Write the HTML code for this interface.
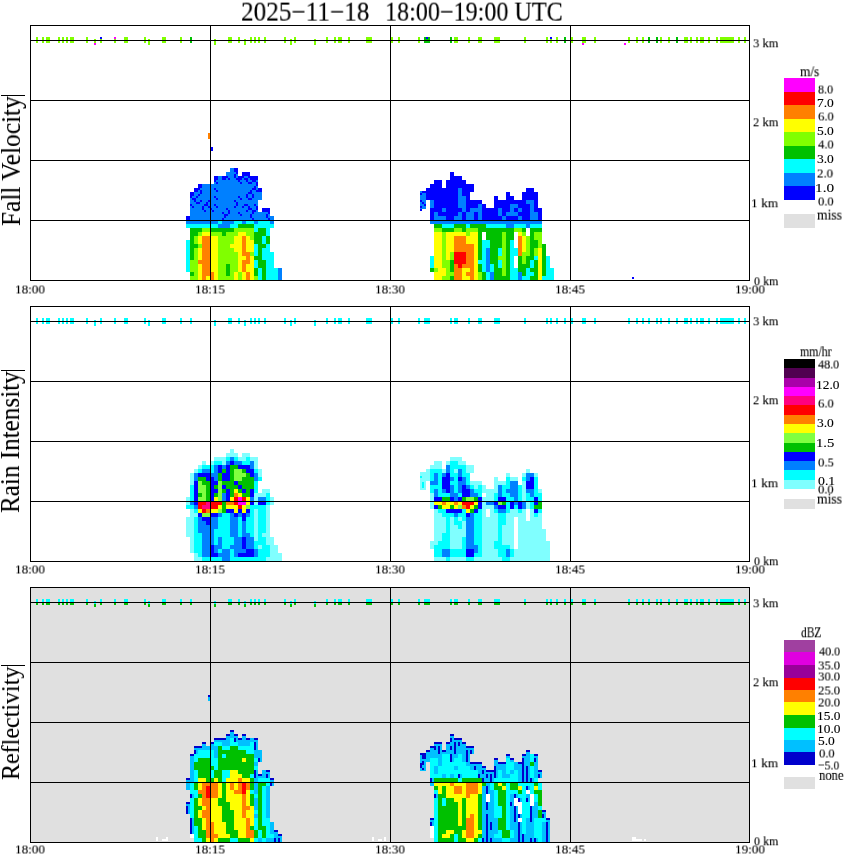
<!DOCTYPE html>
<html><head><meta charset="utf-8">
<style>
html,body{margin:0;padding:0;background:#fff;}
body{width:850px;height:868px;position:relative;overflow:hidden;font-family:"Liberation Serif",serif;color:#000;}
.t{position:absolute;left:0;top:0;white-space:nowrap;line-height:1;transform-origin:0 0;-webkit-font-smoothing:antialiased;will-change:transform;-webkit-text-stroke:0.12px #000;}
svg{position:absolute;left:0;top:0;}
</style></head><body>
<svg width="850" height="868" viewBox="0 0 850 868" shape-rendering="crispEdges">
<rect x="30" y="587" width="720" height="256" fill="#e0e0e0"/>
<rect x="230" y="168" width="4" height="4" fill="#0080ff"/>
<rect x="234" y="168" width="4" height="4" fill="#0000ff"/>
<rect x="226" y="172" width="8" height="4" fill="#0080ff"/>
<rect x="234" y="172" width="4" height="4" fill="#0080ff"/>
<rect x="236" y="172" width="2" height="2" fill="#0000ff"/>
<rect x="234" y="174" width="2" height="2" fill="#0000ff"/>
<rect x="242" y="172" width="8" height="4" fill="#0000ff"/>
<rect x="214" y="176" width="4" height="4" fill="#0000ff"/>
<rect x="218" y="176" width="4" height="4" fill="#0080ff"/>
<rect x="222" y="176" width="4" height="4" fill="#0000ff"/>
<rect x="226" y="176" width="4" height="4" fill="#0080ff"/>
<rect x="226" y="176" width="2" height="2" fill="#0000ff"/>
<rect x="228" y="178" width="2" height="2" fill="#0000ff"/>
<rect x="230" y="176" width="4" height="4" fill="#0080ff"/>
<rect x="234" y="176" width="4" height="4" fill="#0080ff"/>
<rect x="234" y="176" width="2" height="2" fill="#0000ff"/>
<rect x="236" y="178" width="2" height="2" fill="#0000ff"/>
<rect x="238" y="176" width="4" height="4" fill="#0000ff"/>
<rect x="242" y="176" width="8" height="4" fill="#0080ff"/>
<rect x="242" y="176" width="2" height="2" fill="#0000ff"/>
<rect x="244" y="178" width="2" height="2" fill="#0000ff"/>
<rect x="248" y="176" width="2" height="2" fill="#0000ff"/>
<rect x="246" y="178" width="2" height="2" fill="#0000ff"/>
<rect x="250" y="176" width="8" height="4" fill="#0000ff"/>
<rect x="214" y="180" width="4" height="4" fill="#0080ff"/>
<rect x="214" y="180" width="2" height="2" fill="#0000ff"/>
<rect x="216" y="182" width="2" height="2" fill="#0000ff"/>
<rect x="218" y="180" width="20" height="4" fill="#0080ff"/>
<rect x="238" y="180" width="4" height="4" fill="#0080ff"/>
<rect x="238" y="180" width="2" height="2" fill="#0000ff"/>
<rect x="240" y="182" width="2" height="2" fill="#0000ff"/>
<rect x="242" y="180" width="4" height="4" fill="#0080ff"/>
<rect x="246" y="180" width="12" height="4" fill="#0080ff"/>
<rect x="246" y="180" width="2" height="2" fill="#0000ff"/>
<rect x="248" y="182" width="2" height="2" fill="#0000ff"/>
<rect x="252" y="180" width="2" height="2" fill="#0000ff"/>
<rect x="250" y="182" width="2" height="2" fill="#0000ff"/>
<rect x="254" y="180" width="2" height="2" fill="#0000ff"/>
<rect x="256" y="182" width="2" height="2" fill="#0000ff"/>
<rect x="198" y="184" width="4" height="4" fill="#0000ff"/>
<rect x="202" y="184" width="52" height="4" fill="#0080ff"/>
<rect x="254" y="184" width="4" height="4" fill="#0080ff"/>
<rect x="256" y="184" width="2" height="2" fill="#0000ff"/>
<rect x="254" y="186" width="2" height="2" fill="#0000ff"/>
<rect x="194" y="188" width="4" height="4" fill="#0000ff"/>
<rect x="198" y="188" width="4" height="4" fill="#0080ff"/>
<rect x="198" y="188" width="2" height="2" fill="#0000ff"/>
<rect x="200" y="190" width="2" height="2" fill="#0000ff"/>
<rect x="202" y="188" width="12" height="4" fill="#0080ff"/>
<rect x="214" y="188" width="4" height="4" fill="#0080ff"/>
<rect x="214" y="188" width="2" height="2" fill="#0000ff"/>
<rect x="216" y="190" width="2" height="2" fill="#0000ff"/>
<rect x="218" y="188" width="32" height="4" fill="#0080ff"/>
<rect x="250" y="188" width="8" height="4" fill="#0080ff"/>
<rect x="252" y="188" width="2" height="2" fill="#0000ff"/>
<rect x="250" y="190" width="2" height="2" fill="#0000ff"/>
<rect x="254" y="188" width="2" height="2" fill="#0000ff"/>
<rect x="256" y="190" width="2" height="2" fill="#0000ff"/>
<rect x="258" y="188" width="4" height="4" fill="#0000ff"/>
<rect x="190" y="192" width="4" height="4" fill="#0000ff"/>
<rect x="194" y="192" width="4" height="4" fill="#0080ff"/>
<rect x="198" y="192" width="4" height="4" fill="#0080ff"/>
<rect x="200" y="192" width="2" height="2" fill="#0000ff"/>
<rect x="198" y="194" width="2" height="2" fill="#0000ff"/>
<rect x="202" y="192" width="44" height="4" fill="#0080ff"/>
<rect x="246" y="192" width="8" height="4" fill="#0080ff"/>
<rect x="248" y="192" width="2" height="2" fill="#0000ff"/>
<rect x="246" y="194" width="2" height="2" fill="#0000ff"/>
<rect x="250" y="192" width="2" height="2" fill="#0000ff"/>
<rect x="252" y="194" width="2" height="2" fill="#0000ff"/>
<rect x="254" y="192" width="8" height="4" fill="#0080ff"/>
<rect x="190" y="196" width="8" height="4" fill="#0080ff"/>
<rect x="190" y="196" width="2" height="2" fill="#0000ff"/>
<rect x="192" y="198" width="2" height="2" fill="#0000ff"/>
<rect x="196" y="196" width="2" height="2" fill="#0000ff"/>
<rect x="194" y="198" width="2" height="2" fill="#0000ff"/>
<rect x="198" y="196" width="16" height="4" fill="#0080ff"/>
<rect x="214" y="196" width="4" height="4" fill="#0080ff"/>
<rect x="214" y="196" width="2" height="2" fill="#0000ff"/>
<rect x="216" y="198" width="2" height="2" fill="#0000ff"/>
<rect x="218" y="196" width="20" height="4" fill="#0080ff"/>
<rect x="238" y="196" width="4" height="4" fill="#0080ff"/>
<rect x="238" y="196" width="2" height="2" fill="#0000ff"/>
<rect x="240" y="198" width="2" height="2" fill="#0000ff"/>
<rect x="242" y="196" width="4" height="4" fill="#0080ff"/>
<rect x="246" y="196" width="8" height="4" fill="#0080ff"/>
<rect x="246" y="196" width="2" height="2" fill="#0000ff"/>
<rect x="248" y="198" width="2" height="2" fill="#0000ff"/>
<rect x="252" y="196" width="2" height="2" fill="#0000ff"/>
<rect x="250" y="198" width="2" height="2" fill="#0000ff"/>
<rect x="254" y="196" width="8" height="4" fill="#0080ff"/>
<rect x="190" y="200" width="4" height="4" fill="#0080ff"/>
<rect x="194" y="200" width="8" height="4" fill="#0080ff"/>
<rect x="194" y="200" width="2" height="2" fill="#0000ff"/>
<rect x="196" y="202" width="2" height="2" fill="#0000ff"/>
<rect x="200" y="200" width="2" height="2" fill="#0000ff"/>
<rect x="198" y="202" width="2" height="2" fill="#0000ff"/>
<rect x="202" y="200" width="4" height="4" fill="#0080ff"/>
<rect x="206" y="200" width="4" height="4" fill="#0080ff"/>
<rect x="208" y="200" width="2" height="2" fill="#0000ff"/>
<rect x="206" y="202" width="2" height="2" fill="#0000ff"/>
<rect x="210" y="200" width="24" height="4" fill="#0080ff"/>
<rect x="234" y="200" width="4" height="4" fill="#0080ff"/>
<rect x="234" y="200" width="2" height="2" fill="#0000ff"/>
<rect x="236" y="202" width="2" height="2" fill="#0000ff"/>
<rect x="238" y="200" width="20" height="4" fill="#0080ff"/>
<rect x="190" y="204" width="4" height="4" fill="#0080ff"/>
<rect x="190" y="204" width="2" height="2" fill="#0000ff"/>
<rect x="192" y="206" width="2" height="2" fill="#0000ff"/>
<rect x="194" y="204" width="8" height="4" fill="#0080ff"/>
<rect x="202" y="204" width="8" height="4" fill="#0080ff"/>
<rect x="204" y="204" width="2" height="2" fill="#0000ff"/>
<rect x="202" y="206" width="2" height="2" fill="#0000ff"/>
<rect x="206" y="204" width="2" height="2" fill="#0000ff"/>
<rect x="208" y="206" width="2" height="2" fill="#0000ff"/>
<rect x="210" y="204" width="4" height="4" fill="#0080ff"/>
<rect x="214" y="204" width="4" height="4" fill="#0080ff"/>
<rect x="214" y="204" width="2" height="2" fill="#0000ff"/>
<rect x="216" y="206" width="2" height="2" fill="#0000ff"/>
<rect x="218" y="204" width="16" height="4" fill="#0080ff"/>
<rect x="234" y="204" width="4" height="4" fill="#0080ff"/>
<rect x="236" y="204" width="2" height="2" fill="#0000ff"/>
<rect x="234" y="206" width="2" height="2" fill="#0000ff"/>
<rect x="238" y="204" width="4" height="4" fill="#0080ff"/>
<rect x="242" y="204" width="8" height="4" fill="#0080ff"/>
<rect x="244" y="204" width="2" height="2" fill="#0000ff"/>
<rect x="242" y="206" width="2" height="2" fill="#0000ff"/>
<rect x="246" y="204" width="2" height="2" fill="#0000ff"/>
<rect x="248" y="206" width="2" height="2" fill="#0000ff"/>
<rect x="250" y="204" width="4" height="4" fill="#0080ff"/>
<rect x="254" y="204" width="4" height="4" fill="#0080ff"/>
<rect x="254" y="204" width="2" height="2" fill="#0000ff"/>
<rect x="256" y="206" width="2" height="2" fill="#0000ff"/>
<rect x="190" y="208" width="12" height="4" fill="#0080ff"/>
<rect x="202" y="208" width="4" height="4" fill="#0080ff"/>
<rect x="202" y="208" width="2" height="2" fill="#0000ff"/>
<rect x="204" y="210" width="2" height="2" fill="#0000ff"/>
<rect x="206" y="208" width="4" height="4" fill="#0080ff"/>
<rect x="210" y="208" width="4" height="4" fill="#0080ff"/>
<rect x="210" y="208" width="2" height="2" fill="#0000ff"/>
<rect x="212" y="210" width="2" height="2" fill="#0000ff"/>
<rect x="214" y="208" width="12" height="4" fill="#0080ff"/>
<rect x="226" y="208" width="4" height="4" fill="#0080ff"/>
<rect x="226" y="208" width="2" height="2" fill="#0000ff"/>
<rect x="228" y="210" width="2" height="2" fill="#0000ff"/>
<rect x="230" y="208" width="16" height="4" fill="#0080ff"/>
<rect x="246" y="208" width="12" height="4" fill="#0080ff"/>
<rect x="248" y="208" width="2" height="2" fill="#0000ff"/>
<rect x="246" y="210" width="2" height="2" fill="#0000ff"/>
<rect x="250" y="208" width="2" height="2" fill="#0000ff"/>
<rect x="252" y="210" width="2" height="2" fill="#0000ff"/>
<rect x="256" y="208" width="2" height="2" fill="#0000ff"/>
<rect x="254" y="210" width="2" height="2" fill="#0000ff"/>
<rect x="262" y="208" width="8" height="4" fill="#0000ff"/>
<rect x="190" y="212" width="32" height="4" fill="#0080ff"/>
<rect x="222" y="212" width="8" height="4" fill="#0080ff"/>
<rect x="222" y="212" width="2" height="2" fill="#0000ff"/>
<rect x="224" y="214" width="2" height="2" fill="#0000ff"/>
<rect x="228" y="212" width="2" height="2" fill="#0000ff"/>
<rect x="226" y="214" width="2" height="2" fill="#0000ff"/>
<rect x="230" y="212" width="8" height="4" fill="#0080ff"/>
<rect x="238" y="212" width="4" height="4" fill="#0080ff"/>
<rect x="238" y="212" width="2" height="2" fill="#0000ff"/>
<rect x="240" y="214" width="2" height="2" fill="#0000ff"/>
<rect x="242" y="212" width="8" height="4" fill="#0080ff"/>
<rect x="250" y="212" width="4" height="4" fill="#0080ff"/>
<rect x="252" y="212" width="2" height="2" fill="#0000ff"/>
<rect x="250" y="214" width="2" height="2" fill="#0000ff"/>
<rect x="254" y="212" width="12" height="4" fill="#0080ff"/>
<rect x="266" y="212" width="4" height="4" fill="#0080ff"/>
<rect x="268" y="212" width="2" height="2" fill="#0000ff"/>
<rect x="266" y="214" width="2" height="2" fill="#0000ff"/>
<rect x="186" y="216" width="4" height="4" fill="#0000ff"/>
<rect x="190" y="216" width="32" height="4" fill="#0080ff"/>
<rect x="222" y="216" width="4" height="4" fill="#0080ff"/>
<rect x="224" y="216" width="2" height="2" fill="#0000ff"/>
<rect x="222" y="218" width="2" height="2" fill="#0000ff"/>
<rect x="226" y="216" width="24" height="4" fill="#0080ff"/>
<rect x="250" y="216" width="4" height="4" fill="#0080ff"/>
<rect x="250" y="216" width="2" height="2" fill="#0000ff"/>
<rect x="252" y="218" width="2" height="2" fill="#0000ff"/>
<rect x="254" y="216" width="12" height="4" fill="#0080ff"/>
<rect x="266" y="216" width="4" height="4" fill="#0080ff"/>
<rect x="266" y="216" width="2" height="2" fill="#0000ff"/>
<rect x="268" y="218" width="2" height="2" fill="#0000ff"/>
<rect x="270" y="216" width="4" height="4" fill="#0080ff"/>
<rect x="186" y="220" width="32" height="4" fill="#0080ff"/>
<rect x="218" y="220" width="4" height="4" fill="#00ffff"/>
<rect x="222" y="220" width="12" height="4" fill="#0080ff"/>
<rect x="234" y="220" width="8" height="4" fill="#00ffff"/>
<rect x="242" y="220" width="4" height="4" fill="#0080ff"/>
<rect x="246" y="220" width="8" height="4" fill="#00ffff"/>
<rect x="254" y="220" width="4" height="4" fill="#0080ff"/>
<rect x="258" y="220" width="12" height="4" fill="#00ffff"/>
<rect x="270" y="220" width="4" height="4" fill="#0080ff"/>
<rect x="186" y="224" width="32" height="4" fill="#00ffff"/>
<rect x="218" y="224" width="12" height="4" fill="#0080ff"/>
<rect x="230" y="224" width="8" height="4" fill="#00ffff"/>
<rect x="238" y="224" width="16" height="4" fill="#00c000"/>
<rect x="254" y="224" width="20" height="4" fill="#00ffff"/>
<rect x="190" y="228" width="12" height="4" fill="#00c000"/>
<rect x="202" y="228" width="8" height="4" fill="#80ff00"/>
<rect x="210" y="228" width="24" height="4" fill="#00c000"/>
<rect x="234" y="228" width="20" height="4" fill="#80ff00"/>
<rect x="254" y="228" width="4" height="4" fill="#00ffff"/>
<rect x="258" y="228" width="8" height="4" fill="#00c000"/>
<rect x="266" y="228" width="4" height="4" fill="#00ffff"/>
<rect x="190" y="232" width="8" height="4" fill="#00c000"/>
<rect x="198" y="232" width="4" height="4" fill="#80ff00"/>
<rect x="202" y="232" width="8" height="4" fill="#ffff00"/>
<rect x="210" y="232" width="12" height="4" fill="#80ff00"/>
<rect x="222" y="232" width="4" height="4" fill="#00c000"/>
<rect x="226" y="232" width="12" height="4" fill="#80ff00"/>
<rect x="238" y="232" width="8" height="4" fill="#ffff00"/>
<rect x="246" y="232" width="8" height="4" fill="#80ff00"/>
<rect x="254" y="232" width="12" height="4" fill="#00c000"/>
<rect x="266" y="232" width="4" height="4" fill="#00ffff"/>
<rect x="190" y="236" width="4" height="4" fill="#00c000"/>
<rect x="194" y="236" width="4" height="4" fill="#80ff00"/>
<rect x="198" y="236" width="4" height="4" fill="#ffff00"/>
<rect x="202" y="236" width="8" height="4" fill="#ff8000"/>
<rect x="210" y="236" width="8" height="4" fill="#ffff00"/>
<rect x="218" y="236" width="16" height="4" fill="#80ff00"/>
<rect x="234" y="236" width="8" height="4" fill="#ffff00"/>
<rect x="242" y="236" width="4" height="4" fill="#ff8000"/>
<rect x="246" y="236" width="4" height="4" fill="#ffff00"/>
<rect x="250" y="236" width="4" height="4" fill="#80ff00"/>
<rect x="254" y="236" width="8" height="4" fill="#00c000"/>
<rect x="262" y="236" width="4" height="4" fill="#00ffff"/>
<rect x="266" y="236" width="4" height="4" fill="#00c000"/>
<rect x="186" y="240" width="4" height="4" fill="#00ffff"/>
<rect x="190" y="240" width="4" height="4" fill="#00c000"/>
<rect x="194" y="240" width="4" height="4" fill="#80ff00"/>
<rect x="198" y="240" width="4" height="4" fill="#ffff00"/>
<rect x="202" y="240" width="8" height="4" fill="#ff8000"/>
<rect x="210" y="240" width="8" height="4" fill="#ffff00"/>
<rect x="218" y="240" width="16" height="4" fill="#80ff00"/>
<rect x="234" y="240" width="8" height="4" fill="#ffff00"/>
<rect x="242" y="240" width="4" height="4" fill="#ff8000"/>
<rect x="246" y="240" width="8" height="4" fill="#ffff00"/>
<rect x="254" y="240" width="8" height="4" fill="#00c000"/>
<rect x="262" y="240" width="4" height="4" fill="#00ffff"/>
<rect x="266" y="240" width="4" height="4" fill="#00c000"/>
<rect x="186" y="244" width="4" height="4" fill="#00ffff"/>
<rect x="190" y="244" width="8" height="4" fill="#00c000"/>
<rect x="198" y="244" width="4" height="4" fill="#80ff00"/>
<rect x="202" y="244" width="8" height="4" fill="#ff8000"/>
<rect x="210" y="244" width="8" height="4" fill="#ffff00"/>
<rect x="218" y="244" width="12" height="4" fill="#80ff00"/>
<rect x="230" y="244" width="12" height="4" fill="#ffff00"/>
<rect x="242" y="244" width="4" height="4" fill="#ff8000"/>
<rect x="246" y="244" width="8" height="4" fill="#ffff00"/>
<rect x="254" y="244" width="4" height="4" fill="#00ffff"/>
<rect x="258" y="244" width="8" height="4" fill="#00c000"/>
<rect x="266" y="244" width="4" height="4" fill="#00ffff"/>
<rect x="186" y="248" width="4" height="4" fill="#00ffff"/>
<rect x="190" y="248" width="4" height="4" fill="#00c000"/>
<rect x="194" y="248" width="4" height="4" fill="#80ff00"/>
<rect x="198" y="248" width="4" height="4" fill="#ffff00"/>
<rect x="202" y="248" width="8" height="4" fill="#ff8000"/>
<rect x="210" y="248" width="8" height="4" fill="#ffff00"/>
<rect x="218" y="248" width="16" height="4" fill="#80ff00"/>
<rect x="234" y="248" width="8" height="4" fill="#ffff00"/>
<rect x="242" y="248" width="4" height="4" fill="#ff8000"/>
<rect x="246" y="248" width="8" height="4" fill="#ffff00"/>
<rect x="254" y="248" width="4" height="4" fill="#00ffff"/>
<rect x="258" y="248" width="4" height="4" fill="#00c000"/>
<rect x="262" y="248" width="8" height="4" fill="#00ffff"/>
<rect x="186" y="252" width="4" height="4" fill="#00ffff"/>
<rect x="190" y="252" width="4" height="4" fill="#00c000"/>
<rect x="194" y="252" width="4" height="4" fill="#80ff00"/>
<rect x="198" y="252" width="4" height="4" fill="#ffff00"/>
<rect x="202" y="252" width="8" height="4" fill="#ff8000"/>
<rect x="210" y="252" width="8" height="4" fill="#ffff00"/>
<rect x="218" y="252" width="20" height="4" fill="#80ff00"/>
<rect x="238" y="252" width="4" height="4" fill="#ffff00"/>
<rect x="242" y="252" width="8" height="4" fill="#ff8000"/>
<rect x="250" y="252" width="4" height="4" fill="#80ff00"/>
<rect x="254" y="252" width="4" height="4" fill="#00ffff"/>
<rect x="258" y="252" width="4" height="4" fill="#00c000"/>
<rect x="262" y="252" width="12" height="4" fill="#00ffff"/>
<rect x="186" y="256" width="4" height="4" fill="#00ffff"/>
<rect x="190" y="256" width="4" height="4" fill="#00c000"/>
<rect x="194" y="256" width="4" height="4" fill="#80ff00"/>
<rect x="198" y="256" width="4" height="4" fill="#ffff00"/>
<rect x="202" y="256" width="8" height="4" fill="#ff8000"/>
<rect x="210" y="256" width="8" height="4" fill="#ffff00"/>
<rect x="218" y="256" width="20" height="4" fill="#80ff00"/>
<rect x="238" y="256" width="8" height="4" fill="#ffff00"/>
<rect x="246" y="256" width="4" height="4" fill="#ff8000"/>
<rect x="250" y="256" width="4" height="4" fill="#ffff00"/>
<rect x="254" y="256" width="8" height="4" fill="#00c000"/>
<rect x="262" y="256" width="12" height="4" fill="#00ffff"/>
<rect x="186" y="260" width="4" height="4" fill="#00ffff"/>
<rect x="190" y="260" width="8" height="4" fill="#80ff00"/>
<rect x="198" y="260" width="12" height="4" fill="#ff8000"/>
<rect x="210" y="260" width="8" height="4" fill="#ffff00"/>
<rect x="218" y="260" width="20" height="4" fill="#80ff00"/>
<rect x="238" y="260" width="4" height="4" fill="#ffff00"/>
<rect x="242" y="260" width="8" height="4" fill="#ff8000"/>
<rect x="250" y="260" width="4" height="4" fill="#ffff00"/>
<rect x="254" y="260" width="4" height="4" fill="#00ffff"/>
<rect x="258" y="260" width="8" height="4" fill="#00c000"/>
<rect x="266" y="260" width="8" height="4" fill="#00ffff"/>
<rect x="186" y="264" width="4" height="4" fill="#00ffff"/>
<rect x="190" y="264" width="8" height="4" fill="#80ff00"/>
<rect x="198" y="264" width="4" height="4" fill="#ffff00"/>
<rect x="202" y="264" width="8" height="4" fill="#ff8000"/>
<rect x="210" y="264" width="8" height="4" fill="#ffff00"/>
<rect x="218" y="264" width="8" height="4" fill="#80ff00"/>
<rect x="226" y="264" width="4" height="4" fill="#00c000"/>
<rect x="230" y="264" width="8" height="4" fill="#80ff00"/>
<rect x="238" y="264" width="4" height="4" fill="#ffff00"/>
<rect x="242" y="264" width="4" height="4" fill="#ff8000"/>
<rect x="246" y="264" width="8" height="4" fill="#ffff00"/>
<rect x="254" y="264" width="4" height="4" fill="#00ffff"/>
<rect x="258" y="264" width="8" height="4" fill="#00c000"/>
<rect x="266" y="264" width="8" height="4" fill="#00ffff"/>
<rect x="186" y="268" width="4" height="4" fill="#00ffff"/>
<rect x="190" y="268" width="8" height="4" fill="#80ff00"/>
<rect x="198" y="268" width="4" height="4" fill="#ffff00"/>
<rect x="202" y="268" width="8" height="4" fill="#ff8000"/>
<rect x="210" y="268" width="8" height="4" fill="#ffff00"/>
<rect x="218" y="268" width="8" height="4" fill="#80ff00"/>
<rect x="226" y="268" width="4" height="4" fill="#00c000"/>
<rect x="230" y="268" width="8" height="4" fill="#80ff00"/>
<rect x="238" y="268" width="4" height="4" fill="#ffff00"/>
<rect x="242" y="268" width="4" height="4" fill="#ff8000"/>
<rect x="246" y="268" width="8" height="4" fill="#ffff00"/>
<rect x="254" y="268" width="4" height="4" fill="#00c000"/>
<rect x="258" y="268" width="4" height="4" fill="#00ffff"/>
<rect x="262" y="268" width="4" height="4" fill="#00c000"/>
<rect x="266" y="268" width="12" height="4" fill="#00ffff"/>
<rect x="278" y="268" width="4" height="4" fill="#0080ff"/>
<rect x="190" y="272" width="4" height="4" fill="#00c000"/>
<rect x="194" y="272" width="4" height="4" fill="#80ff00"/>
<rect x="198" y="272" width="4" height="4" fill="#ffff00"/>
<rect x="202" y="272" width="12" height="4" fill="#ff8000"/>
<rect x="214" y="272" width="4" height="4" fill="#ffff00"/>
<rect x="218" y="272" width="8" height="4" fill="#80ff00"/>
<rect x="226" y="272" width="4" height="4" fill="#00c000"/>
<rect x="230" y="272" width="4" height="4" fill="#80ff00"/>
<rect x="234" y="272" width="4" height="4" fill="#ffff00"/>
<rect x="238" y="272" width="4" height="4" fill="#80ff00"/>
<rect x="242" y="272" width="4" height="4" fill="#ffff00"/>
<rect x="246" y="272" width="4" height="4" fill="#ff8000"/>
<rect x="250" y="272" width="4" height="4" fill="#ffff00"/>
<rect x="254" y="272" width="4" height="4" fill="#00c000"/>
<rect x="258" y="272" width="4" height="4" fill="#00ffff"/>
<rect x="262" y="272" width="4" height="4" fill="#00c000"/>
<rect x="266" y="272" width="12" height="4" fill="#00ffff"/>
<rect x="278" y="272" width="4" height="4" fill="#0080ff"/>
<rect x="190" y="276" width="8" height="4" fill="#80ff00"/>
<rect x="198" y="276" width="4" height="4" fill="#ffff00"/>
<rect x="202" y="276" width="4" height="4" fill="#ff8000"/>
<rect x="206" y="276" width="4" height="4" fill="#ffff00"/>
<rect x="210" y="276" width="4" height="4" fill="#ff8000"/>
<rect x="214" y="276" width="4" height="4" fill="#ffff00"/>
<rect x="218" y="276" width="16" height="4" fill="#80ff00"/>
<rect x="234" y="276" width="4" height="4" fill="#ffff00"/>
<rect x="238" y="276" width="4" height="4" fill="#80ff00"/>
<rect x="242" y="276" width="4" height="4" fill="#ffff00"/>
<rect x="246" y="276" width="4" height="4" fill="#ff8000"/>
<rect x="250" y="276" width="4" height="4" fill="#ffff00"/>
<rect x="254" y="276" width="4" height="4" fill="#80ff00"/>
<rect x="258" y="276" width="4" height="4" fill="#00ffff"/>
<rect x="262" y="276" width="4" height="4" fill="#00c000"/>
<rect x="266" y="276" width="12" height="4" fill="#00ffff"/>
<rect x="278" y="276" width="4" height="4" fill="#0080ff"/>
<rect x="450" y="172" width="4" height="4" fill="#0000ff"/>
<rect x="450" y="176" width="12" height="4" fill="#0000ff"/>
<rect x="434" y="180" width="8" height="4" fill="#0000ff"/>
<rect x="446" y="180" width="20" height="4" fill="#0000ff"/>
<rect x="430" y="184" width="12" height="4" fill="#0000ff"/>
<rect x="446" y="184" width="28" height="4" fill="#0000ff"/>
<rect x="426" y="188" width="32" height="4" fill="#0000ff"/>
<rect x="458" y="188" width="4" height="4" fill="#0080ff"/>
<rect x="462" y="188" width="12" height="4" fill="#0000ff"/>
<rect x="526" y="188" width="8" height="4" fill="#0000ff"/>
<rect x="426" y="192" width="32" height="4" fill="#0000ff"/>
<rect x="458" y="192" width="4" height="4" fill="#0080ff"/>
<rect x="462" y="192" width="8" height="4" fill="#0000ff"/>
<rect x="506" y="192" width="4" height="4" fill="#0000ff"/>
<rect x="522" y="192" width="16" height="4" fill="#0000ff"/>
<rect x="426" y="196" width="32" height="4" fill="#0000ff"/>
<rect x="458" y="196" width="8" height="4" fill="#0080ff"/>
<rect x="466" y="196" width="4" height="4" fill="#0000ff"/>
<rect x="494" y="196" width="4" height="4" fill="#0000ff"/>
<rect x="506" y="196" width="8" height="4" fill="#0000ff"/>
<rect x="522" y="196" width="16" height="4" fill="#0000ff"/>
<rect x="430" y="200" width="4" height="4" fill="#0080ff"/>
<rect x="434" y="200" width="24" height="4" fill="#0000ff"/>
<rect x="458" y="200" width="8" height="4" fill="#0080ff"/>
<rect x="466" y="200" width="16" height="4" fill="#0000ff"/>
<rect x="494" y="200" width="32" height="4" fill="#0000ff"/>
<rect x="526" y="200" width="8" height="4" fill="#0080ff"/>
<rect x="534" y="200" width="4" height="4" fill="#0000ff"/>
<rect x="430" y="204" width="4" height="4" fill="#0080ff"/>
<rect x="434" y="204" width="24" height="4" fill="#0000ff"/>
<rect x="458" y="204" width="8" height="4" fill="#0080ff"/>
<rect x="466" y="204" width="12" height="4" fill="#0000ff"/>
<rect x="478" y="204" width="4" height="4" fill="#0080ff"/>
<rect x="482" y="204" width="4" height="4" fill="#0000ff"/>
<rect x="494" y="204" width="16" height="4" fill="#0000ff"/>
<rect x="510" y="204" width="8" height="4" fill="#0080ff"/>
<rect x="518" y="204" width="12" height="4" fill="#0000ff"/>
<rect x="530" y="204" width="4" height="4" fill="#0080ff"/>
<rect x="534" y="204" width="4" height="4" fill="#0000ff"/>
<rect x="430" y="208" width="12" height="4" fill="#0000ff"/>
<rect x="442" y="208" width="4" height="4" fill="#0080ff"/>
<rect x="446" y="208" width="16" height="4" fill="#0000ff"/>
<rect x="462" y="208" width="4" height="4" fill="#0080ff"/>
<rect x="466" y="208" width="4" height="4" fill="#0000ff"/>
<rect x="470" y="208" width="12" height="4" fill="#0080ff"/>
<rect x="482" y="208" width="16" height="4" fill="#0000ff"/>
<rect x="498" y="208" width="4" height="4" fill="#0080ff"/>
<rect x="502" y="208" width="8" height="4" fill="#0000ff"/>
<rect x="510" y="208" width="4" height="4" fill="#0080ff"/>
<rect x="514" y="208" width="4" height="4" fill="#0000ff"/>
<rect x="518" y="208" width="4" height="4" fill="#0080ff"/>
<rect x="522" y="208" width="8" height="4" fill="#0000ff"/>
<rect x="530" y="208" width="4" height="4" fill="#0080ff"/>
<rect x="534" y="208" width="8" height="4" fill="#0000ff"/>
<rect x="430" y="212" width="4" height="4" fill="#0000ff"/>
<rect x="434" y="212" width="4" height="4" fill="#0080ff"/>
<rect x="438" y="212" width="20" height="4" fill="#0000ff"/>
<rect x="458" y="212" width="4" height="4" fill="#0080ff"/>
<rect x="462" y="212" width="4" height="4" fill="#0000ff"/>
<rect x="466" y="212" width="8" height="4" fill="#0080ff"/>
<rect x="474" y="212" width="4" height="4" fill="#0000ff"/>
<rect x="478" y="212" width="4" height="4" fill="#0080ff"/>
<rect x="482" y="212" width="16" height="4" fill="#0000ff"/>
<rect x="498" y="212" width="4" height="4" fill="#0080ff"/>
<rect x="502" y="212" width="4" height="4" fill="#0000ff"/>
<rect x="506" y="212" width="12" height="4" fill="#0080ff"/>
<rect x="518" y="212" width="12" height="4" fill="#0000ff"/>
<rect x="530" y="212" width="8" height="4" fill="#0080ff"/>
<rect x="538" y="212" width="4" height="4" fill="#0000ff"/>
<rect x="430" y="216" width="4" height="4" fill="#0000ff"/>
<rect x="434" y="216" width="12" height="4" fill="#0080ff"/>
<rect x="446" y="216" width="8" height="4" fill="#0000ff"/>
<rect x="454" y="216" width="8" height="4" fill="#0080ff"/>
<rect x="462" y="216" width="4" height="4" fill="#0000ff"/>
<rect x="466" y="216" width="8" height="4" fill="#0080ff"/>
<rect x="474" y="216" width="4" height="4" fill="#0000ff"/>
<rect x="478" y="216" width="4" height="4" fill="#0080ff"/>
<rect x="482" y="216" width="20" height="4" fill="#0000ff"/>
<rect x="502" y="216" width="4" height="4" fill="#0080ff"/>
<rect x="506" y="216" width="12" height="4" fill="#0000ff"/>
<rect x="518" y="216" width="4" height="4" fill="#0080ff"/>
<rect x="522" y="216" width="8" height="4" fill="#0000ff"/>
<rect x="530" y="216" width="8" height="4" fill="#0080ff"/>
<rect x="538" y="216" width="4" height="4" fill="#0000ff"/>
<rect x="430" y="220" width="112" height="4" fill="#0080ff"/>
<rect x="434" y="224" width="8" height="4" fill="#00c000"/>
<rect x="442" y="224" width="12" height="4" fill="#00ffff"/>
<rect x="454" y="224" width="12" height="4" fill="#00c000"/>
<rect x="466" y="224" width="4" height="4" fill="#00ffff"/>
<rect x="470" y="224" width="16" height="4" fill="#00c000"/>
<rect x="486" y="224" width="20" height="4" fill="#00ffff"/>
<rect x="506" y="224" width="8" height="4" fill="#0080ff"/>
<rect x="514" y="224" width="12" height="4" fill="#00ffff"/>
<rect x="526" y="224" width="4" height="4" fill="#0080ff"/>
<rect x="530" y="224" width="12" height="4" fill="#00ffff"/>
<rect x="434" y="228" width="8" height="4" fill="#80ff00"/>
<rect x="442" y="228" width="12" height="4" fill="#00c000"/>
<rect x="454" y="228" width="8" height="4" fill="#80ff00"/>
<rect x="462" y="228" width="4" height="4" fill="#00c000"/>
<rect x="466" y="228" width="12" height="4" fill="#80ff00"/>
<rect x="478" y="228" width="36" height="4" fill="#00c000"/>
<rect x="514" y="228" width="8" height="4" fill="#80ff00"/>
<rect x="522" y="228" width="4" height="4" fill="#00c000"/>
<rect x="530" y="228" width="12" height="4" fill="#00c000"/>
<rect x="434" y="232" width="8" height="4" fill="#ffff00"/>
<rect x="442" y="232" width="4" height="4" fill="#80ff00"/>
<rect x="446" y="232" width="20" height="4" fill="#ffff00"/>
<rect x="466" y="232" width="4" height="4" fill="#80ff00"/>
<rect x="470" y="232" width="8" height="4" fill="#ffff00"/>
<rect x="478" y="232" width="4" height="4" fill="#00c000"/>
<rect x="486" y="232" width="16" height="4" fill="#00c000"/>
<rect x="502" y="232" width="4" height="4" fill="#80ff00"/>
<rect x="506" y="232" width="8" height="4" fill="#00c000"/>
<rect x="518" y="232" width="4" height="4" fill="#ffff00"/>
<rect x="522" y="232" width="4" height="4" fill="#80ff00"/>
<rect x="530" y="232" width="4" height="4" fill="#00c000"/>
<rect x="534" y="232" width="8" height="4" fill="#80ff00"/>
<rect x="434" y="236" width="8" height="4" fill="#ffff00"/>
<rect x="442" y="236" width="4" height="4" fill="#80ff00"/>
<rect x="446" y="236" width="8" height="4" fill="#ffff00"/>
<rect x="454" y="236" width="12" height="4" fill="#ff8000"/>
<rect x="466" y="236" width="12" height="4" fill="#ffff00"/>
<rect x="478" y="236" width="4" height="4" fill="#00c000"/>
<rect x="486" y="236" width="16" height="4" fill="#00c000"/>
<rect x="502" y="236" width="4" height="4" fill="#80ff00"/>
<rect x="506" y="236" width="8" height="4" fill="#00c000"/>
<rect x="518" y="236" width="4" height="4" fill="#ff8000"/>
<rect x="522" y="236" width="4" height="4" fill="#ffff00"/>
<rect x="526" y="236" width="4" height="4" fill="#80ff00"/>
<rect x="530" y="236" width="4" height="4" fill="#00c000"/>
<rect x="534" y="236" width="8" height="4" fill="#80ff00"/>
<rect x="434" y="240" width="8" height="4" fill="#ffff00"/>
<rect x="442" y="240" width="4" height="4" fill="#80ff00"/>
<rect x="446" y="240" width="8" height="4" fill="#ffff00"/>
<rect x="454" y="240" width="12" height="4" fill="#ff8000"/>
<rect x="466" y="240" width="12" height="4" fill="#ffff00"/>
<rect x="478" y="240" width="4" height="4" fill="#00c000"/>
<rect x="482" y="240" width="8" height="4" fill="#00ffff"/>
<rect x="490" y="240" width="12" height="4" fill="#00c000"/>
<rect x="502" y="240" width="4" height="4" fill="#80ff00"/>
<rect x="506" y="240" width="4" height="4" fill="#00c000"/>
<rect x="510" y="240" width="4" height="4" fill="#00ffff"/>
<rect x="518" y="240" width="4" height="4" fill="#ff8000"/>
<rect x="522" y="240" width="4" height="4" fill="#ffff00"/>
<rect x="526" y="240" width="4" height="4" fill="#80ff00"/>
<rect x="530" y="240" width="8" height="4" fill="#00c000"/>
<rect x="538" y="240" width="4" height="4" fill="#80ff00"/>
<rect x="434" y="244" width="8" height="4" fill="#ffff00"/>
<rect x="442" y="244" width="4" height="4" fill="#80ff00"/>
<rect x="446" y="244" width="8" height="4" fill="#ffff00"/>
<rect x="454" y="244" width="20" height="4" fill="#ff8000"/>
<rect x="474" y="244" width="4" height="4" fill="#ffff00"/>
<rect x="478" y="244" width="4" height="4" fill="#00c000"/>
<rect x="482" y="244" width="8" height="4" fill="#00ffff"/>
<rect x="490" y="244" width="12" height="4" fill="#00c000"/>
<rect x="502" y="244" width="4" height="4" fill="#80ff00"/>
<rect x="506" y="244" width="4" height="4" fill="#00c000"/>
<rect x="510" y="244" width="4" height="4" fill="#00ffff"/>
<rect x="518" y="244" width="4" height="4" fill="#ff8000"/>
<rect x="522" y="244" width="4" height="4" fill="#ffff00"/>
<rect x="526" y="244" width="4" height="4" fill="#80ff00"/>
<rect x="530" y="244" width="8" height="4" fill="#00c000"/>
<rect x="538" y="244" width="4" height="4" fill="#80ff00"/>
<rect x="542" y="244" width="4" height="4" fill="#00c000"/>
<rect x="434" y="248" width="8" height="4" fill="#ffff00"/>
<rect x="442" y="248" width="4" height="4" fill="#80ff00"/>
<rect x="446" y="248" width="8" height="4" fill="#ffff00"/>
<rect x="454" y="248" width="20" height="4" fill="#ff8000"/>
<rect x="474" y="248" width="4" height="4" fill="#ffff00"/>
<rect x="478" y="248" width="4" height="4" fill="#00c000"/>
<rect x="482" y="248" width="4" height="4" fill="#00ffff"/>
<rect x="486" y="248" width="4" height="4" fill="#0080ff"/>
<rect x="490" y="248" width="8" height="4" fill="#00c000"/>
<rect x="498" y="248" width="4" height="4" fill="#00ffff"/>
<rect x="502" y="248" width="4" height="4" fill="#80ff00"/>
<rect x="506" y="248" width="4" height="4" fill="#00c000"/>
<rect x="510" y="248" width="8" height="4" fill="#00ffff"/>
<rect x="518" y="248" width="4" height="4" fill="#ff8000"/>
<rect x="522" y="248" width="4" height="4" fill="#ffff00"/>
<rect x="526" y="248" width="4" height="4" fill="#80ff00"/>
<rect x="530" y="248" width="4" height="4" fill="#00c000"/>
<rect x="534" y="248" width="4" height="4" fill="#80ff00"/>
<rect x="538" y="248" width="4" height="4" fill="#ffff00"/>
<rect x="542" y="248" width="4" height="4" fill="#00c000"/>
<rect x="434" y="252" width="8" height="4" fill="#ffff00"/>
<rect x="442" y="252" width="4" height="4" fill="#80ff00"/>
<rect x="446" y="252" width="4" height="4" fill="#ffff00"/>
<rect x="450" y="252" width="4" height="4" fill="#80ff00"/>
<rect x="454" y="252" width="12" height="4" fill="#ff0000"/>
<rect x="466" y="252" width="8" height="4" fill="#ff8000"/>
<rect x="474" y="252" width="4" height="4" fill="#ffff00"/>
<rect x="478" y="252" width="4" height="4" fill="#00c000"/>
<rect x="482" y="252" width="4" height="4" fill="#00ffff"/>
<rect x="486" y="252" width="4" height="4" fill="#0080ff"/>
<rect x="490" y="252" width="8" height="4" fill="#00c000"/>
<rect x="498" y="252" width="4" height="4" fill="#00ffff"/>
<rect x="502" y="252" width="4" height="4" fill="#80ff00"/>
<rect x="506" y="252" width="4" height="4" fill="#00c000"/>
<rect x="510" y="252" width="8" height="4" fill="#00ffff"/>
<rect x="518" y="252" width="4" height="4" fill="#ff8000"/>
<rect x="522" y="252" width="8" height="4" fill="#80ff00"/>
<rect x="530" y="252" width="4" height="4" fill="#00c000"/>
<rect x="534" y="252" width="4" height="4" fill="#80ff00"/>
<rect x="538" y="252" width="4" height="4" fill="#ffff00"/>
<rect x="542" y="252" width="4" height="4" fill="#00c000"/>
<rect x="430" y="256" width="4" height="4" fill="#00ffff"/>
<rect x="434" y="256" width="8" height="4" fill="#ffff00"/>
<rect x="442" y="256" width="4" height="4" fill="#80ff00"/>
<rect x="446" y="256" width="4" height="4" fill="#ffff00"/>
<rect x="450" y="256" width="4" height="4" fill="#80ff00"/>
<rect x="454" y="256" width="12" height="4" fill="#ff0000"/>
<rect x="466" y="256" width="8" height="4" fill="#ff8000"/>
<rect x="474" y="256" width="4" height="4" fill="#ffff00"/>
<rect x="478" y="256" width="4" height="4" fill="#00c000"/>
<rect x="482" y="256" width="4" height="4" fill="#00ffff"/>
<rect x="486" y="256" width="4" height="4" fill="#0080ff"/>
<rect x="490" y="256" width="8" height="4" fill="#00c000"/>
<rect x="498" y="256" width="8" height="4" fill="#80ff00"/>
<rect x="506" y="256" width="4" height="4" fill="#00c000"/>
<rect x="510" y="256" width="4" height="4" fill="#00ffff"/>
<rect x="518" y="256" width="4" height="4" fill="#00c000"/>
<rect x="522" y="256" width="4" height="4" fill="#80ff00"/>
<rect x="526" y="256" width="8" height="4" fill="#00c000"/>
<rect x="534" y="256" width="4" height="4" fill="#00ffff"/>
<rect x="538" y="256" width="4" height="4" fill="#ffff00"/>
<rect x="542" y="256" width="4" height="4" fill="#00c000"/>
<rect x="546" y="256" width="4" height="4" fill="#00ffff"/>
<rect x="430" y="260" width="4" height="4" fill="#00ffff"/>
<rect x="434" y="260" width="8" height="4" fill="#ffff00"/>
<rect x="442" y="260" width="8" height="4" fill="#80ff00"/>
<rect x="450" y="260" width="4" height="4" fill="#00c000"/>
<rect x="454" y="260" width="12" height="4" fill="#ff0000"/>
<rect x="466" y="260" width="8" height="4" fill="#ff8000"/>
<rect x="474" y="260" width="4" height="4" fill="#ffff00"/>
<rect x="478" y="260" width="8" height="4" fill="#00ffff"/>
<rect x="486" y="260" width="4" height="4" fill="#0080ff"/>
<rect x="490" y="260" width="8" height="4" fill="#00c000"/>
<rect x="498" y="260" width="4" height="4" fill="#00ffff"/>
<rect x="502" y="260" width="4" height="4" fill="#80ff00"/>
<rect x="506" y="260" width="4" height="4" fill="#00c000"/>
<rect x="510" y="260" width="4" height="4" fill="#00ffff"/>
<rect x="518" y="260" width="4" height="4" fill="#00c000"/>
<rect x="522" y="260" width="4" height="4" fill="#80ff00"/>
<rect x="526" y="260" width="4" height="4" fill="#00c000"/>
<rect x="530" y="260" width="4" height="4" fill="#00ffff"/>
<rect x="534" y="260" width="4" height="4" fill="#00c000"/>
<rect x="538" y="260" width="4" height="4" fill="#ffff00"/>
<rect x="542" y="260" width="4" height="4" fill="#00c000"/>
<rect x="546" y="260" width="4" height="4" fill="#00ffff"/>
<rect x="430" y="264" width="4" height="4" fill="#00ffff"/>
<rect x="434" y="264" width="8" height="4" fill="#ffff00"/>
<rect x="442" y="264" width="8" height="4" fill="#80ff00"/>
<rect x="450" y="264" width="4" height="4" fill="#00c000"/>
<rect x="454" y="264" width="4" height="4" fill="#ff8000"/>
<rect x="458" y="264" width="4" height="4" fill="#ff0000"/>
<rect x="462" y="264" width="12" height="4" fill="#ff8000"/>
<rect x="474" y="264" width="4" height="4" fill="#ffff00"/>
<rect x="478" y="264" width="4" height="4" fill="#00c000"/>
<rect x="482" y="264" width="4" height="4" fill="#00ffff"/>
<rect x="486" y="264" width="4" height="4" fill="#0080ff"/>
<rect x="490" y="264" width="4" height="4" fill="#00ffff"/>
<rect x="494" y="264" width="4" height="4" fill="#00c000"/>
<rect x="498" y="264" width="4" height="4" fill="#00ffff"/>
<rect x="502" y="264" width="4" height="4" fill="#80ff00"/>
<rect x="506" y="264" width="4" height="4" fill="#00c000"/>
<rect x="510" y="264" width="4" height="4" fill="#00ffff"/>
<rect x="518" y="264" width="12" height="4" fill="#00c000"/>
<rect x="530" y="264" width="4" height="4" fill="#00ffff"/>
<rect x="534" y="264" width="4" height="4" fill="#00c000"/>
<rect x="538" y="264" width="4" height="4" fill="#ffff00"/>
<rect x="542" y="264" width="4" height="4" fill="#00c000"/>
<rect x="546" y="264" width="4" height="4" fill="#00ffff"/>
<rect x="430" y="268" width="4" height="4" fill="#00c000"/>
<rect x="434" y="268" width="4" height="4" fill="#80ff00"/>
<rect x="438" y="268" width="8" height="4" fill="#ffff00"/>
<rect x="446" y="268" width="4" height="4" fill="#80ff00"/>
<rect x="450" y="268" width="4" height="4" fill="#00c000"/>
<rect x="454" y="268" width="8" height="4" fill="#ff8000"/>
<rect x="462" y="268" width="8" height="4" fill="#ffff00"/>
<rect x="470" y="268" width="4" height="4" fill="#ff8000"/>
<rect x="474" y="268" width="4" height="4" fill="#ffff00"/>
<rect x="478" y="268" width="4" height="4" fill="#00c000"/>
<rect x="482" y="268" width="4" height="4" fill="#00ffff"/>
<rect x="486" y="268" width="4" height="4" fill="#0080ff"/>
<rect x="490" y="268" width="4" height="4" fill="#00ffff"/>
<rect x="494" y="268" width="8" height="4" fill="#00c000"/>
<rect x="502" y="268" width="4" height="4" fill="#80ff00"/>
<rect x="506" y="268" width="4" height="4" fill="#00c000"/>
<rect x="510" y="268" width="8" height="4" fill="#00ffff"/>
<rect x="518" y="268" width="8" height="4" fill="#00c000"/>
<rect x="526" y="268" width="4" height="4" fill="#00ffff"/>
<rect x="530" y="268" width="8" height="4" fill="#00c000"/>
<rect x="538" y="268" width="4" height="4" fill="#ffff00"/>
<rect x="542" y="268" width="4" height="4" fill="#00c000"/>
<rect x="546" y="268" width="8" height="4" fill="#00ffff"/>
<rect x="434" y="272" width="12" height="4" fill="#ffff00"/>
<rect x="446" y="272" width="8" height="4" fill="#80ff00"/>
<rect x="454" y="272" width="8" height="4" fill="#ff8000"/>
<rect x="462" y="272" width="4" height="4" fill="#ffff00"/>
<rect x="466" y="272" width="8" height="4" fill="#ff8000"/>
<rect x="474" y="272" width="4" height="4" fill="#ffff00"/>
<rect x="478" y="272" width="4" height="4" fill="#80ff00"/>
<rect x="482" y="272" width="4" height="4" fill="#00c000"/>
<rect x="486" y="272" width="4" height="4" fill="#00ffff"/>
<rect x="490" y="272" width="4" height="4" fill="#0080ff"/>
<rect x="494" y="272" width="8" height="4" fill="#00c000"/>
<rect x="502" y="272" width="4" height="4" fill="#80ff00"/>
<rect x="506" y="272" width="4" height="4" fill="#00c000"/>
<rect x="510" y="272" width="8" height="4" fill="#00ffff"/>
<rect x="518" y="272" width="4" height="4" fill="#0080ff"/>
<rect x="522" y="272" width="4" height="4" fill="#00c000"/>
<rect x="526" y="272" width="8" height="4" fill="#00ffff"/>
<rect x="534" y="272" width="4" height="4" fill="#00c000"/>
<rect x="538" y="272" width="4" height="4" fill="#ffff00"/>
<rect x="542" y="272" width="4" height="4" fill="#00c000"/>
<rect x="546" y="272" width="8" height="4" fill="#00ffff"/>
<rect x="434" y="276" width="8" height="4" fill="#ffff00"/>
<rect x="442" y="276" width="8" height="4" fill="#80ff00"/>
<rect x="450" y="276" width="4" height="4" fill="#00c000"/>
<rect x="454" y="276" width="8" height="4" fill="#ff8000"/>
<rect x="462" y="276" width="8" height="4" fill="#ffff00"/>
<rect x="470" y="276" width="4" height="4" fill="#ff8000"/>
<rect x="474" y="276" width="4" height="4" fill="#ffff00"/>
<rect x="478" y="276" width="4" height="4" fill="#80ff00"/>
<rect x="482" y="276" width="4" height="4" fill="#00c000"/>
<rect x="486" y="276" width="4" height="4" fill="#00ffff"/>
<rect x="490" y="276" width="4" height="4" fill="#0080ff"/>
<rect x="494" y="276" width="16" height="4" fill="#00c000"/>
<rect x="510" y="276" width="8" height="4" fill="#00ffff"/>
<rect x="518" y="276" width="4" height="4" fill="#0080ff"/>
<rect x="522" y="276" width="8" height="4" fill="#00ffff"/>
<rect x="530" y="276" width="8" height="4" fill="#00c000"/>
<rect x="538" y="276" width="4" height="4" fill="#ffff00"/>
<rect x="542" y="276" width="12" height="4" fill="#00ffff"/>
<rect x="230" y="449" width="4" height="4" fill="#80ffff"/>
<rect x="226" y="453" width="12" height="4" fill="#80ffff"/>
<rect x="242" y="453" width="8" height="4" fill="#80ffff"/>
<rect x="214" y="457" width="12" height="4" fill="#80ffff"/>
<rect x="226" y="457" width="4" height="4" fill="#00ffff"/>
<rect x="230" y="457" width="4" height="4" fill="#0080ff"/>
<rect x="234" y="457" width="4" height="4" fill="#00ffff"/>
<rect x="238" y="457" width="8" height="4" fill="#80ffff"/>
<rect x="246" y="457" width="4" height="4" fill="#00ffff"/>
<rect x="250" y="457" width="8" height="4" fill="#80ffff"/>
<rect x="202" y="461" width="4" height="4" fill="#80ffff"/>
<rect x="210" y="461" width="4" height="4" fill="#80ffff"/>
<rect x="214" y="461" width="8" height="4" fill="#00ffff"/>
<rect x="222" y="461" width="4" height="4" fill="#80ffff"/>
<rect x="226" y="461" width="4" height="4" fill="#0080ff"/>
<rect x="230" y="461" width="4" height="4" fill="#0000ff"/>
<rect x="234" y="461" width="8" height="4" fill="#0080ff"/>
<rect x="242" y="461" width="8" height="4" fill="#00ffff"/>
<rect x="250" y="461" width="4" height="4" fill="#0080ff"/>
<rect x="254" y="461" width="4" height="4" fill="#80ffff"/>
<rect x="198" y="465" width="4" height="4" fill="#80ffff"/>
<rect x="202" y="465" width="12" height="4" fill="#00ffff"/>
<rect x="214" y="465" width="4" height="4" fill="#0080ff"/>
<rect x="218" y="465" width="4" height="4" fill="#0000ff"/>
<rect x="222" y="465" width="4" height="4" fill="#0080ff"/>
<rect x="226" y="465" width="4" height="4" fill="#0000ff"/>
<rect x="230" y="465" width="8" height="4" fill="#00c000"/>
<rect x="238" y="465" width="12" height="4" fill="#0000ff"/>
<rect x="250" y="465" width="4" height="4" fill="#0080ff"/>
<rect x="254" y="465" width="4" height="4" fill="#80ffff"/>
<rect x="194" y="469" width="4" height="4" fill="#80ffff"/>
<rect x="198" y="469" width="4" height="4" fill="#00ffff"/>
<rect x="202" y="469" width="8" height="4" fill="#0080ff"/>
<rect x="210" y="469" width="4" height="4" fill="#00ffff"/>
<rect x="214" y="469" width="4" height="4" fill="#0080ff"/>
<rect x="218" y="469" width="4" height="4" fill="#0000ff"/>
<rect x="222" y="469" width="4" height="4" fill="#00c000"/>
<rect x="226" y="469" width="4" height="4" fill="#0000ff"/>
<rect x="230" y="469" width="4" height="4" fill="#00c000"/>
<rect x="234" y="469" width="8" height="4" fill="#80ff40"/>
<rect x="242" y="469" width="4" height="4" fill="#00c000"/>
<rect x="246" y="469" width="8" height="4" fill="#0000ff"/>
<rect x="254" y="469" width="4" height="4" fill="#00ffff"/>
<rect x="258" y="469" width="4" height="4" fill="#80ffff"/>
<rect x="190" y="473" width="4" height="4" fill="#80ffff"/>
<rect x="194" y="473" width="4" height="4" fill="#0080ff"/>
<rect x="198" y="473" width="12" height="4" fill="#0000ff"/>
<rect x="210" y="473" width="8" height="4" fill="#0080ff"/>
<rect x="218" y="473" width="4" height="4" fill="#00c000"/>
<rect x="222" y="473" width="8" height="4" fill="#0000ff"/>
<rect x="230" y="473" width="4" height="4" fill="#00c000"/>
<rect x="234" y="473" width="12" height="4" fill="#80ff40"/>
<rect x="246" y="473" width="4" height="4" fill="#00c000"/>
<rect x="250" y="473" width="4" height="4" fill="#0000ff"/>
<rect x="254" y="473" width="4" height="4" fill="#0080ff"/>
<rect x="258" y="473" width="4" height="4" fill="#80ffff"/>
<rect x="190" y="477" width="4" height="4" fill="#80ffff"/>
<rect x="194" y="477" width="4" height="4" fill="#0080ff"/>
<rect x="198" y="477" width="8" height="4" fill="#00c000"/>
<rect x="206" y="477" width="8" height="4" fill="#0000ff"/>
<rect x="214" y="477" width="4" height="4" fill="#0080ff"/>
<rect x="218" y="477" width="4" height="4" fill="#00c000"/>
<rect x="222" y="477" width="8" height="4" fill="#0000ff"/>
<rect x="230" y="477" width="4" height="4" fill="#00c000"/>
<rect x="234" y="477" width="8" height="4" fill="#80ff40"/>
<rect x="242" y="477" width="12" height="4" fill="#00c000"/>
<rect x="254" y="477" width="4" height="4" fill="#0080ff"/>
<rect x="258" y="477" width="4" height="4" fill="#00ffff"/>
<rect x="190" y="481" width="4" height="4" fill="#80ffff"/>
<rect x="194" y="481" width="4" height="4" fill="#0000ff"/>
<rect x="198" y="481" width="4" height="4" fill="#80ff40"/>
<rect x="202" y="481" width="8" height="4" fill="#00c000"/>
<rect x="210" y="481" width="8" height="4" fill="#0000ff"/>
<rect x="218" y="481" width="4" height="4" fill="#80ff40"/>
<rect x="222" y="481" width="12" height="4" fill="#00c000"/>
<rect x="234" y="481" width="4" height="4" fill="#0000ff"/>
<rect x="238" y="481" width="16" height="4" fill="#00c000"/>
<rect x="254" y="481" width="4" height="4" fill="#00ffff"/>
<rect x="190" y="485" width="4" height="4" fill="#00ffff"/>
<rect x="194" y="485" width="4" height="4" fill="#0000ff"/>
<rect x="198" y="485" width="8" height="4" fill="#80ff40"/>
<rect x="206" y="485" width="4" height="4" fill="#00c000"/>
<rect x="210" y="485" width="4" height="4" fill="#0000ff"/>
<rect x="214" y="485" width="4" height="4" fill="#00c000"/>
<rect x="218" y="485" width="4" height="4" fill="#80ff40"/>
<rect x="222" y="485" width="4" height="4" fill="#0000ff"/>
<rect x="226" y="485" width="12" height="4" fill="#00c000"/>
<rect x="238" y="485" width="4" height="4" fill="#0000ff"/>
<rect x="242" y="485" width="12" height="4" fill="#00c000"/>
<rect x="254" y="485" width="4" height="4" fill="#00ffff"/>
<rect x="190" y="489" width="4" height="4" fill="#00ffff"/>
<rect x="194" y="489" width="4" height="4" fill="#0000ff"/>
<rect x="198" y="489" width="8" height="4" fill="#80ff40"/>
<rect x="206" y="489" width="4" height="4" fill="#00c000"/>
<rect x="210" y="489" width="8" height="4" fill="#0000ff"/>
<rect x="218" y="489" width="4" height="4" fill="#80ff40"/>
<rect x="222" y="489" width="4" height="4" fill="#00c000"/>
<rect x="226" y="489" width="4" height="4" fill="#0000ff"/>
<rect x="230" y="489" width="4" height="4" fill="#00c000"/>
<rect x="234" y="489" width="4" height="4" fill="#ffff00"/>
<rect x="238" y="489" width="4" height="4" fill="#00c000"/>
<rect x="242" y="489" width="4" height="4" fill="#0000ff"/>
<rect x="246" y="489" width="4" height="4" fill="#00c000"/>
<rect x="250" y="489" width="4" height="4" fill="#0000ff"/>
<rect x="254" y="489" width="4" height="4" fill="#00ffff"/>
<rect x="262" y="489" width="8" height="4" fill="#80ffff"/>
<rect x="190" y="493" width="4" height="4" fill="#00ffff"/>
<rect x="194" y="493" width="4" height="4" fill="#0000ff"/>
<rect x="198" y="493" width="4" height="4" fill="#00c000"/>
<rect x="202" y="493" width="4" height="4" fill="#80ff40"/>
<rect x="206" y="493" width="4" height="4" fill="#00c000"/>
<rect x="210" y="493" width="4" height="4" fill="#0000ff"/>
<rect x="214" y="493" width="4" height="4" fill="#00c000"/>
<rect x="218" y="493" width="4" height="4" fill="#80ff40"/>
<rect x="222" y="493" width="4" height="4" fill="#0080ff"/>
<rect x="226" y="493" width="4" height="4" fill="#0000ff"/>
<rect x="230" y="493" width="4" height="4" fill="#00c000"/>
<rect x="234" y="493" width="4" height="4" fill="#ff8000"/>
<rect x="238" y="493" width="4" height="4" fill="#ffff00"/>
<rect x="242" y="493" width="8" height="4" fill="#00c000"/>
<rect x="250" y="493" width="4" height="4" fill="#0000ff"/>
<rect x="254" y="493" width="12" height="4" fill="#80ffff"/>
<rect x="266" y="493" width="4" height="4" fill="#00ffff"/>
<rect x="186" y="497" width="4" height="4" fill="#80ffff"/>
<rect x="190" y="497" width="4" height="4" fill="#00ffff"/>
<rect x="194" y="497" width="4" height="4" fill="#0000ff"/>
<rect x="198" y="497" width="8" height="4" fill="#80ff40"/>
<rect x="206" y="497" width="4" height="4" fill="#00c000"/>
<rect x="210" y="497" width="4" height="4" fill="#0000ff"/>
<rect x="214" y="497" width="4" height="4" fill="#ffff00"/>
<rect x="218" y="497" width="4" height="4" fill="#80ff40"/>
<rect x="222" y="497" width="4" height="4" fill="#0080ff"/>
<rect x="226" y="497" width="4" height="4" fill="#0000ff"/>
<rect x="230" y="497" width="4" height="4" fill="#ffff00"/>
<rect x="234" y="497" width="4" height="4" fill="#ff0000"/>
<rect x="238" y="497" width="4" height="4" fill="#ff00ff"/>
<rect x="242" y="497" width="4" height="4" fill="#ff0000"/>
<rect x="246" y="497" width="4" height="4" fill="#ffff00"/>
<rect x="250" y="497" width="4" height="4" fill="#0080ff"/>
<rect x="254" y="497" width="4" height="4" fill="#80ffff"/>
<rect x="258" y="497" width="8" height="4" fill="#0080ff"/>
<rect x="266" y="497" width="4" height="4" fill="#00ffff"/>
<rect x="270" y="497" width="4" height="4" fill="#80ffff"/>
<rect x="186" y="501" width="4" height="4" fill="#80ffff"/>
<rect x="190" y="501" width="4" height="4" fill="#0080ff"/>
<rect x="194" y="501" width="4" height="4" fill="#0000ff"/>
<rect x="198" y="501" width="8" height="4" fill="#ff0000"/>
<rect x="206" y="501" width="4" height="4" fill="#ff0080"/>
<rect x="210" y="501" width="12" height="4" fill="#ff0000"/>
<rect x="222" y="501" width="4" height="4" fill="#00c000"/>
<rect x="226" y="501" width="8" height="4" fill="#ff8000"/>
<rect x="234" y="501" width="4" height="4" fill="#ff0000"/>
<rect x="238" y="501" width="8" height="4" fill="#ff00ff"/>
<rect x="246" y="501" width="4" height="4" fill="#ffff00"/>
<rect x="250" y="501" width="4" height="4" fill="#0000ff"/>
<rect x="254" y="501" width="4" height="4" fill="#80ffff"/>
<rect x="258" y="501" width="8" height="4" fill="#0000ff"/>
<rect x="266" y="501" width="4" height="4" fill="#00ffff"/>
<rect x="270" y="501" width="4" height="4" fill="#80ffff"/>
<rect x="186" y="505" width="8" height="4" fill="#00ffff"/>
<rect x="194" y="505" width="4" height="4" fill="#0080ff"/>
<rect x="198" y="505" width="4" height="4" fill="#ff0000"/>
<rect x="202" y="505" width="8" height="4" fill="#ff0080"/>
<rect x="210" y="505" width="8" height="4" fill="#ff0000"/>
<rect x="218" y="505" width="4" height="4" fill="#ffff00"/>
<rect x="222" y="505" width="4" height="4" fill="#00c000"/>
<rect x="226" y="505" width="12" height="4" fill="#ffff00"/>
<rect x="238" y="505" width="4" height="4" fill="#ff0000"/>
<rect x="242" y="505" width="4" height="4" fill="#ffff00"/>
<rect x="246" y="505" width="4" height="4" fill="#80ff40"/>
<rect x="250" y="505" width="16" height="4" fill="#00ffff"/>
<rect x="266" y="505" width="4" height="4" fill="#80ffff"/>
<rect x="190" y="509" width="4" height="4" fill="#80ffff"/>
<rect x="194" y="509" width="4" height="4" fill="#00ffff"/>
<rect x="198" y="509" width="4" height="4" fill="#ffff00"/>
<rect x="202" y="509" width="4" height="4" fill="#ff0000"/>
<rect x="206" y="509" width="4" height="4" fill="#ff8000"/>
<rect x="210" y="509" width="8" height="4" fill="#ffff00"/>
<rect x="218" y="509" width="4" height="4" fill="#80ff40"/>
<rect x="222" y="509" width="4" height="4" fill="#00c000"/>
<rect x="226" y="509" width="8" height="4" fill="#0000ff"/>
<rect x="234" y="509" width="4" height="4" fill="#ffff00"/>
<rect x="238" y="509" width="4" height="4" fill="#0000ff"/>
<rect x="242" y="509" width="4" height="4" fill="#ffff00"/>
<rect x="246" y="509" width="4" height="4" fill="#0000ff"/>
<rect x="250" y="509" width="4" height="4" fill="#00ffff"/>
<rect x="254" y="509" width="4" height="4" fill="#80ffff"/>
<rect x="258" y="509" width="8" height="4" fill="#00ffff"/>
<rect x="266" y="509" width="4" height="4" fill="#80ffff"/>
<rect x="190" y="513" width="8" height="4" fill="#80ffff"/>
<rect x="198" y="513" width="4" height="4" fill="#0000ff"/>
<rect x="202" y="513" width="8" height="4" fill="#80ff40"/>
<rect x="210" y="513" width="8" height="4" fill="#0000ff"/>
<rect x="218" y="513" width="4" height="4" fill="#0080ff"/>
<rect x="222" y="513" width="8" height="4" fill="#00ffff"/>
<rect x="230" y="513" width="4" height="4" fill="#0080ff"/>
<rect x="234" y="513" width="4" height="4" fill="#0000ff"/>
<rect x="238" y="513" width="4" height="4" fill="#0080ff"/>
<rect x="242" y="513" width="4" height="4" fill="#0000ff"/>
<rect x="246" y="513" width="4" height="4" fill="#0080ff"/>
<rect x="250" y="513" width="4" height="4" fill="#00ffff"/>
<rect x="254" y="513" width="4" height="4" fill="#80ffff"/>
<rect x="258" y="513" width="8" height="4" fill="#00ffff"/>
<rect x="266" y="513" width="4" height="4" fill="#80ffff"/>
<rect x="186" y="517" width="8" height="4" fill="#80ffff"/>
<rect x="194" y="517" width="4" height="4" fill="#00ffff"/>
<rect x="198" y="517" width="4" height="4" fill="#0080ff"/>
<rect x="202" y="517" width="8" height="4" fill="#0000ff"/>
<rect x="210" y="517" width="8" height="4" fill="#0080ff"/>
<rect x="218" y="517" width="12" height="4" fill="#00ffff"/>
<rect x="230" y="517" width="8" height="4" fill="#0080ff"/>
<rect x="238" y="517" width="4" height="4" fill="#00ffff"/>
<rect x="242" y="517" width="4" height="4" fill="#0000ff"/>
<rect x="246" y="517" width="8" height="4" fill="#00ffff"/>
<rect x="254" y="517" width="4" height="4" fill="#80ffff"/>
<rect x="258" y="517" width="8" height="4" fill="#00ffff"/>
<rect x="266" y="517" width="4" height="4" fill="#80ffff"/>
<rect x="186" y="521" width="8" height="4" fill="#80ffff"/>
<rect x="194" y="521" width="4" height="4" fill="#00ffff"/>
<rect x="198" y="521" width="8" height="4" fill="#0080ff"/>
<rect x="206" y="521" width="4" height="4" fill="#0000ff"/>
<rect x="210" y="521" width="8" height="4" fill="#0080ff"/>
<rect x="218" y="521" width="12" height="4" fill="#00ffff"/>
<rect x="230" y="521" width="8" height="4" fill="#0080ff"/>
<rect x="238" y="521" width="4" height="4" fill="#00ffff"/>
<rect x="242" y="521" width="4" height="4" fill="#0080ff"/>
<rect x="246" y="521" width="8" height="4" fill="#00ffff"/>
<rect x="254" y="521" width="4" height="4" fill="#80ffff"/>
<rect x="258" y="521" width="8" height="4" fill="#00ffff"/>
<rect x="266" y="521" width="4" height="4" fill="#80ffff"/>
<rect x="186" y="525" width="8" height="4" fill="#80ffff"/>
<rect x="194" y="525" width="4" height="4" fill="#00ffff"/>
<rect x="198" y="525" width="20" height="4" fill="#0080ff"/>
<rect x="218" y="525" width="12" height="4" fill="#00ffff"/>
<rect x="230" y="525" width="8" height="4" fill="#0080ff"/>
<rect x="238" y="525" width="4" height="4" fill="#00ffff"/>
<rect x="242" y="525" width="4" height="4" fill="#0080ff"/>
<rect x="246" y="525" width="8" height="4" fill="#00ffff"/>
<rect x="254" y="525" width="4" height="4" fill="#80ffff"/>
<rect x="258" y="525" width="8" height="4" fill="#00ffff"/>
<rect x="266" y="525" width="4" height="4" fill="#80ffff"/>
<rect x="186" y="529" width="8" height="4" fill="#80ffff"/>
<rect x="194" y="529" width="4" height="4" fill="#00ffff"/>
<rect x="198" y="529" width="16" height="4" fill="#0080ff"/>
<rect x="214" y="529" width="16" height="4" fill="#00ffff"/>
<rect x="230" y="529" width="8" height="4" fill="#0080ff"/>
<rect x="238" y="529" width="4" height="4" fill="#00ffff"/>
<rect x="242" y="529" width="4" height="4" fill="#0080ff"/>
<rect x="246" y="529" width="8" height="4" fill="#00ffff"/>
<rect x="254" y="529" width="4" height="4" fill="#80ffff"/>
<rect x="258" y="529" width="8" height="4" fill="#00ffff"/>
<rect x="266" y="529" width="4" height="4" fill="#80ffff"/>
<rect x="186" y="533" width="8" height="4" fill="#80ffff"/>
<rect x="194" y="533" width="8" height="4" fill="#00ffff"/>
<rect x="202" y="533" width="12" height="4" fill="#0080ff"/>
<rect x="214" y="533" width="16" height="4" fill="#00ffff"/>
<rect x="230" y="533" width="8" height="4" fill="#0080ff"/>
<rect x="238" y="533" width="4" height="4" fill="#00ffff"/>
<rect x="242" y="533" width="8" height="4" fill="#0080ff"/>
<rect x="250" y="533" width="4" height="4" fill="#00ffff"/>
<rect x="254" y="533" width="4" height="4" fill="#80ffff"/>
<rect x="258" y="533" width="4" height="4" fill="#00ffff"/>
<rect x="262" y="533" width="8" height="4" fill="#80ffff"/>
<rect x="190" y="537" width="4" height="4" fill="#80ffff"/>
<rect x="194" y="537" width="8" height="4" fill="#00ffff"/>
<rect x="202" y="537" width="12" height="4" fill="#0080ff"/>
<rect x="214" y="537" width="4" height="4" fill="#00ffff"/>
<rect x="218" y="537" width="4" height="4" fill="#0080ff"/>
<rect x="222" y="537" width="12" height="4" fill="#00ffff"/>
<rect x="234" y="537" width="8" height="4" fill="#0080ff"/>
<rect x="242" y="537" width="4" height="4" fill="#0000ff"/>
<rect x="246" y="537" width="8" height="4" fill="#0080ff"/>
<rect x="254" y="537" width="4" height="4" fill="#80ffff"/>
<rect x="258" y="537" width="8" height="4" fill="#00ffff"/>
<rect x="266" y="537" width="8" height="4" fill="#80ffff"/>
<rect x="190" y="541" width="4" height="4" fill="#80ffff"/>
<rect x="194" y="541" width="8" height="4" fill="#00ffff"/>
<rect x="202" y="541" width="12" height="4" fill="#0080ff"/>
<rect x="214" y="541" width="4" height="4" fill="#00ffff"/>
<rect x="218" y="541" width="4" height="4" fill="#0080ff"/>
<rect x="222" y="541" width="12" height="4" fill="#00ffff"/>
<rect x="234" y="541" width="8" height="4" fill="#0080ff"/>
<rect x="242" y="541" width="4" height="4" fill="#0000ff"/>
<rect x="246" y="541" width="8" height="4" fill="#0080ff"/>
<rect x="254" y="541" width="12" height="4" fill="#00ffff"/>
<rect x="266" y="541" width="8" height="4" fill="#80ffff"/>
<rect x="190" y="545" width="4" height="4" fill="#80ffff"/>
<rect x="194" y="545" width="8" height="4" fill="#00ffff"/>
<rect x="202" y="545" width="8" height="4" fill="#0080ff"/>
<rect x="210" y="545" width="4" height="4" fill="#0000ff"/>
<rect x="214" y="545" width="8" height="4" fill="#0080ff"/>
<rect x="222" y="545" width="8" height="4" fill="#00ffff"/>
<rect x="230" y="545" width="12" height="4" fill="#0080ff"/>
<rect x="242" y="545" width="4" height="4" fill="#0000ff"/>
<rect x="246" y="545" width="8" height="4" fill="#0080ff"/>
<rect x="254" y="545" width="4" height="4" fill="#00ffff"/>
<rect x="258" y="545" width="4" height="4" fill="#80ffff"/>
<rect x="262" y="545" width="8" height="4" fill="#00ffff"/>
<rect x="270" y="545" width="8" height="4" fill="#80ffff"/>
<rect x="190" y="549" width="4" height="4" fill="#80ffff"/>
<rect x="194" y="549" width="8" height="4" fill="#00ffff"/>
<rect x="202" y="549" width="8" height="4" fill="#0080ff"/>
<rect x="210" y="549" width="4" height="4" fill="#0000ff"/>
<rect x="214" y="549" width="4" height="4" fill="#0080ff"/>
<rect x="218" y="549" width="4" height="4" fill="#00ffff"/>
<rect x="222" y="549" width="8" height="4" fill="#0080ff"/>
<rect x="230" y="549" width="4" height="4" fill="#00ffff"/>
<rect x="234" y="549" width="12" height="4" fill="#0080ff"/>
<rect x="246" y="549" width="8" height="4" fill="#0000ff"/>
<rect x="254" y="549" width="4" height="4" fill="#0080ff"/>
<rect x="258" y="549" width="12" height="4" fill="#00ffff"/>
<rect x="270" y="549" width="8" height="4" fill="#80ffff"/>
<rect x="194" y="553" width="4" height="4" fill="#80ffff"/>
<rect x="198" y="553" width="4" height="4" fill="#00ffff"/>
<rect x="202" y="553" width="8" height="4" fill="#0080ff"/>
<rect x="210" y="553" width="8" height="4" fill="#0000ff"/>
<rect x="218" y="553" width="12" height="4" fill="#0080ff"/>
<rect x="230" y="553" width="4" height="4" fill="#00ffff"/>
<rect x="234" y="553" width="4" height="4" fill="#0080ff"/>
<rect x="238" y="553" width="16" height="4" fill="#0000ff"/>
<rect x="254" y="553" width="4" height="4" fill="#0080ff"/>
<rect x="258" y="553" width="12" height="4" fill="#00ffff"/>
<rect x="270" y="553" width="12" height="4" fill="#80ffff"/>
<rect x="194" y="557" width="8" height="4" fill="#80ffff"/>
<rect x="202" y="557" width="20" height="4" fill="#00ffff"/>
<rect x="222" y="557" width="8" height="4" fill="#0080ff"/>
<rect x="230" y="557" width="36" height="4" fill="#00ffff"/>
<rect x="266" y="557" width="16" height="4" fill="#80ffff"/>
<rect x="450" y="457" width="12" height="4" fill="#80ffff"/>
<rect x="434" y="461" width="8" height="4" fill="#80ffff"/>
<rect x="446" y="461" width="4" height="4" fill="#80ffff"/>
<rect x="450" y="461" width="8" height="4" fill="#00ffff"/>
<rect x="458" y="461" width="8" height="4" fill="#80ffff"/>
<rect x="430" y="465" width="12" height="4" fill="#80ffff"/>
<rect x="446" y="465" width="4" height="4" fill="#0080ff"/>
<rect x="450" y="465" width="16" height="4" fill="#00ffff"/>
<rect x="466" y="465" width="8" height="4" fill="#80ffff"/>
<rect x="426" y="469" width="4" height="4" fill="#80ffff"/>
<rect x="430" y="469" width="12" height="4" fill="#00ffff"/>
<rect x="442" y="469" width="4" height="4" fill="#80ffff"/>
<rect x="446" y="469" width="4" height="4" fill="#0080ff"/>
<rect x="450" y="469" width="4" height="4" fill="#00ffff"/>
<rect x="454" y="469" width="4" height="4" fill="#80ffff"/>
<rect x="458" y="469" width="4" height="4" fill="#0080ff"/>
<rect x="462" y="469" width="4" height="4" fill="#00ffff"/>
<rect x="466" y="469" width="8" height="4" fill="#80ffff"/>
<rect x="526" y="469" width="4" height="4" fill="#80ffff"/>
<rect x="426" y="473" width="4" height="4" fill="#80ffff"/>
<rect x="430" y="473" width="4" height="4" fill="#00ffff"/>
<rect x="434" y="473" width="4" height="4" fill="#0080ff"/>
<rect x="438" y="473" width="4" height="4" fill="#00ffff"/>
<rect x="442" y="473" width="4" height="4" fill="#0080ff"/>
<rect x="446" y="473" width="4" height="4" fill="#0000ff"/>
<rect x="450" y="473" width="8" height="4" fill="#00ffff"/>
<rect x="458" y="473" width="4" height="4" fill="#0080ff"/>
<rect x="462" y="473" width="8" height="4" fill="#00ffff"/>
<rect x="506" y="473" width="4" height="4" fill="#80ffff"/>
<rect x="522" y="473" width="4" height="4" fill="#80ffff"/>
<rect x="526" y="473" width="8" height="4" fill="#0080ff"/>
<rect x="534" y="473" width="4" height="4" fill="#80ffff"/>
<rect x="426" y="477" width="4" height="4" fill="#80ffff"/>
<rect x="430" y="477" width="4" height="4" fill="#00ffff"/>
<rect x="434" y="477" width="4" height="4" fill="#0080ff"/>
<rect x="438" y="477" width="4" height="4" fill="#00ffff"/>
<rect x="442" y="477" width="8" height="4" fill="#0000ff"/>
<rect x="450" y="477" width="4" height="4" fill="#0080ff"/>
<rect x="454" y="477" width="4" height="4" fill="#00ffff"/>
<rect x="458" y="477" width="4" height="4" fill="#0000ff"/>
<rect x="462" y="477" width="4" height="4" fill="#0080ff"/>
<rect x="466" y="477" width="4" height="4" fill="#00ffff"/>
<rect x="494" y="477" width="4" height="4" fill="#80ffff"/>
<rect x="506" y="477" width="4" height="4" fill="#00ffff"/>
<rect x="510" y="477" width="8" height="4" fill="#80ffff"/>
<rect x="522" y="477" width="4" height="4" fill="#00ffff"/>
<rect x="526" y="477" width="4" height="4" fill="#0080ff"/>
<rect x="530" y="477" width="4" height="4" fill="#0000ff"/>
<rect x="534" y="477" width="4" height="4" fill="#00ffff"/>
<rect x="430" y="481" width="8" height="4" fill="#0080ff"/>
<rect x="438" y="481" width="4" height="4" fill="#00ffff"/>
<rect x="442" y="481" width="8" height="4" fill="#0000ff"/>
<rect x="450" y="481" width="8" height="4" fill="#00ffff"/>
<rect x="458" y="481" width="8" height="4" fill="#0080ff"/>
<rect x="466" y="481" width="4" height="4" fill="#00ffff"/>
<rect x="470" y="481" width="12" height="4" fill="#80ffff"/>
<rect x="494" y="481" width="12" height="4" fill="#80ffff"/>
<rect x="506" y="481" width="4" height="4" fill="#00ffff"/>
<rect x="510" y="481" width="8" height="4" fill="#0080ff"/>
<rect x="522" y="481" width="4" height="4" fill="#80ffff"/>
<rect x="526" y="481" width="8" height="4" fill="#0000ff"/>
<rect x="534" y="481" width="4" height="4" fill="#00ffff"/>
<rect x="430" y="485" width="12" height="4" fill="#00ffff"/>
<rect x="442" y="485" width="8" height="4" fill="#0000ff"/>
<rect x="450" y="485" width="4" height="4" fill="#0080ff"/>
<rect x="454" y="485" width="4" height="4" fill="#00ffff"/>
<rect x="458" y="485" width="4" height="4" fill="#0080ff"/>
<rect x="462" y="485" width="4" height="4" fill="#0000ff"/>
<rect x="466" y="485" width="4" height="4" fill="#0080ff"/>
<rect x="470" y="485" width="4" height="4" fill="#00ffff"/>
<rect x="474" y="485" width="4" height="4" fill="#80ffff"/>
<rect x="478" y="485" width="4" height="4" fill="#00ffff"/>
<rect x="482" y="485" width="4" height="4" fill="#80ffff"/>
<rect x="494" y="485" width="4" height="4" fill="#80ffff"/>
<rect x="498" y="485" width="4" height="4" fill="#0080ff"/>
<rect x="502" y="485" width="8" height="4" fill="#00ffff"/>
<rect x="510" y="485" width="8" height="4" fill="#0080ff"/>
<rect x="518" y="485" width="4" height="4" fill="#00ffff"/>
<rect x="522" y="485" width="4" height="4" fill="#80ffff"/>
<rect x="526" y="485" width="8" height="4" fill="#0000ff"/>
<rect x="534" y="485" width="4" height="4" fill="#00ffff"/>
<rect x="430" y="489" width="4" height="4" fill="#00ffff"/>
<rect x="434" y="489" width="4" height="4" fill="#0080ff"/>
<rect x="438" y="489" width="4" height="4" fill="#00ffff"/>
<rect x="442" y="489" width="4" height="4" fill="#0080ff"/>
<rect x="446" y="489" width="4" height="4" fill="#0000ff"/>
<rect x="450" y="489" width="4" height="4" fill="#0080ff"/>
<rect x="454" y="489" width="4" height="4" fill="#00ffff"/>
<rect x="458" y="489" width="4" height="4" fill="#0080ff"/>
<rect x="462" y="489" width="8" height="4" fill="#0000ff"/>
<rect x="470" y="489" width="4" height="4" fill="#0080ff"/>
<rect x="474" y="489" width="8" height="4" fill="#00ffff"/>
<rect x="482" y="489" width="16" height="4" fill="#80ffff"/>
<rect x="498" y="489" width="4" height="4" fill="#0080ff"/>
<rect x="502" y="489" width="4" height="4" fill="#00ffff"/>
<rect x="506" y="489" width="12" height="4" fill="#0080ff"/>
<rect x="518" y="489" width="4" height="4" fill="#00ffff"/>
<rect x="522" y="489" width="4" height="4" fill="#80ffff"/>
<rect x="526" y="489" width="8" height="4" fill="#0080ff"/>
<rect x="534" y="489" width="4" height="4" fill="#00ffff"/>
<rect x="538" y="489" width="4" height="4" fill="#80ffff"/>
<rect x="430" y="493" width="4" height="4" fill="#80ffff"/>
<rect x="434" y="493" width="4" height="4" fill="#0080ff"/>
<rect x="438" y="493" width="12" height="4" fill="#00ffff"/>
<rect x="450" y="493" width="8" height="4" fill="#0080ff"/>
<rect x="458" y="493" width="4" height="4" fill="#00ffff"/>
<rect x="462" y="493" width="8" height="4" fill="#0000ff"/>
<rect x="470" y="493" width="8" height="4" fill="#0080ff"/>
<rect x="478" y="493" width="4" height="4" fill="#00ffff"/>
<rect x="486" y="493" width="8" height="4" fill="#80ffff"/>
<rect x="494" y="493" width="4" height="4" fill="#00ffff"/>
<rect x="498" y="493" width="4" height="4" fill="#0080ff"/>
<rect x="502" y="493" width="8" height="4" fill="#00ffff"/>
<rect x="510" y="493" width="8" height="4" fill="#0080ff"/>
<rect x="518" y="493" width="4" height="4" fill="#00ffff"/>
<rect x="522" y="493" width="4" height="4" fill="#80ffff"/>
<rect x="526" y="493" width="4" height="4" fill="#00ffff"/>
<rect x="530" y="493" width="4" height="4" fill="#0080ff"/>
<rect x="534" y="493" width="8" height="4" fill="#00ffff"/>
<rect x="430" y="497" width="4" height="4" fill="#80ffff"/>
<rect x="434" y="497" width="8" height="4" fill="#0000ff"/>
<rect x="442" y="497" width="8" height="4" fill="#00c000"/>
<rect x="450" y="497" width="4" height="4" fill="#0000ff"/>
<rect x="454" y="497" width="4" height="4" fill="#0080ff"/>
<rect x="458" y="497" width="4" height="4" fill="#0000ff"/>
<rect x="462" y="497" width="4" height="4" fill="#00c000"/>
<rect x="466" y="497" width="8" height="4" fill="#80ff40"/>
<rect x="474" y="497" width="4" height="4" fill="#00c000"/>
<rect x="478" y="497" width="4" height="4" fill="#0000ff"/>
<rect x="482" y="497" width="12" height="4" fill="#80ffff"/>
<rect x="494" y="497" width="4" height="4" fill="#00ffff"/>
<rect x="498" y="497" width="8" height="4" fill="#0000ff"/>
<rect x="506" y="497" width="8" height="4" fill="#00ffff"/>
<rect x="514" y="497" width="4" height="4" fill="#0080ff"/>
<rect x="518" y="497" width="4" height="4" fill="#00ffff"/>
<rect x="522" y="497" width="4" height="4" fill="#80ffff"/>
<rect x="526" y="497" width="8" height="4" fill="#00ffff"/>
<rect x="534" y="497" width="4" height="4" fill="#0000ff"/>
<rect x="538" y="497" width="4" height="4" fill="#00ffff"/>
<rect x="430" y="501" width="4" height="4" fill="#80ffff"/>
<rect x="434" y="501" width="8" height="4" fill="#ffff00"/>
<rect x="442" y="501" width="4" height="4" fill="#ff8000"/>
<rect x="446" y="501" width="8" height="4" fill="#ffff00"/>
<rect x="454" y="501" width="4" height="4" fill="#ff8000"/>
<rect x="458" y="501" width="4" height="4" fill="#ffff00"/>
<rect x="462" y="501" width="12" height="4" fill="#ff0000"/>
<rect x="474" y="501" width="4" height="4" fill="#ffff00"/>
<rect x="478" y="501" width="4" height="4" fill="#0000ff"/>
<rect x="482" y="501" width="4" height="4" fill="#80ffff"/>
<rect x="486" y="501" width="8" height="4" fill="#0080ff"/>
<rect x="494" y="501" width="4" height="4" fill="#0000ff"/>
<rect x="498" y="501" width="4" height="4" fill="#80ff40"/>
<rect x="502" y="501" width="4" height="4" fill="#00c000"/>
<rect x="506" y="501" width="4" height="4" fill="#00ffff"/>
<rect x="510" y="501" width="4" height="4" fill="#0000ff"/>
<rect x="514" y="501" width="4" height="4" fill="#0080ff"/>
<rect x="518" y="501" width="4" height="4" fill="#0000ff"/>
<rect x="522" y="501" width="4" height="4" fill="#0080ff"/>
<rect x="526" y="501" width="4" height="4" fill="#80ffff"/>
<rect x="530" y="501" width="4" height="4" fill="#00ffff"/>
<rect x="534" y="501" width="4" height="4" fill="#0000ff"/>
<rect x="538" y="501" width="4" height="4" fill="#00c000"/>
<rect x="430" y="505" width="4" height="4" fill="#80ffff"/>
<rect x="434" y="505" width="4" height="4" fill="#0000ff"/>
<rect x="438" y="505" width="4" height="4" fill="#00c000"/>
<rect x="442" y="505" width="8" height="4" fill="#ffff00"/>
<rect x="450" y="505" width="4" height="4" fill="#00c000"/>
<rect x="454" y="505" width="4" height="4" fill="#ffff00"/>
<rect x="458" y="505" width="4" height="4" fill="#80ff40"/>
<rect x="462" y="505" width="4" height="4" fill="#ff8000"/>
<rect x="466" y="505" width="4" height="4" fill="#ff0000"/>
<rect x="470" y="505" width="4" height="4" fill="#ffff00"/>
<rect x="474" y="505" width="4" height="4" fill="#00c000"/>
<rect x="478" y="505" width="4" height="4" fill="#0000ff"/>
<rect x="482" y="505" width="12" height="4" fill="#80ffff"/>
<rect x="494" y="505" width="4" height="4" fill="#0080ff"/>
<rect x="498" y="505" width="8" height="4" fill="#0000ff"/>
<rect x="506" y="505" width="4" height="4" fill="#00ffff"/>
<rect x="510" y="505" width="4" height="4" fill="#0000ff"/>
<rect x="514" y="505" width="4" height="4" fill="#00ffff"/>
<rect x="518" y="505" width="4" height="4" fill="#0000ff"/>
<rect x="522" y="505" width="4" height="4" fill="#0080ff"/>
<rect x="526" y="505" width="4" height="4" fill="#80ffff"/>
<rect x="530" y="505" width="4" height="4" fill="#00ffff"/>
<rect x="534" y="505" width="8" height="4" fill="#00c000"/>
<rect x="434" y="509" width="4" height="4" fill="#80ffff"/>
<rect x="438" y="509" width="8" height="4" fill="#00ffff"/>
<rect x="446" y="509" width="16" height="4" fill="#0000ff"/>
<rect x="462" y="509" width="4" height="4" fill="#00ffff"/>
<rect x="466" y="509" width="4" height="4" fill="#ffff00"/>
<rect x="470" y="509" width="4" height="4" fill="#00c000"/>
<rect x="474" y="509" width="4" height="4" fill="#0000ff"/>
<rect x="478" y="509" width="4" height="4" fill="#00ffff"/>
<rect x="482" y="509" width="4" height="4" fill="#80ffff"/>
<rect x="490" y="509" width="4" height="4" fill="#80ffff"/>
<rect x="494" y="509" width="4" height="4" fill="#00ffff"/>
<rect x="498" y="509" width="8" height="4" fill="#0080ff"/>
<rect x="506" y="509" width="4" height="4" fill="#00ffff"/>
<rect x="510" y="509" width="8" height="4" fill="#80ffff"/>
<rect x="518" y="509" width="4" height="4" fill="#00ffff"/>
<rect x="522" y="509" width="4" height="4" fill="#80ffff"/>
<rect x="530" y="509" width="4" height="4" fill="#80ffff"/>
<rect x="534" y="509" width="4" height="4" fill="#0000ff"/>
<rect x="538" y="509" width="4" height="4" fill="#00ffff"/>
<rect x="434" y="513" width="8" height="4" fill="#80ffff"/>
<rect x="442" y="513" width="12" height="4" fill="#00ffff"/>
<rect x="454" y="513" width="4" height="4" fill="#0080ff"/>
<rect x="458" y="513" width="8" height="4" fill="#00ffff"/>
<rect x="466" y="513" width="4" height="4" fill="#0000ff"/>
<rect x="470" y="513" width="4" height="4" fill="#0080ff"/>
<rect x="474" y="513" width="8" height="4" fill="#00ffff"/>
<rect x="482" y="513" width="4" height="4" fill="#80ffff"/>
<rect x="490" y="513" width="8" height="4" fill="#80ffff"/>
<rect x="498" y="513" width="8" height="4" fill="#00ffff"/>
<rect x="506" y="513" width="20" height="4" fill="#80ffff"/>
<rect x="530" y="513" width="4" height="4" fill="#80ffff"/>
<rect x="534" y="513" width="4" height="4" fill="#00ffff"/>
<rect x="538" y="513" width="4" height="4" fill="#80ffff"/>
<rect x="434" y="517" width="12" height="4" fill="#80ffff"/>
<rect x="446" y="517" width="4" height="4" fill="#00ffff"/>
<rect x="450" y="517" width="4" height="4" fill="#80ffff"/>
<rect x="454" y="517" width="4" height="4" fill="#00ffff"/>
<rect x="458" y="517" width="4" height="4" fill="#80ffff"/>
<rect x="462" y="517" width="4" height="4" fill="#00ffff"/>
<rect x="466" y="517" width="8" height="4" fill="#0080ff"/>
<rect x="474" y="517" width="8" height="4" fill="#00ffff"/>
<rect x="482" y="517" width="16" height="4" fill="#80ffff"/>
<rect x="498" y="517" width="8" height="4" fill="#00ffff"/>
<rect x="506" y="517" width="8" height="4" fill="#80ffff"/>
<rect x="518" y="517" width="8" height="4" fill="#80ffff"/>
<rect x="530" y="517" width="12" height="4" fill="#80ffff"/>
<rect x="434" y="521" width="12" height="4" fill="#80ffff"/>
<rect x="446" y="521" width="4" height="4" fill="#00ffff"/>
<rect x="450" y="521" width="4" height="4" fill="#80ffff"/>
<rect x="454" y="521" width="8" height="4" fill="#00ffff"/>
<rect x="462" y="521" width="4" height="4" fill="#80ffff"/>
<rect x="466" y="521" width="8" height="4" fill="#0080ff"/>
<rect x="474" y="521" width="8" height="4" fill="#00ffff"/>
<rect x="482" y="521" width="16" height="4" fill="#80ffff"/>
<rect x="498" y="521" width="8" height="4" fill="#00ffff"/>
<rect x="506" y="521" width="8" height="4" fill="#80ffff"/>
<rect x="518" y="521" width="24" height="4" fill="#80ffff"/>
<rect x="434" y="525" width="12" height="4" fill="#80ffff"/>
<rect x="446" y="525" width="4" height="4" fill="#00ffff"/>
<rect x="450" y="525" width="8" height="4" fill="#80ffff"/>
<rect x="458" y="525" width="4" height="4" fill="#00ffff"/>
<rect x="462" y="525" width="4" height="4" fill="#80ffff"/>
<rect x="466" y="525" width="8" height="4" fill="#0080ff"/>
<rect x="474" y="525" width="8" height="4" fill="#00ffff"/>
<rect x="482" y="525" width="16" height="4" fill="#80ffff"/>
<rect x="498" y="525" width="4" height="4" fill="#00ffff"/>
<rect x="502" y="525" width="12" height="4" fill="#80ffff"/>
<rect x="518" y="525" width="24" height="4" fill="#80ffff"/>
<rect x="434" y="529" width="12" height="4" fill="#80ffff"/>
<rect x="446" y="529" width="4" height="4" fill="#00ffff"/>
<rect x="450" y="529" width="16" height="4" fill="#80ffff"/>
<rect x="466" y="529" width="8" height="4" fill="#0080ff"/>
<rect x="474" y="529" width="8" height="4" fill="#00ffff"/>
<rect x="482" y="529" width="16" height="4" fill="#80ffff"/>
<rect x="498" y="529" width="4" height="4" fill="#00ffff"/>
<rect x="502" y="529" width="12" height="4" fill="#80ffff"/>
<rect x="518" y="529" width="28" height="4" fill="#80ffff"/>
<rect x="434" y="533" width="8" height="4" fill="#80ffff"/>
<rect x="442" y="533" width="8" height="4" fill="#00ffff"/>
<rect x="450" y="533" width="16" height="4" fill="#80ffff"/>
<rect x="466" y="533" width="8" height="4" fill="#0080ff"/>
<rect x="474" y="533" width="8" height="4" fill="#00ffff"/>
<rect x="482" y="533" width="16" height="4" fill="#80ffff"/>
<rect x="498" y="533" width="4" height="4" fill="#00ffff"/>
<rect x="502" y="533" width="12" height="4" fill="#80ffff"/>
<rect x="518" y="533" width="28" height="4" fill="#80ffff"/>
<rect x="434" y="537" width="8" height="4" fill="#80ffff"/>
<rect x="442" y="537" width="8" height="4" fill="#00ffff"/>
<rect x="450" y="537" width="12" height="4" fill="#80ffff"/>
<rect x="462" y="537" width="4" height="4" fill="#00ffff"/>
<rect x="466" y="537" width="8" height="4" fill="#0080ff"/>
<rect x="474" y="537" width="8" height="4" fill="#00ffff"/>
<rect x="482" y="537" width="16" height="4" fill="#80ffff"/>
<rect x="498" y="537" width="4" height="4" fill="#00ffff"/>
<rect x="502" y="537" width="12" height="4" fill="#80ffff"/>
<rect x="518" y="537" width="28" height="4" fill="#80ffff"/>
<rect x="430" y="541" width="8" height="4" fill="#80ffff"/>
<rect x="438" y="541" width="12" height="4" fill="#00ffff"/>
<rect x="450" y="541" width="12" height="4" fill="#80ffff"/>
<rect x="462" y="541" width="4" height="4" fill="#00ffff"/>
<rect x="466" y="541" width="8" height="4" fill="#0080ff"/>
<rect x="474" y="541" width="8" height="4" fill="#00ffff"/>
<rect x="482" y="541" width="12" height="4" fill="#80ffff"/>
<rect x="494" y="541" width="8" height="4" fill="#00ffff"/>
<rect x="502" y="541" width="12" height="4" fill="#80ffff"/>
<rect x="518" y="541" width="32" height="4" fill="#80ffff"/>
<rect x="430" y="545" width="4" height="4" fill="#80ffff"/>
<rect x="434" y="545" width="16" height="4" fill="#00ffff"/>
<rect x="450" y="545" width="12" height="4" fill="#80ffff"/>
<rect x="462" y="545" width="4" height="4" fill="#00ffff"/>
<rect x="466" y="545" width="12" height="4" fill="#0080ff"/>
<rect x="478" y="545" width="4" height="4" fill="#00ffff"/>
<rect x="482" y="545" width="12" height="4" fill="#80ffff"/>
<rect x="494" y="545" width="16" height="4" fill="#00ffff"/>
<rect x="510" y="545" width="4" height="4" fill="#80ffff"/>
<rect x="518" y="545" width="32" height="4" fill="#80ffff"/>
<rect x="434" y="549" width="8" height="4" fill="#00ffff"/>
<rect x="442" y="549" width="8" height="4" fill="#0080ff"/>
<rect x="450" y="549" width="16" height="4" fill="#00ffff"/>
<rect x="466" y="549" width="8" height="4" fill="#0000ff"/>
<rect x="474" y="549" width="4" height="4" fill="#0080ff"/>
<rect x="478" y="549" width="4" height="4" fill="#00ffff"/>
<rect x="482" y="549" width="16" height="4" fill="#80ffff"/>
<rect x="498" y="549" width="8" height="4" fill="#00ffff"/>
<rect x="506" y="549" width="4" height="4" fill="#0080ff"/>
<rect x="510" y="549" width="4" height="4" fill="#00ffff"/>
<rect x="514" y="549" width="36" height="4" fill="#80ffff"/>
<rect x="434" y="553" width="8" height="4" fill="#00ffff"/>
<rect x="442" y="553" width="8" height="4" fill="#0080ff"/>
<rect x="450" y="553" width="16" height="4" fill="#00ffff"/>
<rect x="466" y="553" width="8" height="4" fill="#0000ff"/>
<rect x="474" y="553" width="8" height="4" fill="#00ffff"/>
<rect x="482" y="553" width="16" height="4" fill="#80ffff"/>
<rect x="498" y="553" width="8" height="4" fill="#00ffff"/>
<rect x="506" y="553" width="4" height="4" fill="#0080ff"/>
<rect x="510" y="553" width="4" height="4" fill="#00ffff"/>
<rect x="514" y="553" width="36" height="4" fill="#80ffff"/>
<rect x="434" y="557" width="12" height="4" fill="#80ffff"/>
<rect x="446" y="557" width="4" height="4" fill="#00ffff"/>
<rect x="450" y="557" width="16" height="4" fill="#80ffff"/>
<rect x="466" y="557" width="8" height="4" fill="#00ffff"/>
<rect x="474" y="557" width="28" height="4" fill="#80ffff"/>
<rect x="502" y="557" width="8" height="4" fill="#00ffff"/>
<rect x="510" y="557" width="40" height="4" fill="#80ffff"/>
<rect x="230" y="730" width="4" height="2" fill="#0000cc"/>
<rect x="230" y="732" width="4" height="2" fill="#00c0ff"/>
<rect x="226" y="734" width="4" height="2" fill="#0000cc"/>
<rect x="226" y="736" width="4" height="2" fill="#00c0ff"/>
<rect x="230" y="734" width="4" height="4" fill="#00c0ff"/>
<rect x="234" y="734" width="4" height="2" fill="#0000cc"/>
<rect x="234" y="736" width="4" height="2" fill="#00c0ff"/>
<rect x="242" y="734" width="4" height="2" fill="#0000cc"/>
<rect x="242" y="736" width="4" height="2" fill="#00c0ff"/>
<rect x="214" y="738" width="12" height="2" fill="#0000cc"/>
<rect x="214" y="740" width="12" height="2" fill="#00c0ff"/>
<rect x="226" y="738" width="4" height="4" fill="#00c0ff"/>
<rect x="230" y="738" width="4" height="4" fill="#00ffff"/>
<rect x="234" y="738" width="4" height="4" fill="#00c0ff"/>
<rect x="234" y="738" width="2" height="4" fill="#0000cc"/>
<rect x="238" y="738" width="4" height="2" fill="#0000cc"/>
<rect x="238" y="740" width="4" height="2" fill="#00c0ff"/>
<rect x="242" y="738" width="4" height="4" fill="#00c0ff"/>
<rect x="246" y="738" width="4" height="2" fill="#0000cc"/>
<rect x="246" y="740" width="4" height="2" fill="#00c0ff"/>
<rect x="250" y="738" width="4" height="4" fill="#00c0ff"/>
<rect x="254" y="738" width="4" height="2" fill="#0000cc"/>
<rect x="254" y="740" width="4" height="2" fill="#00c0ff"/>
<rect x="202" y="742" width="4" height="2" fill="#0000cc"/>
<rect x="202" y="744" width="4" height="2" fill="#00c0ff"/>
<rect x="210" y="742" width="4" height="2" fill="#0000cc"/>
<rect x="210" y="744" width="4" height="2" fill="#00c0ff"/>
<rect x="214" y="742" width="8" height="4" fill="#00ffff"/>
<rect x="222" y="742" width="8" height="4" fill="#00c0ff"/>
<rect x="230" y="742" width="8" height="4" fill="#00ffff"/>
<rect x="238" y="742" width="12" height="4" fill="#00c0ff"/>
<rect x="250" y="742" width="4" height="4" fill="#00ffff"/>
<rect x="254" y="742" width="4" height="4" fill="#00c0ff"/>
<rect x="254" y="742" width="2" height="4" fill="#0000cc"/>
<rect x="194" y="746" width="8" height="2" fill="#0000cc"/>
<rect x="194" y="748" width="8" height="2" fill="#00c0ff"/>
<rect x="202" y="746" width="16" height="4" fill="#00c0ff"/>
<rect x="218" y="746" width="4" height="4" fill="#00c000"/>
<rect x="222" y="746" width="8" height="4" fill="#00ffff"/>
<rect x="230" y="746" width="8" height="4" fill="#00c000"/>
<rect x="238" y="746" width="16" height="4" fill="#00ffff"/>
<rect x="254" y="746" width="4" height="4" fill="#00c0ff"/>
<rect x="254" y="746" width="2" height="4" fill="#0000cc"/>
<rect x="194" y="750" width="4" height="4" fill="#00c0ff"/>
<rect x="194" y="750" width="2" height="4" fill="#0000cc"/>
<rect x="198" y="750" width="16" height="4" fill="#00ffff"/>
<rect x="214" y="750" width="4" height="4" fill="#00c0ff"/>
<rect x="218" y="750" width="28" height="4" fill="#00c000"/>
<rect x="246" y="750" width="8" height="4" fill="#00ffff"/>
<rect x="254" y="750" width="8" height="4" fill="#00c0ff"/>
<rect x="190" y="754" width="4" height="2" fill="#0000cc"/>
<rect x="190" y="756" width="4" height="2" fill="#00c0ff"/>
<rect x="194" y="754" width="20" height="4" fill="#00ffff"/>
<rect x="214" y="754" width="4" height="4" fill="#00c0ff"/>
<rect x="218" y="754" width="4" height="4" fill="#00c000"/>
<rect x="222" y="754" width="4" height="4" fill="#00ffff"/>
<rect x="226" y="754" width="28" height="4" fill="#00c000"/>
<rect x="254" y="754" width="8" height="4" fill="#00c0ff"/>
<rect x="190" y="758" width="4" height="4" fill="#00c0ff"/>
<rect x="194" y="758" width="4" height="4" fill="#00ffff"/>
<rect x="198" y="758" width="12" height="4" fill="#00c000"/>
<rect x="210" y="758" width="8" height="4" fill="#00ffff"/>
<rect x="218" y="758" width="24" height="4" fill="#00c000"/>
<rect x="242" y="758" width="4" height="4" fill="#ffff00"/>
<rect x="246" y="758" width="8" height="4" fill="#00c000"/>
<rect x="254" y="758" width="4" height="4" fill="#00ffff"/>
<rect x="258" y="758" width="4" height="4" fill="#00c0ff"/>
<rect x="258" y="758" width="2" height="4" fill="#0000cc"/>
<rect x="190" y="762" width="4" height="4" fill="#00c0ff"/>
<rect x="194" y="762" width="16" height="4" fill="#00c000"/>
<rect x="210" y="762" width="8" height="4" fill="#00ffff"/>
<rect x="218" y="762" width="36" height="4" fill="#00c000"/>
<rect x="254" y="762" width="4" height="4" fill="#00c0ff"/>
<rect x="190" y="766" width="4" height="4" fill="#00c0ff"/>
<rect x="194" y="766" width="20" height="4" fill="#00c000"/>
<rect x="214" y="766" width="4" height="4" fill="#00ffff"/>
<rect x="218" y="766" width="36" height="4" fill="#00c000"/>
<rect x="254" y="766" width="4" height="4" fill="#00ffff"/>
<rect x="190" y="770" width="4" height="4" fill="#00c0ff"/>
<rect x="194" y="770" width="4" height="4" fill="#00ffff"/>
<rect x="198" y="770" width="12" height="4" fill="#00c000"/>
<rect x="210" y="770" width="4" height="4" fill="#00ffff"/>
<rect x="214" y="770" width="8" height="4" fill="#00c000"/>
<rect x="222" y="770" width="8" height="4" fill="#00ffff"/>
<rect x="230" y="770" width="8" height="4" fill="#ffff00"/>
<rect x="238" y="770" width="16" height="4" fill="#00c000"/>
<rect x="254" y="770" width="4" height="4" fill="#00c0ff"/>
<rect x="254" y="770" width="2" height="4" fill="#0000cc"/>
<rect x="262" y="770" width="4" height="4" fill="#00c0ff"/>
<rect x="266" y="770" width="4" height="2" fill="#0000cc"/>
<rect x="266" y="772" width="4" height="2" fill="#00c0ff"/>
<rect x="190" y="774" width="4" height="4" fill="#00c0ff"/>
<rect x="194" y="774" width="4" height="4" fill="#00ffff"/>
<rect x="198" y="774" width="12" height="4" fill="#00c000"/>
<rect x="210" y="774" width="4" height="4" fill="#00ffff"/>
<rect x="214" y="774" width="8" height="4" fill="#00c000"/>
<rect x="222" y="774" width="8" height="4" fill="#00ffff"/>
<rect x="230" y="774" width="12" height="4" fill="#ffff00"/>
<rect x="242" y="774" width="8" height="4" fill="#00c000"/>
<rect x="250" y="774" width="4" height="4" fill="#00ffff"/>
<rect x="254" y="774" width="4" height="4" fill="#00c0ff"/>
<rect x="254" y="774" width="2" height="4" fill="#0000cc"/>
<rect x="258" y="774" width="4" height="2" fill="#0000cc"/>
<rect x="258" y="776" width="4" height="2" fill="#00c0ff"/>
<rect x="262" y="774" width="4" height="4" fill="#00c0ff"/>
<rect x="266" y="774" width="4" height="4" fill="#00c0ff"/>
<rect x="266" y="774" width="2" height="4" fill="#0000cc"/>
<rect x="186" y="778" width="4" height="2" fill="#0000cc"/>
<rect x="186" y="780" width="4" height="2" fill="#00c0ff"/>
<rect x="190" y="778" width="4" height="4" fill="#00c0ff"/>
<rect x="194" y="778" width="4" height="4" fill="#00ffff"/>
<rect x="198" y="778" width="8" height="4" fill="#ffff00"/>
<rect x="206" y="778" width="8" height="4" fill="#00c000"/>
<rect x="214" y="778" width="4" height="4" fill="#ffff00"/>
<rect x="218" y="778" width="4" height="4" fill="#00c000"/>
<rect x="222" y="778" width="4" height="4" fill="#00ffff"/>
<rect x="226" y="778" width="12" height="4" fill="#ffff00"/>
<rect x="238" y="778" width="4" height="4" fill="#ff8000"/>
<rect x="242" y="778" width="8" height="4" fill="#ffff00"/>
<rect x="250" y="778" width="4" height="4" fill="#00c000"/>
<rect x="254" y="778" width="4" height="4" fill="#00c0ff"/>
<rect x="258" y="778" width="12" height="4" fill="#00ffff"/>
<rect x="270" y="778" width="4" height="2" fill="#0000cc"/>
<rect x="270" y="780" width="4" height="2" fill="#00c0ff"/>
<rect x="186" y="782" width="4" height="4" fill="#00c0ff"/>
<rect x="190" y="782" width="4" height="4" fill="#00ffff"/>
<rect x="194" y="782" width="4" height="4" fill="#00c000"/>
<rect x="198" y="782" width="4" height="4" fill="#ffff00"/>
<rect x="202" y="782" width="16" height="4" fill="#ff8000"/>
<rect x="218" y="782" width="4" height="4" fill="#ffff00"/>
<rect x="222" y="782" width="4" height="4" fill="#00c000"/>
<rect x="226" y="782" width="4" height="4" fill="#ffff00"/>
<rect x="230" y="782" width="4" height="4" fill="#ff8000"/>
<rect x="234" y="782" width="4" height="4" fill="#ffff00"/>
<rect x="238" y="782" width="4" height="4" fill="#ff8000"/>
<rect x="242" y="782" width="4" height="4" fill="#ff0000"/>
<rect x="246" y="782" width="4" height="4" fill="#ff8000"/>
<rect x="250" y="782" width="4" height="4" fill="#00c000"/>
<rect x="254" y="782" width="4" height="4" fill="#00c0ff"/>
<rect x="258" y="782" width="8" height="4" fill="#00c000"/>
<rect x="266" y="782" width="4" height="4" fill="#00ffff"/>
<rect x="270" y="782" width="4" height="4" fill="#00c0ff"/>
<rect x="270" y="782" width="2" height="4" fill="#0000cc"/>
<rect x="186" y="786" width="4" height="4" fill="#00c0ff"/>
<rect x="190" y="786" width="4" height="4" fill="#00ffff"/>
<rect x="194" y="786" width="4" height="4" fill="#00c000"/>
<rect x="198" y="786" width="4" height="4" fill="#ffff00"/>
<rect x="202" y="786" width="4" height="4" fill="#ff8000"/>
<rect x="206" y="786" width="4" height="4" fill="#ff0000"/>
<rect x="210" y="786" width="8" height="4" fill="#ff8000"/>
<rect x="218" y="786" width="4" height="4" fill="#ffff00"/>
<rect x="222" y="786" width="4" height="4" fill="#00c000"/>
<rect x="226" y="786" width="4" height="4" fill="#ffff00"/>
<rect x="230" y="786" width="4" height="4" fill="#ff8000"/>
<rect x="234" y="786" width="4" height="4" fill="#ffff00"/>
<rect x="238" y="786" width="4" height="4" fill="#ff8000"/>
<rect x="242" y="786" width="4" height="4" fill="#ff0000"/>
<rect x="246" y="786" width="4" height="4" fill="#ff8000"/>
<rect x="250" y="786" width="4" height="4" fill="#00c000"/>
<rect x="254" y="786" width="4" height="4" fill="#00c0ff"/>
<rect x="258" y="786" width="4" height="4" fill="#00c000"/>
<rect x="262" y="786" width="4" height="4" fill="#00ffff"/>
<rect x="266" y="786" width="4" height="4" fill="#00c0ff"/>
<rect x="190" y="790" width="8" height="4" fill="#00ffff"/>
<rect x="198" y="790" width="8" height="4" fill="#ff8000"/>
<rect x="206" y="790" width="4" height="4" fill="#ff0000"/>
<rect x="210" y="790" width="8" height="4" fill="#ff8000"/>
<rect x="218" y="790" width="4" height="4" fill="#ffff00"/>
<rect x="222" y="790" width="4" height="4" fill="#00c000"/>
<rect x="226" y="790" width="8" height="4" fill="#ffff00"/>
<rect x="234" y="790" width="8" height="4" fill="#ff8000"/>
<rect x="242" y="790" width="4" height="4" fill="#ff0000"/>
<rect x="246" y="790" width="4" height="4" fill="#ffff00"/>
<rect x="250" y="790" width="4" height="4" fill="#00ffff"/>
<rect x="254" y="790" width="4" height="4" fill="#00c0ff"/>
<rect x="258" y="790" width="4" height="4" fill="#00c000"/>
<rect x="262" y="790" width="4" height="4" fill="#00ffff"/>
<rect x="266" y="790" width="4" height="4" fill="#00c0ff"/>
<rect x="190" y="794" width="4" height="4" fill="#00c0ff"/>
<rect x="190" y="794" width="2" height="4" fill="#0000cc"/>
<rect x="194" y="794" width="4" height="4" fill="#00ffff"/>
<rect x="198" y="794" width="4" height="4" fill="#00c000"/>
<rect x="202" y="794" width="4" height="4" fill="#ff8000"/>
<rect x="206" y="794" width="4" height="4" fill="#ff0000"/>
<rect x="210" y="794" width="8" height="4" fill="#ff8000"/>
<rect x="218" y="794" width="4" height="4" fill="#ffff00"/>
<rect x="222" y="794" width="4" height="4" fill="#00c000"/>
<rect x="226" y="794" width="16" height="4" fill="#ffff00"/>
<rect x="242" y="794" width="4" height="4" fill="#ff8000"/>
<rect x="246" y="794" width="4" height="4" fill="#ffff00"/>
<rect x="250" y="794" width="4" height="4" fill="#00c000"/>
<rect x="254" y="794" width="4" height="4" fill="#00ffff"/>
<rect x="258" y="794" width="4" height="4" fill="#00c000"/>
<rect x="262" y="794" width="4" height="4" fill="#00ffff"/>
<rect x="266" y="794" width="4" height="4" fill="#00c0ff"/>
<rect x="190" y="798" width="4" height="4" fill="#00ffff"/>
<rect x="194" y="798" width="4" height="4" fill="#00c000"/>
<rect x="198" y="798" width="4" height="4" fill="#ffff00"/>
<rect x="202" y="798" width="8" height="4" fill="#ff8000"/>
<rect x="210" y="798" width="8" height="4" fill="#ffff00"/>
<rect x="218" y="798" width="8" height="4" fill="#00c000"/>
<rect x="226" y="798" width="16" height="4" fill="#ffff00"/>
<rect x="242" y="798" width="4" height="4" fill="#ff8000"/>
<rect x="246" y="798" width="4" height="4" fill="#ffff00"/>
<rect x="250" y="798" width="4" height="4" fill="#00c000"/>
<rect x="254" y="798" width="4" height="4" fill="#00c0ff"/>
<rect x="258" y="798" width="4" height="4" fill="#00c000"/>
<rect x="262" y="798" width="4" height="4" fill="#00ffff"/>
<rect x="266" y="798" width="4" height="4" fill="#00c0ff"/>
<rect x="186" y="802" width="4" height="2" fill="#0000cc"/>
<rect x="186" y="804" width="4" height="2" fill="#00c0ff"/>
<rect x="190" y="802" width="4" height="4" fill="#00ffff"/>
<rect x="194" y="802" width="4" height="4" fill="#00c000"/>
<rect x="198" y="802" width="4" height="4" fill="#ffff00"/>
<rect x="202" y="802" width="8" height="4" fill="#ff8000"/>
<rect x="210" y="802" width="8" height="4" fill="#ffff00"/>
<rect x="218" y="802" width="12" height="4" fill="#00c000"/>
<rect x="230" y="802" width="12" height="4" fill="#ffff00"/>
<rect x="242" y="802" width="4" height="4" fill="#ff8000"/>
<rect x="246" y="802" width="4" height="4" fill="#ffff00"/>
<rect x="250" y="802" width="4" height="4" fill="#00c000"/>
<rect x="254" y="802" width="4" height="4" fill="#00c0ff"/>
<rect x="258" y="802" width="4" height="4" fill="#00c000"/>
<rect x="262" y="802" width="4" height="4" fill="#00ffff"/>
<rect x="266" y="802" width="4" height="4" fill="#00c0ff"/>
<rect x="186" y="806" width="4" height="4" fill="#00c0ff"/>
<rect x="186" y="806" width="2" height="4" fill="#0000cc"/>
<rect x="190" y="806" width="4" height="4" fill="#00ffff"/>
<rect x="194" y="806" width="8" height="4" fill="#00c000"/>
<rect x="202" y="806" width="4" height="4" fill="#ffff00"/>
<rect x="206" y="806" width="4" height="4" fill="#ff8000"/>
<rect x="210" y="806" width="12" height="4" fill="#ffff00"/>
<rect x="222" y="806" width="8" height="4" fill="#00c000"/>
<rect x="230" y="806" width="12" height="4" fill="#ffff00"/>
<rect x="242" y="806" width="8" height="4" fill="#ff8000"/>
<rect x="250" y="806" width="4" height="4" fill="#ffff00"/>
<rect x="254" y="806" width="4" height="4" fill="#00c0ff"/>
<rect x="258" y="806" width="4" height="4" fill="#00c000"/>
<rect x="262" y="806" width="4" height="4" fill="#00ffff"/>
<rect x="266" y="806" width="4" height="4" fill="#00c0ff"/>
<rect x="186" y="810" width="4" height="4" fill="#00c0ff"/>
<rect x="186" y="810" width="2" height="4" fill="#0000cc"/>
<rect x="190" y="810" width="4" height="4" fill="#00ffff"/>
<rect x="194" y="810" width="4" height="4" fill="#00c000"/>
<rect x="198" y="810" width="4" height="4" fill="#ffff00"/>
<rect x="202" y="810" width="8" height="4" fill="#ff8000"/>
<rect x="210" y="810" width="12" height="4" fill="#ffff00"/>
<rect x="222" y="810" width="12" height="4" fill="#00c000"/>
<rect x="234" y="810" width="8" height="4" fill="#ffff00"/>
<rect x="242" y="810" width="4" height="4" fill="#ff8000"/>
<rect x="246" y="810" width="8" height="4" fill="#ffff00"/>
<rect x="254" y="810" width="4" height="4" fill="#00ffff"/>
<rect x="258" y="810" width="4" height="4" fill="#00c000"/>
<rect x="262" y="810" width="4" height="4" fill="#00ffff"/>
<rect x="266" y="810" width="4" height="4" fill="#00c0ff"/>
<rect x="190" y="814" width="4" height="4" fill="#00ffff"/>
<rect x="194" y="814" width="4" height="4" fill="#00c000"/>
<rect x="198" y="814" width="4" height="4" fill="#ffff00"/>
<rect x="202" y="814" width="8" height="4" fill="#ff8000"/>
<rect x="210" y="814" width="12" height="4" fill="#ffff00"/>
<rect x="222" y="814" width="12" height="4" fill="#00c000"/>
<rect x="234" y="814" width="8" height="4" fill="#ffff00"/>
<rect x="242" y="814" width="4" height="4" fill="#ff8000"/>
<rect x="246" y="814" width="8" height="4" fill="#ffff00"/>
<rect x="254" y="814" width="4" height="4" fill="#00c0ff"/>
<rect x="258" y="814" width="4" height="4" fill="#00c000"/>
<rect x="262" y="814" width="4" height="4" fill="#00ffff"/>
<rect x="266" y="814" width="4" height="4" fill="#00c0ff"/>
<rect x="190" y="818" width="4" height="4" fill="#00c0ff"/>
<rect x="190" y="818" width="2" height="4" fill="#0000cc"/>
<rect x="194" y="818" width="8" height="4" fill="#00c000"/>
<rect x="202" y="818" width="4" height="4" fill="#ffff00"/>
<rect x="206" y="818" width="4" height="4" fill="#ff8000"/>
<rect x="210" y="818" width="12" height="4" fill="#ffff00"/>
<rect x="222" y="818" width="12" height="4" fill="#00c000"/>
<rect x="234" y="818" width="12" height="4" fill="#ffff00"/>
<rect x="246" y="818" width="4" height="4" fill="#ff8000"/>
<rect x="250" y="818" width="4" height="4" fill="#ffff00"/>
<rect x="254" y="818" width="4" height="4" fill="#00ffff"/>
<rect x="258" y="818" width="4" height="4" fill="#00c000"/>
<rect x="262" y="818" width="8" height="4" fill="#00ffff"/>
<rect x="190" y="822" width="4" height="4" fill="#00c0ff"/>
<rect x="190" y="822" width="2" height="4" fill="#0000cc"/>
<rect x="194" y="822" width="8" height="4" fill="#00c000"/>
<rect x="202" y="822" width="4" height="4" fill="#ffff00"/>
<rect x="206" y="822" width="8" height="4" fill="#ff8000"/>
<rect x="214" y="822" width="12" height="4" fill="#ffff00"/>
<rect x="226" y="822" width="8" height="4" fill="#00c000"/>
<rect x="234" y="822" width="12" height="4" fill="#ffff00"/>
<rect x="246" y="822" width="4" height="4" fill="#ff8000"/>
<rect x="250" y="822" width="4" height="4" fill="#ffff00"/>
<rect x="254" y="822" width="4" height="4" fill="#00ffff"/>
<rect x="258" y="822" width="4" height="4" fill="#00c000"/>
<rect x="262" y="822" width="8" height="4" fill="#00ffff"/>
<rect x="270" y="822" width="4" height="4" fill="#00c0ff"/>
<rect x="190" y="826" width="4" height="4" fill="#00c0ff"/>
<rect x="190" y="826" width="2" height="4" fill="#0000cc"/>
<rect x="194" y="826" width="4" height="4" fill="#00ffff"/>
<rect x="198" y="826" width="4" height="4" fill="#00c000"/>
<rect x="202" y="826" width="4" height="4" fill="#ffff00"/>
<rect x="206" y="826" width="8" height="4" fill="#ff8000"/>
<rect x="214" y="826" width="12" height="4" fill="#ffff00"/>
<rect x="226" y="826" width="8" height="4" fill="#00c000"/>
<rect x="234" y="826" width="12" height="4" fill="#ffff00"/>
<rect x="246" y="826" width="4" height="4" fill="#ff8000"/>
<rect x="250" y="826" width="4" height="4" fill="#00c000"/>
<rect x="254" y="826" width="4" height="4" fill="#00ffff"/>
<rect x="258" y="826" width="8" height="4" fill="#00c000"/>
<rect x="266" y="826" width="4" height="4" fill="#00ffff"/>
<rect x="270" y="826" width="4" height="4" fill="#00c0ff"/>
<rect x="190" y="830" width="4" height="4" fill="#00c0ff"/>
<rect x="190" y="830" width="2" height="4" fill="#0000cc"/>
<rect x="194" y="830" width="4" height="4" fill="#00ffff"/>
<rect x="198" y="830" width="8" height="4" fill="#00c000"/>
<rect x="206" y="830" width="8" height="4" fill="#ff8000"/>
<rect x="214" y="830" width="12" height="4" fill="#ffff00"/>
<rect x="226" y="830" width="12" height="4" fill="#00c000"/>
<rect x="238" y="830" width="8" height="4" fill="#ffff00"/>
<rect x="246" y="830" width="8" height="4" fill="#ff8000"/>
<rect x="254" y="830" width="4" height="4" fill="#00c000"/>
<rect x="258" y="830" width="4" height="4" fill="#00ffff"/>
<rect x="262" y="830" width="4" height="4" fill="#00c000"/>
<rect x="266" y="830" width="4" height="4" fill="#00ffff"/>
<rect x="270" y="830" width="4" height="4" fill="#00c0ff"/>
<rect x="274" y="830" width="4" height="2" fill="#0000cc"/>
<rect x="274" y="832" width="4" height="2" fill="#00c0ff"/>
<rect x="190" y="834" width="4" height="4" fill="#ffffff"/>
<rect x="194" y="834" width="4" height="4" fill="#00ffff"/>
<rect x="198" y="834" width="8" height="4" fill="#00c000"/>
<rect x="206" y="834" width="12" height="4" fill="#ff8000"/>
<rect x="218" y="834" width="12" height="4" fill="#ffff00"/>
<rect x="230" y="834" width="8" height="4" fill="#00c000"/>
<rect x="238" y="834" width="8" height="4" fill="#ffff00"/>
<rect x="246" y="834" width="8" height="4" fill="#ff8000"/>
<rect x="254" y="834" width="4" height="4" fill="#00c000"/>
<rect x="258" y="834" width="4" height="4" fill="#00ffff"/>
<rect x="262" y="834" width="4" height="4" fill="#00c000"/>
<rect x="266" y="834" width="8" height="4" fill="#00ffff"/>
<rect x="274" y="834" width="4" height="4" fill="#00c0ff"/>
<rect x="278" y="834" width="4" height="2" fill="#0000cc"/>
<rect x="278" y="836" width="4" height="2" fill="#00c0ff"/>
<rect x="194" y="838" width="8" height="4" fill="#00ffff"/>
<rect x="202" y="838" width="4" height="4" fill="#00c000"/>
<rect x="206" y="838" width="4" height="4" fill="#ffff00"/>
<rect x="210" y="838" width="4" height="4" fill="#ff8000"/>
<rect x="214" y="838" width="4" height="4" fill="#ffff00"/>
<rect x="218" y="838" width="12" height="4" fill="#00c000"/>
<rect x="230" y="838" width="8" height="4" fill="#00ffff"/>
<rect x="238" y="838" width="12" height="4" fill="#00c000"/>
<rect x="250" y="838" width="4" height="4" fill="#ffff00"/>
<rect x="254" y="838" width="4" height="4" fill="#00ffff"/>
<rect x="258" y="838" width="4" height="4" fill="#00c0ff"/>
<rect x="262" y="838" width="4" height="4" fill="#00ffff"/>
<rect x="266" y="838" width="8" height="4" fill="#00c0ff"/>
<rect x="274" y="838" width="8" height="4" fill="#00c0ff"/>
<rect x="274" y="838" width="2" height="4" fill="#0000cc"/>
<rect x="278" y="838" width="2" height="4" fill="#0000cc"/>
<rect x="450" y="734" width="4" height="2" fill="#0000cc"/>
<rect x="450" y="736" width="4" height="2" fill="#00c0ff"/>
<rect x="450" y="738" width="4" height="4" fill="#00c0ff"/>
<rect x="450" y="738" width="2" height="4" fill="#0000cc"/>
<rect x="454" y="738" width="8" height="2" fill="#0000cc"/>
<rect x="454" y="740" width="8" height="2" fill="#00c0ff"/>
<rect x="434" y="742" width="8" height="2" fill="#0000cc"/>
<rect x="434" y="744" width="8" height="2" fill="#00c0ff"/>
<rect x="446" y="742" width="4" height="2" fill="#0000cc"/>
<rect x="446" y="744" width="4" height="2" fill="#00c0ff"/>
<rect x="450" y="742" width="4" height="4" fill="#00c0ff"/>
<rect x="454" y="742" width="8" height="4" fill="#00c0ff"/>
<rect x="454" y="742" width="2" height="4" fill="#0000cc"/>
<rect x="458" y="742" width="2" height="4" fill="#0000cc"/>
<rect x="462" y="742" width="4" height="2" fill="#0000cc"/>
<rect x="462" y="744" width="4" height="2" fill="#00c0ff"/>
<rect x="430" y="746" width="4" height="2" fill="#0000cc"/>
<rect x="430" y="748" width="4" height="2" fill="#00c0ff"/>
<rect x="434" y="746" width="8" height="4" fill="#00c0ff"/>
<rect x="434" y="746" width="2" height="4" fill="#0000cc"/>
<rect x="438" y="746" width="2" height="4" fill="#0000cc"/>
<rect x="446" y="746" width="4" height="4" fill="#00c0ff"/>
<rect x="450" y="746" width="8" height="4" fill="#00c0ff"/>
<rect x="450" y="746" width="2" height="4" fill="#0000cc"/>
<rect x="454" y="746" width="2" height="4" fill="#0000cc"/>
<rect x="458" y="746" width="8" height="4" fill="#00c0ff"/>
<rect x="466" y="746" width="8" height="2" fill="#0000cc"/>
<rect x="466" y="748" width="8" height="2" fill="#00c0ff"/>
<rect x="426" y="750" width="4" height="2" fill="#0000cc"/>
<rect x="426" y="752" width="4" height="2" fill="#00c0ff"/>
<rect x="430" y="750" width="8" height="4" fill="#00c0ff"/>
<rect x="438" y="750" width="4" height="4" fill="#00c0ff"/>
<rect x="438" y="750" width="2" height="4" fill="#0000cc"/>
<rect x="442" y="750" width="4" height="2" fill="#0000cc"/>
<rect x="442" y="752" width="4" height="2" fill="#00c0ff"/>
<rect x="446" y="750" width="8" height="4" fill="#00c0ff"/>
<rect x="454" y="750" width="4" height="4" fill="#00c0ff"/>
<rect x="454" y="750" width="2" height="4" fill="#0000cc"/>
<rect x="458" y="750" width="8" height="4" fill="#00c0ff"/>
<rect x="466" y="750" width="8" height="4" fill="#00c0ff"/>
<rect x="466" y="750" width="2" height="4" fill="#0000cc"/>
<rect x="470" y="750" width="2" height="4" fill="#0000cc"/>
<rect x="526" y="750" width="4" height="2" fill="#0000cc"/>
<rect x="526" y="752" width="4" height="2" fill="#00c0ff"/>
<rect x="426" y="754" width="16" height="4" fill="#00c0ff"/>
<rect x="442" y="754" width="8" height="4" fill="#00ffff"/>
<rect x="450" y="754" width="4" height="4" fill="#00c0ff"/>
<rect x="450" y="754" width="2" height="4" fill="#0000cc"/>
<rect x="454" y="754" width="4" height="4" fill="#00c0ff"/>
<rect x="458" y="754" width="4" height="4" fill="#00ffff"/>
<rect x="462" y="754" width="4" height="4" fill="#00c0ff"/>
<rect x="466" y="754" width="4" height="4" fill="#00c0ff"/>
<rect x="466" y="754" width="2" height="4" fill="#0000cc"/>
<rect x="506" y="754" width="4" height="2" fill="#0000cc"/>
<rect x="506" y="756" width="4" height="2" fill="#00c0ff"/>
<rect x="522" y="754" width="4" height="2" fill="#0000cc"/>
<rect x="522" y="756" width="4" height="2" fill="#00c0ff"/>
<rect x="526" y="754" width="4" height="4" fill="#00c0ff"/>
<rect x="530" y="754" width="4" height="4" fill="#00ffff"/>
<rect x="534" y="754" width="4" height="2" fill="#0000cc"/>
<rect x="534" y="756" width="4" height="2" fill="#00c0ff"/>
<rect x="426" y="758" width="4" height="4" fill="#00c0ff"/>
<rect x="430" y="758" width="8" height="4" fill="#00ffff"/>
<rect x="438" y="758" width="4" height="4" fill="#00c0ff"/>
<rect x="442" y="758" width="8" height="4" fill="#00ffff"/>
<rect x="450" y="758" width="4" height="4" fill="#00c0ff"/>
<rect x="450" y="758" width="2" height="4" fill="#0000cc"/>
<rect x="454" y="758" width="8" height="4" fill="#00ffff"/>
<rect x="462" y="758" width="4" height="4" fill="#00c0ff"/>
<rect x="466" y="758" width="4" height="4" fill="#00c0ff"/>
<rect x="466" y="758" width="2" height="4" fill="#0000cc"/>
<rect x="494" y="758" width="4" height="2" fill="#0000cc"/>
<rect x="494" y="760" width="4" height="2" fill="#00c0ff"/>
<rect x="506" y="758" width="4" height="4" fill="#00ffff"/>
<rect x="510" y="758" width="4" height="2" fill="#0000cc"/>
<rect x="510" y="760" width="4" height="2" fill="#00c0ff"/>
<rect x="522" y="758" width="4" height="4" fill="#00c0ff"/>
<rect x="522" y="758" width="2" height="4" fill="#0000cc"/>
<rect x="526" y="758" width="4" height="4" fill="#00c0ff"/>
<rect x="530" y="758" width="4" height="4" fill="#00ffff"/>
<rect x="534" y="758" width="4" height="4" fill="#00c0ff"/>
<rect x="534" y="758" width="2" height="4" fill="#0000cc"/>
<rect x="430" y="762" width="8" height="4" fill="#00ffff"/>
<rect x="438" y="762" width="4" height="4" fill="#00c0ff"/>
<rect x="442" y="762" width="24" height="4" fill="#00ffff"/>
<rect x="466" y="762" width="4" height="4" fill="#00c0ff"/>
<rect x="470" y="762" width="12" height="2" fill="#0000cc"/>
<rect x="470" y="764" width="12" height="2" fill="#00c0ff"/>
<rect x="494" y="762" width="4" height="4" fill="#00c0ff"/>
<rect x="498" y="762" width="8" height="2" fill="#0000cc"/>
<rect x="498" y="764" width="8" height="2" fill="#00c0ff"/>
<rect x="506" y="762" width="8" height="4" fill="#00ffff"/>
<rect x="514" y="762" width="4" height="4" fill="#00c0ff"/>
<rect x="518" y="762" width="4" height="2" fill="#0000cc"/>
<rect x="518" y="764" width="4" height="2" fill="#00c0ff"/>
<rect x="522" y="762" width="4" height="4" fill="#00c0ff"/>
<rect x="522" y="762" width="2" height="4" fill="#0000cc"/>
<rect x="526" y="762" width="4" height="4" fill="#00c0ff"/>
<rect x="530" y="762" width="4" height="4" fill="#00c000"/>
<rect x="534" y="762" width="4" height="4" fill="#00c0ff"/>
<rect x="430" y="766" width="4" height="4" fill="#00ffff"/>
<rect x="434" y="766" width="4" height="4" fill="#00c0ff"/>
<rect x="438" y="766" width="16" height="4" fill="#00ffff"/>
<rect x="454" y="766" width="4" height="4" fill="#00c0ff"/>
<rect x="458" y="766" width="12" height="4" fill="#00ffff"/>
<rect x="470" y="766" width="4" height="4" fill="#00c0ff"/>
<rect x="474" y="766" width="4" height="4" fill="#00c0ff"/>
<rect x="474" y="766" width="2" height="4" fill="#0000cc"/>
<rect x="478" y="766" width="4" height="4" fill="#00c0ff"/>
<rect x="482" y="766" width="4" height="2" fill="#0000cc"/>
<rect x="482" y="768" width="4" height="2" fill="#00c0ff"/>
<rect x="494" y="766" width="4" height="4" fill="#00c0ff"/>
<rect x="494" y="766" width="2" height="4" fill="#0000cc"/>
<rect x="498" y="766" width="8" height="4" fill="#00c0ff"/>
<rect x="506" y="766" width="8" height="4" fill="#00ffff"/>
<rect x="514" y="766" width="8" height="4" fill="#00c0ff"/>
<rect x="522" y="766" width="8" height="4" fill="#00c0ff"/>
<rect x="522" y="766" width="2" height="4" fill="#0000cc"/>
<rect x="526" y="766" width="2" height="4" fill="#0000cc"/>
<rect x="530" y="766" width="4" height="4" fill="#00ffff"/>
<rect x="534" y="766" width="4" height="4" fill="#00c0ff"/>
<rect x="430" y="770" width="4" height="4" fill="#00ffff"/>
<rect x="434" y="770" width="4" height="4" fill="#00c0ff"/>
<rect x="438" y="770" width="40" height="4" fill="#00ffff"/>
<rect x="478" y="770" width="4" height="4" fill="#00c0ff"/>
<rect x="482" y="770" width="4" height="4" fill="#00c0ff"/>
<rect x="482" y="770" width="2" height="4" fill="#0000cc"/>
<rect x="486" y="770" width="8" height="2" fill="#0000cc"/>
<rect x="486" y="772" width="8" height="2" fill="#00c0ff"/>
<rect x="494" y="770" width="4" height="4" fill="#00c0ff"/>
<rect x="494" y="770" width="2" height="4" fill="#0000cc"/>
<rect x="498" y="770" width="4" height="4" fill="#00ffff"/>
<rect x="502" y="770" width="4" height="4" fill="#00c0ff"/>
<rect x="506" y="770" width="4" height="4" fill="#00ffff"/>
<rect x="510" y="770" width="4" height="4" fill="#00c0ff"/>
<rect x="514" y="770" width="4" height="4" fill="#00ffff"/>
<rect x="518" y="770" width="4" height="4" fill="#00c0ff"/>
<rect x="522" y="770" width="8" height="4" fill="#00c0ff"/>
<rect x="522" y="770" width="2" height="4" fill="#0000cc"/>
<rect x="526" y="770" width="2" height="4" fill="#0000cc"/>
<rect x="530" y="770" width="4" height="4" fill="#00ffff"/>
<rect x="534" y="770" width="4" height="4" fill="#00c0ff"/>
<rect x="538" y="770" width="4" height="2" fill="#0000cc"/>
<rect x="538" y="772" width="4" height="2" fill="#00c0ff"/>
<rect x="430" y="774" width="12" height="4" fill="#00ffff"/>
<rect x="442" y="774" width="4" height="4" fill="#00c0ff"/>
<rect x="446" y="774" width="4" height="4" fill="#00ffff"/>
<rect x="450" y="774" width="4" height="4" fill="#00c0ff"/>
<rect x="454" y="774" width="4" height="4" fill="#00ffff"/>
<rect x="458" y="774" width="4" height="4" fill="#00c0ff"/>
<rect x="458" y="774" width="2" height="4" fill="#0000cc"/>
<rect x="462" y="774" width="16" height="4" fill="#00ffff"/>
<rect x="478" y="774" width="4" height="4" fill="#00c0ff"/>
<rect x="478" y="774" width="2" height="4" fill="#0000cc"/>
<rect x="482" y="774" width="4" height="4" fill="#00c0ff"/>
<rect x="486" y="774" width="12" height="4" fill="#00c0ff"/>
<rect x="486" y="774" width="2" height="4" fill="#0000cc"/>
<rect x="490" y="774" width="2" height="4" fill="#0000cc"/>
<rect x="494" y="774" width="2" height="4" fill="#0000cc"/>
<rect x="498" y="774" width="4" height="4" fill="#00ffff"/>
<rect x="502" y="774" width="8" height="4" fill="#00c0ff"/>
<rect x="510" y="774" width="8" height="4" fill="#00ffff"/>
<rect x="518" y="774" width="4" height="4" fill="#00c0ff"/>
<rect x="522" y="774" width="8" height="4" fill="#00c0ff"/>
<rect x="522" y="774" width="2" height="4" fill="#0000cc"/>
<rect x="526" y="774" width="2" height="4" fill="#0000cc"/>
<rect x="530" y="774" width="4" height="4" fill="#00ffff"/>
<rect x="534" y="774" width="4" height="4" fill="#00c0ff"/>
<rect x="538" y="774" width="4" height="4" fill="#00c0ff"/>
<rect x="538" y="774" width="2" height="4" fill="#0000cc"/>
<rect x="430" y="778" width="4" height="4" fill="#00c0ff"/>
<rect x="430" y="778" width="2" height="4" fill="#0000cc"/>
<rect x="434" y="778" width="24" height="4" fill="#00c000"/>
<rect x="458" y="778" width="4" height="4" fill="#00ffff"/>
<rect x="462" y="778" width="20" height="4" fill="#00c000"/>
<rect x="482" y="778" width="4" height="4" fill="#00c0ff"/>
<rect x="482" y="778" width="2" height="4" fill="#0000cc"/>
<rect x="486" y="778" width="4" height="4" fill="#00c0ff"/>
<rect x="490" y="778" width="4" height="4" fill="#00c0ff"/>
<rect x="490" y="778" width="2" height="4" fill="#0000cc"/>
<rect x="494" y="778" width="24" height="4" fill="#00ffff"/>
<rect x="518" y="778" width="4" height="4" fill="#00c0ff"/>
<rect x="522" y="778" width="12" height="4" fill="#00c0ff"/>
<rect x="522" y="778" width="2" height="4" fill="#0000cc"/>
<rect x="526" y="778" width="2" height="4" fill="#0000cc"/>
<rect x="530" y="778" width="2" height="4" fill="#0000cc"/>
<rect x="534" y="778" width="4" height="4" fill="#00ffff"/>
<rect x="430" y="782" width="4" height="4" fill="#00c0ff"/>
<rect x="434" y="782" width="16" height="4" fill="#ffff00"/>
<rect x="450" y="782" width="4" height="4" fill="#ff8000"/>
<rect x="454" y="782" width="12" height="4" fill="#ffff00"/>
<rect x="466" y="782" width="12" height="4" fill="#ff8000"/>
<rect x="478" y="782" width="4" height="4" fill="#ffff00"/>
<rect x="482" y="782" width="4" height="4" fill="#00c000"/>
<rect x="486" y="782" width="4" height="4" fill="#00c0ff"/>
<rect x="490" y="782" width="4" height="4" fill="#00ffff"/>
<rect x="494" y="782" width="4" height="4" fill="#00c000"/>
<rect x="498" y="782" width="4" height="4" fill="#ffff00"/>
<rect x="502" y="782" width="4" height="4" fill="#00c000"/>
<rect x="506" y="782" width="4" height="4" fill="#00ffff"/>
<rect x="510" y="782" width="8" height="4" fill="#00c000"/>
<rect x="518" y="782" width="16" height="4" fill="#00ffff"/>
<rect x="534" y="782" width="4" height="4" fill="#00c000"/>
<rect x="538" y="782" width="4" height="4" fill="#00ffff"/>
<rect x="434" y="786" width="4" height="4" fill="#00c000"/>
<rect x="438" y="786" width="4" height="4" fill="#ffff00"/>
<rect x="442" y="786" width="4" height="4" fill="#00c000"/>
<rect x="446" y="786" width="8" height="4" fill="#ffff00"/>
<rect x="454" y="786" width="8" height="4" fill="#ff8000"/>
<rect x="462" y="786" width="4" height="4" fill="#ffff00"/>
<rect x="466" y="786" width="12" height="4" fill="#ff8000"/>
<rect x="478" y="786" width="4" height="4" fill="#ffff00"/>
<rect x="482" y="786" width="4" height="4" fill="#00c0ff"/>
<rect x="486" y="786" width="4" height="4" fill="#00c0ff"/>
<rect x="486" y="786" width="2" height="4" fill="#0000cc"/>
<rect x="490" y="786" width="4" height="4" fill="#00ffff"/>
<rect x="494" y="786" width="8" height="4" fill="#00c000"/>
<rect x="502" y="786" width="4" height="4" fill="#ffff00"/>
<rect x="506" y="786" width="4" height="4" fill="#00ffff"/>
<rect x="510" y="786" width="8" height="4" fill="#00c000"/>
<rect x="518" y="786" width="4" height="4" fill="#ffff00"/>
<rect x="522" y="786" width="4" height="4" fill="#00ffff"/>
<rect x="526" y="786" width="4" height="4" fill="#00c0ff"/>
<rect x="526" y="786" width="2" height="4" fill="#0000cc"/>
<rect x="530" y="786" width="4" height="4" fill="#00ffff"/>
<rect x="534" y="786" width="4" height="4" fill="#ffff00"/>
<rect x="538" y="786" width="4" height="4" fill="#00ffff"/>
<rect x="434" y="790" width="4" height="4" fill="#00ffff"/>
<rect x="438" y="790" width="4" height="4" fill="#ffff00"/>
<rect x="442" y="790" width="4" height="4" fill="#00c000"/>
<rect x="446" y="790" width="8" height="4" fill="#ffff00"/>
<rect x="454" y="790" width="8" height="4" fill="#ff8000"/>
<rect x="462" y="790" width="4" height="4" fill="#ffff00"/>
<rect x="466" y="790" width="12" height="4" fill="#ff8000"/>
<rect x="478" y="790" width="4" height="4" fill="#ffff00"/>
<rect x="482" y="790" width="4" height="4" fill="#00c0ff"/>
<rect x="486" y="790" width="4" height="4" fill="#00c0ff"/>
<rect x="486" y="790" width="2" height="4" fill="#0000cc"/>
<rect x="490" y="790" width="4" height="4" fill="#00c0ff"/>
<rect x="494" y="790" width="4" height="4" fill="#00ffff"/>
<rect x="498" y="790" width="8" height="4" fill="#00c000"/>
<rect x="506" y="790" width="12" height="4" fill="#00ffff"/>
<rect x="518" y="790" width="4" height="4" fill="#00c000"/>
<rect x="522" y="790" width="4" height="4" fill="#00ffff"/>
<rect x="526" y="790" width="4" height="4" fill="#ffffff"/>
<rect x="530" y="790" width="4" height="4" fill="#00ffff"/>
<rect x="534" y="790" width="8" height="4" fill="#00c000"/>
<rect x="434" y="794" width="4" height="4" fill="#00c0ff"/>
<rect x="434" y="794" width="2" height="4" fill="#0000cc"/>
<rect x="438" y="794" width="8" height="4" fill="#00c000"/>
<rect x="446" y="794" width="20" height="4" fill="#ffff00"/>
<rect x="466" y="794" width="4" height="4" fill="#ff8000"/>
<rect x="470" y="794" width="8" height="4" fill="#ffff00"/>
<rect x="478" y="794" width="4" height="4" fill="#00c000"/>
<rect x="482" y="794" width="4" height="4" fill="#00c0ff"/>
<rect x="486" y="794" width="4" height="4" fill="#ffffff"/>
<rect x="490" y="794" width="4" height="4" fill="#00c0ff"/>
<rect x="494" y="794" width="4" height="4" fill="#00ffff"/>
<rect x="498" y="794" width="8" height="4" fill="#00c000"/>
<rect x="506" y="794" width="4" height="4" fill="#00ffff"/>
<rect x="510" y="794" width="4" height="4" fill="#00c0ff"/>
<rect x="514" y="794" width="4" height="4" fill="#00c0ff"/>
<rect x="514" y="794" width="2" height="4" fill="#0000cc"/>
<rect x="518" y="794" width="8" height="4" fill="#00ffff"/>
<rect x="526" y="794" width="4" height="4" fill="#00c0ff"/>
<rect x="530" y="794" width="4" height="4" fill="#ffffff"/>
<rect x="534" y="794" width="4" height="4" fill="#00ffff"/>
<rect x="538" y="794" width="4" height="4" fill="#00c000"/>
<rect x="434" y="798" width="4" height="4" fill="#00ffff"/>
<rect x="438" y="798" width="4" height="4" fill="#00c000"/>
<rect x="442" y="798" width="4" height="4" fill="#00ffff"/>
<rect x="446" y="798" width="8" height="4" fill="#00c000"/>
<rect x="454" y="798" width="8" height="4" fill="#ffff00"/>
<rect x="462" y="798" width="4" height="4" fill="#00c000"/>
<rect x="466" y="798" width="12" height="4" fill="#ffff00"/>
<rect x="478" y="798" width="4" height="4" fill="#00c000"/>
<rect x="482" y="798" width="4" height="4" fill="#00c0ff"/>
<rect x="486" y="798" width="4" height="4" fill="#ffffff"/>
<rect x="490" y="798" width="4" height="4" fill="#00c0ff"/>
<rect x="494" y="798" width="4" height="4" fill="#00ffff"/>
<rect x="498" y="798" width="8" height="4" fill="#00c000"/>
<rect x="506" y="798" width="4" height="4" fill="#00ffff"/>
<rect x="510" y="798" width="4" height="4" fill="#00c0ff"/>
<rect x="514" y="798" width="4" height="4" fill="#ffffff"/>
<rect x="518" y="798" width="4" height="4" fill="#00c0ff"/>
<rect x="518" y="798" width="2" height="4" fill="#0000cc"/>
<rect x="522" y="798" width="4" height="4" fill="#00ffff"/>
<rect x="526" y="798" width="4" height="4" fill="#00c0ff"/>
<rect x="526" y="798" width="2" height="4" fill="#0000cc"/>
<rect x="530" y="798" width="4" height="4" fill="#ffffff"/>
<rect x="534" y="798" width="4" height="4" fill="#00ffff"/>
<rect x="538" y="798" width="4" height="4" fill="#00c000"/>
<rect x="434" y="802" width="4" height="4" fill="#00ffff"/>
<rect x="438" y="802" width="4" height="4" fill="#00c000"/>
<rect x="442" y="802" width="4" height="4" fill="#00ffff"/>
<rect x="446" y="802" width="12" height="4" fill="#00c000"/>
<rect x="458" y="802" width="4" height="4" fill="#ffff00"/>
<rect x="462" y="802" width="4" height="4" fill="#00c000"/>
<rect x="466" y="802" width="12" height="4" fill="#ffff00"/>
<rect x="478" y="802" width="4" height="4" fill="#00c000"/>
<rect x="482" y="802" width="4" height="4" fill="#00c0ff"/>
<rect x="486" y="802" width="4" height="4" fill="#00c0ff"/>
<rect x="486" y="802" width="2" height="4" fill="#0000cc"/>
<rect x="490" y="802" width="4" height="4" fill="#00c0ff"/>
<rect x="494" y="802" width="4" height="4" fill="#00ffff"/>
<rect x="498" y="802" width="8" height="4" fill="#00c000"/>
<rect x="506" y="802" width="4" height="4" fill="#00ffff"/>
<rect x="510" y="802" width="4" height="4" fill="#00c0ff"/>
<rect x="510" y="802" width="2" height="4" fill="#0000cc"/>
<rect x="514" y="802" width="8" height="4" fill="#ffffff"/>
<rect x="522" y="802" width="8" height="4" fill="#00ffff"/>
<rect x="530" y="802" width="4" height="4" fill="#ffffff"/>
<rect x="534" y="802" width="4" height="4" fill="#00c0ff"/>
<rect x="538" y="802" width="4" height="4" fill="#00c000"/>
<rect x="434" y="806" width="4" height="4" fill="#00ffff"/>
<rect x="438" y="806" width="20" height="4" fill="#00c000"/>
<rect x="458" y="806" width="4" height="4" fill="#ffff00"/>
<rect x="462" y="806" width="4" height="4" fill="#00c000"/>
<rect x="466" y="806" width="12" height="4" fill="#ffff00"/>
<rect x="478" y="806" width="4" height="4" fill="#00c000"/>
<rect x="482" y="806" width="4" height="4" fill="#00c0ff"/>
<rect x="486" y="806" width="4" height="4" fill="#00c0ff"/>
<rect x="486" y="806" width="2" height="4" fill="#0000cc"/>
<rect x="490" y="806" width="4" height="4" fill="#00c0ff"/>
<rect x="494" y="806" width="8" height="4" fill="#00ffff"/>
<rect x="502" y="806" width="4" height="4" fill="#00c000"/>
<rect x="506" y="806" width="4" height="4" fill="#00ffff"/>
<rect x="510" y="806" width="4" height="4" fill="#00c0ff"/>
<rect x="514" y="806" width="4" height="4" fill="#00c0ff"/>
<rect x="514" y="806" width="2" height="4" fill="#0000cc"/>
<rect x="518" y="806" width="4" height="4" fill="#ffffff"/>
<rect x="522" y="806" width="8" height="4" fill="#00ffff"/>
<rect x="530" y="806" width="4" height="4" fill="#00c0ff"/>
<rect x="530" y="806" width="2" height="4" fill="#0000cc"/>
<rect x="534" y="806" width="4" height="4" fill="#00c0ff"/>
<rect x="538" y="806" width="4" height="4" fill="#00ffff"/>
<rect x="434" y="810" width="4" height="4" fill="#00ffff"/>
<rect x="438" y="810" width="20" height="4" fill="#00c000"/>
<rect x="458" y="810" width="4" height="4" fill="#ffff00"/>
<rect x="462" y="810" width="4" height="4" fill="#00c000"/>
<rect x="466" y="810" width="12" height="4" fill="#ffff00"/>
<rect x="478" y="810" width="4" height="4" fill="#00c000"/>
<rect x="482" y="810" width="12" height="4" fill="#00c0ff"/>
<rect x="494" y="810" width="8" height="4" fill="#00ffff"/>
<rect x="502" y="810" width="4" height="4" fill="#00c000"/>
<rect x="506" y="810" width="4" height="4" fill="#00ffff"/>
<rect x="510" y="810" width="4" height="4" fill="#00c0ff"/>
<rect x="514" y="810" width="4" height="4" fill="#00c0ff"/>
<rect x="514" y="810" width="2" height="4" fill="#0000cc"/>
<rect x="518" y="810" width="4" height="4" fill="#ffffff"/>
<rect x="522" y="810" width="8" height="4" fill="#00ffff"/>
<rect x="530" y="810" width="4" height="4" fill="#00c0ff"/>
<rect x="530" y="810" width="2" height="4" fill="#0000cc"/>
<rect x="534" y="810" width="4" height="4" fill="#00c0ff"/>
<rect x="538" y="810" width="4" height="4" fill="#00c000"/>
<rect x="542" y="810" width="4" height="2" fill="#0000cc"/>
<rect x="542" y="812" width="4" height="2" fill="#00c0ff"/>
<rect x="434" y="814" width="4" height="4" fill="#00ffff"/>
<rect x="438" y="814" width="20" height="4" fill="#00c000"/>
<rect x="458" y="814" width="4" height="4" fill="#ffff00"/>
<rect x="462" y="814" width="4" height="4" fill="#00c000"/>
<rect x="466" y="814" width="4" height="4" fill="#ffff00"/>
<rect x="470" y="814" width="4" height="4" fill="#ff8000"/>
<rect x="474" y="814" width="4" height="4" fill="#ffff00"/>
<rect x="478" y="814" width="4" height="4" fill="#00c000"/>
<rect x="482" y="814" width="4" height="4" fill="#00c0ff"/>
<rect x="486" y="814" width="4" height="4" fill="#00c0ff"/>
<rect x="486" y="814" width="2" height="4" fill="#0000cc"/>
<rect x="490" y="814" width="4" height="4" fill="#00c0ff"/>
<rect x="494" y="814" width="8" height="4" fill="#00ffff"/>
<rect x="502" y="814" width="4" height="4" fill="#00c000"/>
<rect x="506" y="814" width="4" height="4" fill="#00ffff"/>
<rect x="510" y="814" width="4" height="4" fill="#00c0ff"/>
<rect x="514" y="814" width="8" height="4" fill="#00c0ff"/>
<rect x="514" y="814" width="2" height="4" fill="#0000cc"/>
<rect x="518" y="814" width="2" height="4" fill="#0000cc"/>
<rect x="522" y="814" width="8" height="4" fill="#00ffff"/>
<rect x="530" y="814" width="4" height="4" fill="#00c0ff"/>
<rect x="530" y="814" width="2" height="4" fill="#0000cc"/>
<rect x="534" y="814" width="4" height="4" fill="#00c0ff"/>
<rect x="538" y="814" width="4" height="4" fill="#00c000"/>
<rect x="542" y="814" width="4" height="4" fill="#00c0ff"/>
<rect x="542" y="814" width="2" height="4" fill="#0000cc"/>
<rect x="430" y="818" width="4" height="2" fill="#0000cc"/>
<rect x="430" y="820" width="4" height="2" fill="#00c0ff"/>
<rect x="434" y="818" width="4" height="4" fill="#00ffff"/>
<rect x="438" y="818" width="20" height="4" fill="#00c000"/>
<rect x="458" y="818" width="4" height="4" fill="#ffff00"/>
<rect x="462" y="818" width="4" height="4" fill="#00c000"/>
<rect x="466" y="818" width="8" height="4" fill="#ff8000"/>
<rect x="474" y="818" width="4" height="4" fill="#ffff00"/>
<rect x="478" y="818" width="4" height="4" fill="#00c000"/>
<rect x="482" y="818" width="4" height="4" fill="#00c0ff"/>
<rect x="486" y="818" width="4" height="4" fill="#00c0ff"/>
<rect x="486" y="818" width="2" height="4" fill="#0000cc"/>
<rect x="490" y="818" width="8" height="4" fill="#00c0ff"/>
<rect x="498" y="818" width="8" height="4" fill="#00c000"/>
<rect x="506" y="818" width="4" height="4" fill="#00ffff"/>
<rect x="510" y="818" width="4" height="4" fill="#00c0ff"/>
<rect x="514" y="818" width="4" height="4" fill="#00c0ff"/>
<rect x="514" y="818" width="2" height="4" fill="#0000cc"/>
<rect x="518" y="818" width="4" height="4" fill="#ffffff"/>
<rect x="522" y="818" width="4" height="4" fill="#00ffff"/>
<rect x="526" y="818" width="4" height="4" fill="#00c0ff"/>
<rect x="530" y="818" width="4" height="4" fill="#00c0ff"/>
<rect x="530" y="818" width="2" height="4" fill="#0000cc"/>
<rect x="534" y="818" width="12" height="4" fill="#00ffff"/>
<rect x="546" y="818" width="4" height="2" fill="#0000cc"/>
<rect x="546" y="820" width="4" height="2" fill="#00c0ff"/>
<rect x="430" y="822" width="4" height="4" fill="#00c0ff"/>
<rect x="430" y="822" width="2" height="4" fill="#0000cc"/>
<rect x="434" y="822" width="4" height="4" fill="#00ffff"/>
<rect x="438" y="822" width="20" height="4" fill="#00c000"/>
<rect x="458" y="822" width="4" height="4" fill="#ffff00"/>
<rect x="462" y="822" width="4" height="4" fill="#00c000"/>
<rect x="466" y="822" width="8" height="4" fill="#ff8000"/>
<rect x="474" y="822" width="4" height="4" fill="#ffff00"/>
<rect x="478" y="822" width="4" height="4" fill="#00c000"/>
<rect x="482" y="822" width="4" height="4" fill="#00c0ff"/>
<rect x="486" y="822" width="8" height="4" fill="#00c0ff"/>
<rect x="486" y="822" width="2" height="4" fill="#0000cc"/>
<rect x="490" y="822" width="2" height="4" fill="#0000cc"/>
<rect x="494" y="822" width="4" height="4" fill="#00c0ff"/>
<rect x="498" y="822" width="8" height="4" fill="#00c000"/>
<rect x="506" y="822" width="4" height="4" fill="#00ffff"/>
<rect x="510" y="822" width="8" height="4" fill="#00c0ff"/>
<rect x="518" y="822" width="4" height="4" fill="#00c0ff"/>
<rect x="518" y="822" width="2" height="4" fill="#0000cc"/>
<rect x="522" y="822" width="4" height="4" fill="#00ffff"/>
<rect x="526" y="822" width="8" height="4" fill="#00c0ff"/>
<rect x="534" y="822" width="8" height="4" fill="#00ffff"/>
<rect x="542" y="822" width="4" height="4" fill="#00c0ff"/>
<rect x="546" y="822" width="4" height="4" fill="#00c0ff"/>
<rect x="546" y="822" width="2" height="4" fill="#0000cc"/>
<rect x="430" y="826" width="4" height="4" fill="#ffffff"/>
<rect x="434" y="826" width="4" height="4" fill="#00ffff"/>
<rect x="438" y="826" width="28" height="4" fill="#00c000"/>
<rect x="466" y="826" width="8" height="4" fill="#ff8000"/>
<rect x="474" y="826" width="4" height="4" fill="#ffff00"/>
<rect x="478" y="826" width="4" height="4" fill="#00c000"/>
<rect x="482" y="826" width="4" height="4" fill="#00c0ff"/>
<rect x="486" y="826" width="8" height="4" fill="#00c0ff"/>
<rect x="486" y="826" width="2" height="4" fill="#0000cc"/>
<rect x="490" y="826" width="2" height="4" fill="#0000cc"/>
<rect x="494" y="826" width="4" height="4" fill="#00c0ff"/>
<rect x="498" y="826" width="8" height="4" fill="#00c000"/>
<rect x="506" y="826" width="4" height="4" fill="#00ffff"/>
<rect x="510" y="826" width="8" height="4" fill="#00c0ff"/>
<rect x="518" y="826" width="4" height="4" fill="#00c0ff"/>
<rect x="518" y="826" width="2" height="4" fill="#0000cc"/>
<rect x="522" y="826" width="4" height="4" fill="#00ffff"/>
<rect x="526" y="826" width="8" height="4" fill="#00c0ff"/>
<rect x="534" y="826" width="8" height="4" fill="#00ffff"/>
<rect x="542" y="826" width="4" height="4" fill="#00c0ff"/>
<rect x="546" y="826" width="4" height="4" fill="#00c0ff"/>
<rect x="546" y="826" width="2" height="4" fill="#0000cc"/>
<rect x="430" y="830" width="4" height="4" fill="#ffffff"/>
<rect x="434" y="830" width="4" height="4" fill="#00ffff"/>
<rect x="438" y="830" width="8" height="4" fill="#00c000"/>
<rect x="446" y="830" width="8" height="4" fill="#ffff00"/>
<rect x="454" y="830" width="8" height="4" fill="#00c000"/>
<rect x="462" y="830" width="4" height="4" fill="#ffff00"/>
<rect x="466" y="830" width="8" height="4" fill="#ff8000"/>
<rect x="474" y="830" width="8" height="4" fill="#ffff00"/>
<rect x="482" y="830" width="4" height="4" fill="#00c0ff"/>
<rect x="486" y="830" width="4" height="4" fill="#00c0ff"/>
<rect x="486" y="830" width="2" height="4" fill="#0000cc"/>
<rect x="490" y="830" width="8" height="4" fill="#00c0ff"/>
<rect x="498" y="830" width="4" height="4" fill="#00ffff"/>
<rect x="502" y="830" width="8" height="4" fill="#00c000"/>
<rect x="510" y="830" width="4" height="4" fill="#00ffff"/>
<rect x="514" y="830" width="4" height="4" fill="#00c0ff"/>
<rect x="518" y="830" width="4" height="4" fill="#00c0ff"/>
<rect x="518" y="830" width="2" height="4" fill="#0000cc"/>
<rect x="522" y="830" width="4" height="4" fill="#00ffff"/>
<rect x="526" y="830" width="8" height="4" fill="#00c0ff"/>
<rect x="534" y="830" width="8" height="4" fill="#00ffff"/>
<rect x="542" y="830" width="4" height="4" fill="#00c0ff"/>
<rect x="546" y="830" width="4" height="4" fill="#00c0ff"/>
<rect x="546" y="830" width="2" height="4" fill="#0000cc"/>
<rect x="430" y="834" width="4" height="4" fill="#ffffff"/>
<rect x="434" y="834" width="4" height="4" fill="#00ffff"/>
<rect x="438" y="834" width="4" height="4" fill="#00c000"/>
<rect x="442" y="834" width="8" height="4" fill="#ffff00"/>
<rect x="450" y="834" width="4" height="4" fill="#00c000"/>
<rect x="454" y="834" width="4" height="4" fill="#00ffff"/>
<rect x="458" y="834" width="4" height="4" fill="#00c000"/>
<rect x="462" y="834" width="4" height="4" fill="#ffff00"/>
<rect x="466" y="834" width="8" height="4" fill="#ff8000"/>
<rect x="474" y="834" width="4" height="4" fill="#ffff00"/>
<rect x="478" y="834" width="4" height="4" fill="#00c000"/>
<rect x="482" y="834" width="4" height="4" fill="#00c0ff"/>
<rect x="486" y="834" width="4" height="4" fill="#00c0ff"/>
<rect x="486" y="834" width="2" height="4" fill="#0000cc"/>
<rect x="490" y="834" width="4" height="4" fill="#00c0ff"/>
<rect x="494" y="834" width="8" height="4" fill="#00ffff"/>
<rect x="502" y="834" width="8" height="4" fill="#00c000"/>
<rect x="510" y="834" width="4" height="4" fill="#00ffff"/>
<rect x="514" y="834" width="4" height="4" fill="#00c0ff"/>
<rect x="518" y="834" width="8" height="4" fill="#00c0ff"/>
<rect x="518" y="834" width="2" height="4" fill="#0000cc"/>
<rect x="522" y="834" width="2" height="4" fill="#0000cc"/>
<rect x="526" y="834" width="8" height="4" fill="#00c0ff"/>
<rect x="534" y="834" width="8" height="4" fill="#00ffff"/>
<rect x="542" y="834" width="4" height="4" fill="#00c0ff"/>
<rect x="546" y="834" width="4" height="4" fill="#00c0ff"/>
<rect x="546" y="834" width="2" height="4" fill="#0000cc"/>
<rect x="434" y="838" width="4" height="4" fill="#00ffff"/>
<rect x="438" y="838" width="16" height="4" fill="#00c000"/>
<rect x="454" y="838" width="4" height="4" fill="#00ffff"/>
<rect x="458" y="838" width="8" height="4" fill="#00c000"/>
<rect x="466" y="838" width="8" height="4" fill="#ffff00"/>
<rect x="474" y="838" width="4" height="4" fill="#00c000"/>
<rect x="478" y="838" width="4" height="4" fill="#00ffff"/>
<rect x="482" y="838" width="12" height="4" fill="#00c0ff"/>
<rect x="482" y="838" width="2" height="4" fill="#0000cc"/>
<rect x="486" y="838" width="2" height="4" fill="#0000cc"/>
<rect x="490" y="838" width="2" height="4" fill="#0000cc"/>
<rect x="494" y="838" width="8" height="4" fill="#00c0ff"/>
<rect x="502" y="838" width="8" height="4" fill="#00ffff"/>
<rect x="510" y="838" width="8" height="4" fill="#00c0ff"/>
<rect x="518" y="838" width="8" height="4" fill="#00c0ff"/>
<rect x="518" y="838" width="2" height="4" fill="#0000cc"/>
<rect x="522" y="838" width="2" height="4" fill="#0000cc"/>
<rect x="526" y="838" width="4" height="4" fill="#00c0ff"/>
<rect x="530" y="838" width="8" height="4" fill="#00c0ff"/>
<rect x="530" y="838" width="2" height="4" fill="#0000cc"/>
<rect x="534" y="838" width="2" height="4" fill="#0000cc"/>
<rect x="538" y="838" width="4" height="4" fill="#00ffff"/>
<rect x="542" y="838" width="4" height="4" fill="#00c0ff"/>
<rect x="546" y="838" width="4" height="4" fill="#00c0ff"/>
<rect x="546" y="838" width="2" height="4" fill="#0000cc"/>
<rect x="36" y="37" width="2" height="6" fill="#80ff00"/>
<rect x="36" y="318" width="2" height="6" fill="#00ffff"/>
<rect x="36" y="599" width="2" height="3" fill="#00ffff"/>
<rect x="36" y="602" width="2" height="3" fill="#00c000"/>
<rect x="42" y="37" width="2" height="6" fill="#80ff00"/>
<rect x="42" y="318" width="2" height="6" fill="#00ffff"/>
<rect x="42" y="599" width="2" height="3" fill="#00ffff"/>
<rect x="42" y="602" width="2" height="3" fill="#00c000"/>
<rect x="46" y="37" width="4" height="6" fill="#80ff00"/>
<rect x="46" y="318" width="4" height="6" fill="#00ffff"/>
<rect x="46" y="599" width="4" height="3" fill="#00ffff"/>
<rect x="46" y="602" width="4" height="3" fill="#00c000"/>
<rect x="58" y="37" width="2" height="6" fill="#80ff00"/>
<rect x="58" y="318" width="2" height="6" fill="#00ffff"/>
<rect x="58" y="599" width="2" height="3" fill="#00ffff"/>
<rect x="58" y="602" width="2" height="3" fill="#00c000"/>
<rect x="62" y="37" width="2" height="6" fill="#80ff00"/>
<rect x="62" y="318" width="2" height="6" fill="#00ffff"/>
<rect x="62" y="599" width="2" height="3" fill="#00ffff"/>
<rect x="62" y="602" width="2" height="3" fill="#00c000"/>
<rect x="66" y="37" width="2" height="6" fill="#80ff00"/>
<rect x="66" y="318" width="2" height="6" fill="#00ffff"/>
<rect x="66" y="599" width="2" height="3" fill="#00ffff"/>
<rect x="66" y="602" width="2" height="3" fill="#00c000"/>
<rect x="70" y="37" width="4" height="6" fill="#80ff00"/>
<rect x="70" y="318" width="4" height="6" fill="#00ffff"/>
<rect x="70" y="599" width="4" height="3" fill="#00ffff"/>
<rect x="70" y="602" width="4" height="3" fill="#00c000"/>
<rect x="86" y="37" width="2" height="6" fill="#80ff00"/>
<rect x="86" y="318" width="2" height="6" fill="#00ffff"/>
<rect x="86" y="599" width="2" height="3" fill="#00ffff"/>
<rect x="86" y="602" width="2" height="3" fill="#00c000"/>
<rect x="94" y="39" width="2" height="6" fill="#80ff00"/>
<rect x="94" y="320" width="2" height="6" fill="#00ffff"/>
<rect x="94" y="601" width="2" height="3" fill="#00ffff"/>
<rect x="94" y="604" width="2" height="3" fill="#00c000"/>
<rect x="100" y="37" width="2" height="6" fill="#80ff00"/>
<rect x="100" y="318" width="2" height="6" fill="#00ffff"/>
<rect x="100" y="599" width="2" height="3" fill="#00ffff"/>
<rect x="100" y="602" width="2" height="3" fill="#00c000"/>
<rect x="114" y="37" width="2" height="6" fill="#80ff00"/>
<rect x="114" y="318" width="2" height="6" fill="#00ffff"/>
<rect x="114" y="599" width="2" height="3" fill="#00ffff"/>
<rect x="114" y="602" width="2" height="3" fill="#00c000"/>
<rect x="124" y="37" width="4" height="6" fill="#80ff00"/>
<rect x="124" y="318" width="4" height="6" fill="#00ffff"/>
<rect x="124" y="599" width="4" height="3" fill="#00ffff"/>
<rect x="124" y="602" width="4" height="3" fill="#00c000"/>
<rect x="144" y="37" width="2" height="6" fill="#80ff00"/>
<rect x="144" y="318" width="2" height="6" fill="#00ffff"/>
<rect x="144" y="599" width="2" height="3" fill="#00ffff"/>
<rect x="144" y="602" width="2" height="3" fill="#00c000"/>
<rect x="148" y="39" width="2" height="6" fill="#80ff00"/>
<rect x="148" y="320" width="2" height="6" fill="#00ffff"/>
<rect x="148" y="601" width="2" height="3" fill="#00ffff"/>
<rect x="148" y="604" width="2" height="3" fill="#00c000"/>
<rect x="162" y="37" width="4" height="6" fill="#80ff00"/>
<rect x="162" y="318" width="4" height="6" fill="#00ffff"/>
<rect x="162" y="599" width="4" height="3" fill="#00ffff"/>
<rect x="162" y="602" width="4" height="3" fill="#00c000"/>
<rect x="180" y="37" width="2" height="6" fill="#80ff00"/>
<rect x="180" y="318" width="2" height="6" fill="#00ffff"/>
<rect x="180" y="599" width="2" height="3" fill="#00ffff"/>
<rect x="180" y="602" width="2" height="3" fill="#00c000"/>
<rect x="190" y="37" width="2" height="6" fill="#00c000"/>
<rect x="190" y="318" width="2" height="6" fill="#00ffff"/>
<rect x="190" y="599" width="2" height="3" fill="#00ffff"/>
<rect x="190" y="602" width="2" height="3" fill="#00c000"/>
<rect x="214" y="39" width="2" height="6" fill="#80ff00"/>
<rect x="214" y="320" width="2" height="6" fill="#00ffff"/>
<rect x="214" y="601" width="2" height="3" fill="#00ffff"/>
<rect x="214" y="604" width="2" height="3" fill="#00c000"/>
<rect x="228" y="37" width="4" height="6" fill="#80ff00"/>
<rect x="228" y="318" width="4" height="6" fill="#00ffff"/>
<rect x="228" y="599" width="4" height="3" fill="#00ffff"/>
<rect x="228" y="602" width="4" height="3" fill="#00c000"/>
<rect x="238" y="37" width="2" height="6" fill="#80ff00"/>
<rect x="238" y="318" width="2" height="6" fill="#00ffff"/>
<rect x="238" y="599" width="2" height="3" fill="#00ffff"/>
<rect x="238" y="602" width="2" height="3" fill="#00c000"/>
<rect x="244" y="39" width="2" height="6" fill="#80ff00"/>
<rect x="244" y="320" width="2" height="6" fill="#00ffff"/>
<rect x="244" y="601" width="2" height="3" fill="#00ffff"/>
<rect x="244" y="604" width="2" height="3" fill="#00c000"/>
<rect x="250" y="37" width="2" height="6" fill="#80ff00"/>
<rect x="250" y="318" width="2" height="6" fill="#00ffff"/>
<rect x="250" y="599" width="2" height="3" fill="#00ffff"/>
<rect x="250" y="602" width="2" height="3" fill="#00c000"/>
<rect x="254" y="37" width="2" height="6" fill="#80ff00"/>
<rect x="254" y="318" width="2" height="6" fill="#00ffff"/>
<rect x="254" y="599" width="2" height="3" fill="#00ffff"/>
<rect x="254" y="602" width="2" height="3" fill="#00c000"/>
<rect x="258" y="37" width="2" height="6" fill="#80ff00"/>
<rect x="258" y="318" width="2" height="6" fill="#00ffff"/>
<rect x="258" y="599" width="2" height="3" fill="#00ffff"/>
<rect x="258" y="602" width="2" height="3" fill="#00c000"/>
<rect x="264" y="37" width="2" height="6" fill="#80ff00"/>
<rect x="264" y="318" width="2" height="6" fill="#00ffff"/>
<rect x="264" y="599" width="2" height="3" fill="#00ffff"/>
<rect x="264" y="602" width="2" height="3" fill="#00c000"/>
<rect x="284" y="37" width="2" height="6" fill="#80ff00"/>
<rect x="284" y="318" width="2" height="6" fill="#00ffff"/>
<rect x="284" y="599" width="2" height="3" fill="#00ffff"/>
<rect x="284" y="602" width="2" height="3" fill="#00c000"/>
<rect x="290" y="39" width="2" height="6" fill="#80ff00"/>
<rect x="290" y="320" width="2" height="6" fill="#00ffff"/>
<rect x="290" y="601" width="2" height="3" fill="#00ffff"/>
<rect x="290" y="604" width="2" height="3" fill="#00c000"/>
<rect x="294" y="37" width="2" height="6" fill="#80ff00"/>
<rect x="294" y="318" width="2" height="6" fill="#00ffff"/>
<rect x="294" y="599" width="2" height="3" fill="#00ffff"/>
<rect x="294" y="602" width="2" height="3" fill="#00c000"/>
<rect x="314" y="39" width="2" height="6" fill="#80ff00"/>
<rect x="314" y="320" width="2" height="6" fill="#00ffff"/>
<rect x="314" y="601" width="2" height="3" fill="#00ffff"/>
<rect x="314" y="604" width="2" height="3" fill="#00c000"/>
<rect x="326" y="37" width="2" height="6" fill="#80ff00"/>
<rect x="326" y="318" width="2" height="6" fill="#00ffff"/>
<rect x="326" y="599" width="2" height="3" fill="#00ffff"/>
<rect x="326" y="602" width="2" height="3" fill="#00c000"/>
<rect x="334" y="37" width="2" height="6" fill="#80ff00"/>
<rect x="334" y="318" width="2" height="6" fill="#00ffff"/>
<rect x="334" y="599" width="2" height="3" fill="#00ffff"/>
<rect x="334" y="602" width="2" height="3" fill="#00c000"/>
<rect x="338" y="37" width="4" height="6" fill="#80ff00"/>
<rect x="338" y="318" width="4" height="6" fill="#00ffff"/>
<rect x="338" y="599" width="4" height="3" fill="#00ffff"/>
<rect x="338" y="602" width="4" height="3" fill="#00c000"/>
<rect x="348" y="37" width="2" height="6" fill="#80ff00"/>
<rect x="348" y="318" width="2" height="6" fill="#00ffff"/>
<rect x="348" y="599" width="2" height="3" fill="#00ffff"/>
<rect x="348" y="602" width="2" height="3" fill="#00c000"/>
<rect x="366" y="37" width="6" height="6" fill="#80ff00"/>
<rect x="366" y="318" width="6" height="6" fill="#00ffff"/>
<rect x="366" y="599" width="6" height="3" fill="#00ffff"/>
<rect x="366" y="602" width="6" height="3" fill="#00c000"/>
<rect x="391" y="37" width="2" height="6" fill="#80ff00"/>
<rect x="391" y="318" width="2" height="6" fill="#00ffff"/>
<rect x="391" y="599" width="2" height="3" fill="#00ffff"/>
<rect x="391" y="602" width="2" height="3" fill="#00c000"/>
<rect x="398" y="37" width="2" height="6" fill="#80ff00"/>
<rect x="398" y="318" width="2" height="6" fill="#00ffff"/>
<rect x="398" y="599" width="2" height="3" fill="#00ffff"/>
<rect x="398" y="602" width="2" height="3" fill="#00c000"/>
<rect x="418" y="37" width="2" height="6" fill="#80ff00"/>
<rect x="418" y="318" width="2" height="6" fill="#00ffff"/>
<rect x="418" y="599" width="2" height="3" fill="#00ffff"/>
<rect x="418" y="602" width="2" height="3" fill="#00c000"/>
<rect x="424" y="37" width="6" height="6" fill="#00c000"/>
<rect x="424" y="318" width="6" height="6" fill="#00ffff"/>
<rect x="424" y="599" width="6" height="3" fill="#00ffff"/>
<rect x="424" y="602" width="6" height="3" fill="#00c000"/>
<rect x="450" y="37" width="2" height="6" fill="#00c000"/>
<rect x="450" y="318" width="2" height="6" fill="#00ffff"/>
<rect x="450" y="599" width="2" height="3" fill="#00ffff"/>
<rect x="450" y="602" width="2" height="3" fill="#00c000"/>
<rect x="454" y="37" width="4" height="6" fill="#80ff00"/>
<rect x="454" y="318" width="4" height="6" fill="#00ffff"/>
<rect x="454" y="599" width="4" height="3" fill="#00ffff"/>
<rect x="454" y="602" width="4" height="3" fill="#00c000"/>
<rect x="468" y="37" width="2" height="6" fill="#80ff00"/>
<rect x="468" y="318" width="2" height="6" fill="#00ffff"/>
<rect x="468" y="599" width="2" height="3" fill="#00ffff"/>
<rect x="468" y="602" width="2" height="3" fill="#00c000"/>
<rect x="478" y="37" width="4" height="6" fill="#80ff00"/>
<rect x="478" y="318" width="4" height="6" fill="#00ffff"/>
<rect x="478" y="599" width="4" height="3" fill="#00ffff"/>
<rect x="478" y="602" width="4" height="3" fill="#00c000"/>
<rect x="494" y="37" width="6" height="6" fill="#80ff00"/>
<rect x="494" y="318" width="6" height="6" fill="#00ffff"/>
<rect x="494" y="599" width="6" height="3" fill="#00ffff"/>
<rect x="494" y="602" width="6" height="3" fill="#00c000"/>
<rect x="524" y="37" width="2" height="6" fill="#80ff00"/>
<rect x="524" y="318" width="2" height="6" fill="#00ffff"/>
<rect x="524" y="599" width="2" height="3" fill="#00ffff"/>
<rect x="524" y="602" width="2" height="3" fill="#00c000"/>
<rect x="546" y="37" width="2" height="6" fill="#80ff00"/>
<rect x="546" y="318" width="2" height="6" fill="#00ffff"/>
<rect x="546" y="599" width="2" height="3" fill="#00ffff"/>
<rect x="546" y="602" width="2" height="3" fill="#00c000"/>
<rect x="550" y="37" width="2" height="6" fill="#80ff00"/>
<rect x="550" y="318" width="2" height="6" fill="#00ffff"/>
<rect x="550" y="599" width="2" height="3" fill="#00ffff"/>
<rect x="550" y="602" width="2" height="3" fill="#00c000"/>
<rect x="556" y="37" width="2" height="6" fill="#80ff00"/>
<rect x="556" y="318" width="2" height="6" fill="#00ffff"/>
<rect x="556" y="599" width="2" height="3" fill="#00ffff"/>
<rect x="556" y="602" width="2" height="3" fill="#00c000"/>
<rect x="564" y="37" width="2" height="6" fill="#00c000"/>
<rect x="564" y="318" width="2" height="6" fill="#00ffff"/>
<rect x="564" y="599" width="2" height="3" fill="#00ffff"/>
<rect x="564" y="602" width="2" height="3" fill="#00c000"/>
<rect x="571" y="37" width="2" height="6" fill="#80ff00"/>
<rect x="571" y="318" width="2" height="6" fill="#00ffff"/>
<rect x="571" y="599" width="2" height="3" fill="#00ffff"/>
<rect x="571" y="602" width="2" height="3" fill="#00c000"/>
<rect x="582" y="37" width="4" height="6" fill="#80ff00"/>
<rect x="582" y="318" width="4" height="6" fill="#00ffff"/>
<rect x="582" y="599" width="4" height="3" fill="#00ffff"/>
<rect x="582" y="602" width="4" height="3" fill="#00c000"/>
<rect x="594" y="37" width="2" height="6" fill="#80ff00"/>
<rect x="594" y="318" width="2" height="6" fill="#00ffff"/>
<rect x="594" y="599" width="2" height="3" fill="#00ffff"/>
<rect x="594" y="602" width="2" height="3" fill="#00c000"/>
<rect x="628" y="37" width="2" height="6" fill="#80ff00"/>
<rect x="628" y="318" width="2" height="6" fill="#00ffff"/>
<rect x="628" y="599" width="2" height="3" fill="#00ffff"/>
<rect x="628" y="602" width="2" height="3" fill="#00c000"/>
<rect x="636" y="37" width="2" height="6" fill="#80ff00"/>
<rect x="636" y="318" width="2" height="6" fill="#00ffff"/>
<rect x="636" y="599" width="2" height="3" fill="#00ffff"/>
<rect x="636" y="602" width="2" height="3" fill="#00c000"/>
<rect x="642" y="37" width="2" height="6" fill="#80ff00"/>
<rect x="642" y="318" width="2" height="6" fill="#00ffff"/>
<rect x="642" y="599" width="2" height="3" fill="#00ffff"/>
<rect x="642" y="602" width="2" height="3" fill="#00c000"/>
<rect x="648" y="37" width="2" height="6" fill="#00c000"/>
<rect x="648" y="318" width="2" height="6" fill="#00ffff"/>
<rect x="648" y="599" width="2" height="3" fill="#00ffff"/>
<rect x="648" y="602" width="2" height="3" fill="#00c000"/>
<rect x="656" y="37" width="2" height="6" fill="#00c000"/>
<rect x="656" y="318" width="2" height="6" fill="#00ffff"/>
<rect x="656" y="599" width="2" height="3" fill="#00ffff"/>
<rect x="656" y="602" width="2" height="3" fill="#00c000"/>
<rect x="660" y="37" width="2" height="6" fill="#80ff00"/>
<rect x="660" y="318" width="2" height="6" fill="#00ffff"/>
<rect x="660" y="599" width="2" height="3" fill="#00ffff"/>
<rect x="660" y="602" width="2" height="3" fill="#00c000"/>
<rect x="668" y="37" width="2" height="6" fill="#80ff00"/>
<rect x="668" y="318" width="2" height="6" fill="#00ffff"/>
<rect x="668" y="599" width="2" height="3" fill="#00ffff"/>
<rect x="668" y="602" width="2" height="3" fill="#00c000"/>
<rect x="676" y="37" width="2" height="6" fill="#00c000"/>
<rect x="676" y="318" width="2" height="6" fill="#00ffff"/>
<rect x="676" y="599" width="2" height="3" fill="#00ffff"/>
<rect x="676" y="602" width="2" height="3" fill="#00c000"/>
<rect x="684" y="37" width="4" height="6" fill="#80ff00"/>
<rect x="684" y="318" width="4" height="6" fill="#00ffff"/>
<rect x="684" y="599" width="4" height="3" fill="#00ffff"/>
<rect x="684" y="602" width="4" height="3" fill="#00c000"/>
<rect x="690" y="37" width="2" height="6" fill="#80ff00"/>
<rect x="690" y="318" width="2" height="6" fill="#00ffff"/>
<rect x="690" y="599" width="2" height="3" fill="#00ffff"/>
<rect x="690" y="602" width="2" height="3" fill="#00c000"/>
<rect x="696" y="37" width="2" height="6" fill="#80ff00"/>
<rect x="696" y="318" width="2" height="6" fill="#00ffff"/>
<rect x="696" y="599" width="2" height="3" fill="#00ffff"/>
<rect x="696" y="602" width="2" height="3" fill="#00c000"/>
<rect x="700" y="37" width="4" height="6" fill="#80ff00"/>
<rect x="700" y="318" width="4" height="6" fill="#00ffff"/>
<rect x="700" y="599" width="4" height="3" fill="#00ffff"/>
<rect x="700" y="602" width="4" height="3" fill="#00c000"/>
<rect x="708" y="37" width="2" height="6" fill="#80ff00"/>
<rect x="708" y="318" width="2" height="6" fill="#00ffff"/>
<rect x="708" y="599" width="2" height="3" fill="#00ffff"/>
<rect x="708" y="602" width="2" height="3" fill="#00c000"/>
<rect x="716" y="37" width="2" height="6" fill="#80ff00"/>
<rect x="716" y="318" width="2" height="6" fill="#00ffff"/>
<rect x="716" y="599" width="2" height="3" fill="#00ffff"/>
<rect x="716" y="602" width="2" height="3" fill="#00c000"/>
<rect x="720" y="37" width="14" height="6" fill="#80ff00"/>
<rect x="720" y="318" width="14" height="6" fill="#00ffff"/>
<rect x="720" y="599" width="14" height="3" fill="#00ffff"/>
<rect x="720" y="602" width="14" height="3" fill="#00c000"/>
<rect x="738" y="37" width="2" height="6" fill="#80ff00"/>
<rect x="738" y="318" width="2" height="6" fill="#00ffff"/>
<rect x="738" y="599" width="2" height="3" fill="#00ffff"/>
<rect x="738" y="602" width="2" height="3" fill="#00c000"/>
<rect x="744" y="37" width="2" height="6" fill="#80ff00"/>
<rect x="744" y="318" width="2" height="6" fill="#00ffff"/>
<rect x="744" y="599" width="2" height="3" fill="#00ffff"/>
<rect x="744" y="602" width="2" height="3" fill="#00c000"/>
<rect x="94" y="43" width="2" height="2" fill="#ff00ff"/>
<rect x="100" y="37" width="2" height="2" fill="#0000ff"/>
<rect x="114" y="37" width="2" height="2" fill="#ff00ff"/>
<rect x="426" y="37" width="2" height="2" fill="#0000ff"/>
<rect x="550" y="37" width="2" height="2" fill="#0000ff"/>
<rect x="582" y="43" width="2" height="2" fill="#ff00ff"/>
<rect x="624" y="43" width="2" height="2" fill="#ff00ff"/>
<rect x="208" y="133" width="2" height="6" fill="#ff8000"/>
<rect x="211" y="147" width="2" height="4" fill="#0000ff"/>
<rect x="632" y="277" width="2" height="2" fill="#0000ff"/>
<rect x="420" y="191" width="6" height="18" fill="#0080ff"/>
<rect x="422" y="191" width="2" height="2" fill="#0000ff"/>
<rect x="424" y="191" width="2" height="2" fill="#0000ff"/>
<rect x="420" y="193" width="2" height="2" fill="#0000ff"/>
<rect x="420" y="200" width="2" height="2" fill="#0000ff"/>
<rect x="422" y="202" width="2" height="2" fill="#0000ff"/>
<rect x="424" y="204" width="2" height="2" fill="#0000ff"/>
<rect x="420" y="206" width="2" height="2" fill="#0000ff"/>
<rect x="420" y="209" width="2" height="2" fill="#0000ff"/>
<rect x="420" y="472" width="6" height="18" fill="#80ffff"/>
<rect x="422" y="482" width="2" height="6" fill="#00ffff"/>
<rect x="420" y="476" width="2" height="2" fill="#00ffff"/>
<rect x="420" y="753" width="6" height="18" fill="#00c0ff"/>
<rect x="420" y="753" width="6" height="2" fill="#0000cc"/>
<rect x="422" y="755" width="4" height="4" fill="#0000cc"/>
<rect x="422" y="761" width="2" height="4" fill="#0000cc"/>
<rect x="420" y="763" width="2" height="5" fill="#0000cc"/>
<rect x="422" y="768" width="2" height="2" fill="#0000cc"/>
<rect x="208" y="695" width="2" height="2" fill="#0000cc"/>
<rect x="208" y="697" width="2" height="4" fill="#00c0ff"/>
<rect x="156" y="837" width="2" height="4" fill="#ffffff"/>
<rect x="162" y="839" width="4" height="2" fill="#ffffff"/>
<rect x="166" y="837" width="2" height="4" fill="#ffffff"/>
<rect x="372" y="837" width="2" height="4" fill="#ffffff"/>
<rect x="378" y="839" width="4" height="2" fill="#ffffff"/>
<rect x="384" y="837" width="2" height="4" fill="#ffffff"/>
<rect x="632" y="837" width="4" height="4" fill="#ffffff"/>
<rect x="636" y="839" width="6" height="2" fill="#ffffff"/>
<rect x="644" y="839" width="2" height="2" fill="#ffffff"/>
<rect x="30" y="25" width="720" height="1" fill="#000"/>
<rect x="30" y="40" width="720" height="1" fill="#000"/>
<rect x="30" y="100" width="720" height="1" fill="#000"/>
<rect x="30" y="160" width="720" height="1" fill="#000"/>
<rect x="30" y="220" width="720" height="1" fill="#000"/>
<rect x="30" y="280" width="720" height="1" fill="#000"/>
<rect x="30" y="25" width="1" height="256" fill="#000"/>
<rect x="210" y="25" width="1" height="256" fill="#000"/>
<rect x="390" y="25" width="1" height="256" fill="#000"/>
<rect x="570" y="25" width="1" height="256" fill="#000"/>
<rect x="749" y="25" width="1" height="256" fill="#000"/>
<rect x="30" y="306" width="720" height="1" fill="#000"/>
<rect x="30" y="321" width="720" height="1" fill="#000"/>
<rect x="30" y="381" width="720" height="1" fill="#000"/>
<rect x="30" y="441" width="720" height="1" fill="#000"/>
<rect x="30" y="501" width="720" height="1" fill="#000"/>
<rect x="30" y="561" width="720" height="1" fill="#000"/>
<rect x="30" y="306" width="1" height="256" fill="#000"/>
<rect x="210" y="306" width="1" height="256" fill="#000"/>
<rect x="390" y="306" width="1" height="256" fill="#000"/>
<rect x="570" y="306" width="1" height="256" fill="#000"/>
<rect x="749" y="306" width="1" height="256" fill="#000"/>
<rect x="30" y="587" width="720" height="1" fill="#000"/>
<rect x="30" y="602" width="720" height="1" fill="#000"/>
<rect x="30" y="662" width="720" height="1" fill="#000"/>
<rect x="30" y="722" width="720" height="1" fill="#000"/>
<rect x="30" y="782" width="720" height="1" fill="#000"/>
<rect x="30" y="842" width="720" height="1" fill="#000"/>
<rect x="30" y="587" width="1" height="256" fill="#000"/>
<rect x="210" y="587" width="1" height="256" fill="#000"/>
<rect x="390" y="587" width="1" height="256" fill="#000"/>
<rect x="570" y="587" width="1" height="256" fill="#000"/>
<rect x="749" y="587" width="1" height="256" fill="#000"/>
<rect x="784" y="78" width="31" height="14" fill="#ff00ff"/>
<rect x="784" y="92" width="31" height="13" fill="#ff0000"/>
<rect x="784" y="105" width="31" height="14" fill="#ff8000"/>
<rect x="784" y="119" width="31" height="13" fill="#ffff00"/>
<rect x="784" y="132" width="31" height="14" fill="#80ff00"/>
<rect x="784" y="146" width="31" height="13" fill="#00c000"/>
<rect x="784" y="159" width="31" height="14" fill="#00ffff"/>
<rect x="784" y="173" width="31" height="13" fill="#0080ff"/>
<rect x="784" y="186" width="31" height="14" fill="#0000ff"/>
<rect x="784" y="214" width="31" height="14" fill="#e0e0e0"/>
<rect x="784" y="359" width="31" height="9" fill="#000000"/>
<rect x="784" y="368" width="31" height="10" fill="#500050"/>
<rect x="784" y="378" width="31" height="9" fill="#aa00aa"/>
<rect x="784" y="387" width="31" height="9" fill="#ff00ff"/>
<rect x="784" y="396" width="31" height="9" fill="#ff0080"/>
<rect x="784" y="405" width="31" height="10" fill="#ff0000"/>
<rect x="784" y="415" width="31" height="9" fill="#ff8000"/>
<rect x="784" y="424" width="31" height="9" fill="#ffff00"/>
<rect x="784" y="433" width="31" height="10" fill="#80ff40"/>
<rect x="784" y="443" width="31" height="9" fill="#00c000"/>
<rect x="784" y="452" width="31" height="9" fill="#0000ff"/>
<rect x="784" y="461" width="31" height="9" fill="#0080ff"/>
<rect x="784" y="470" width="31" height="10" fill="#00ffff"/>
<rect x="784" y="480" width="31" height="9" fill="#80ffff"/>
<rect x="784" y="499" width="31" height="10" fill="#e0e0e0"/>
<rect x="784" y="640" width="31" height="12" fill="#a040a0"/>
<rect x="784" y="652" width="31" height="13" fill="#e000e0"/>
<rect x="784" y="665" width="31" height="13" fill="#990099"/>
<rect x="784" y="678" width="31" height="12" fill="#ff0000"/>
<rect x="784" y="690" width="31" height="12" fill="#ff8000"/>
<rect x="784" y="702" width="31" height="13" fill="#ffff00"/>
<rect x="784" y="715" width="31" height="13" fill="#00c000"/>
<rect x="784" y="728" width="31" height="12" fill="#00ffff"/>
<rect x="784" y="740" width="31" height="12" fill="#00c0ff"/>
<rect x="784" y="752" width="31" height="13" fill="#0000cc"/>
<rect x="784" y="777" width="31" height="12" fill="#e0e0e0"/>
<rect x="1" y="95" width="24" height="1" fill="#000"/>
<rect x="1" y="370" width="24" height="1" fill="#000"/>
<rect x="1" y="665" width="24" height="1" fill="#000"/>
</svg>
<div class="t" style="font-size:27.0px;transform:translate(241.0px,-1.4px) scaleX(0.9338)">2025−11−18</div>
<div class="t" style="font-size:27.0px;transform:translate(385.0px,-1.4px) scaleX(0.8929)">18:00−19:00 UTC</div>
<div class="t" style="font-size:13.3px;transform:translate(15.0px,282.5px) scaleX(0.9844)">18:00</div>
<div class="t" style="font-size:13.3px;transform:translate(195.0px,282.5px) scaleX(0.9858)">18:15</div>
<div class="t" style="font-size:13.3px;transform:translate(375.0px,282.5px) scaleX(0.9844)">18:30</div>
<div class="t" style="font-size:13.3px;transform:translate(555.0px,282.5px) scaleX(0.9858)">18:45</div>
<div class="t" style="font-size:13.3px;transform:translate(735.0px,282.5px) scaleX(0.9844)">19:00</div>
<div class="t" style="font-size:13.3px;transform:translate(15.0px,562.5px) scaleX(0.9844)">18:00</div>
<div class="t" style="font-size:13.3px;transform:translate(195.0px,562.5px) scaleX(0.9858)">18:15</div>
<div class="t" style="font-size:13.3px;transform:translate(375.0px,562.5px) scaleX(0.9844)">18:30</div>
<div class="t" style="font-size:13.3px;transform:translate(555.0px,562.5px) scaleX(0.9858)">18:45</div>
<div class="t" style="font-size:13.3px;transform:translate(735.0px,562.5px) scaleX(0.9844)">19:00</div>
<div class="t" style="font-size:13.3px;transform:translate(15.0px,842.5px) scaleX(0.9844)">18:00</div>
<div class="t" style="font-size:13.3px;transform:translate(195.0px,842.5px) scaleX(0.9858)">18:15</div>
<div class="t" style="font-size:13.3px;transform:translate(375.0px,842.5px) scaleX(0.9844)">18:30</div>
<div class="t" style="font-size:13.3px;transform:translate(555.0px,842.5px) scaleX(0.9858)">18:45</div>
<div class="t" style="font-size:13.3px;transform:translate(735.0px,842.5px) scaleX(0.9844)">19:00</div>
<div class="t" style="font-size:13.5px;transform:translate(753.0px,36.3px) scaleX(0.9231)">3 km</div>
<div class="t" style="font-size:13.5px;transform:translate(753.0px,115.3px) scaleX(0.9247)">2 km</div>
<div class="t" style="font-size:13.5px;transform:translate(751.0px,196.3px) scaleX(0.9853)">1 km</div>
<div class="t" style="font-size:13.5px;transform:translate(754.0px,274.3px) scaleX(0.8862)">0 km</div>
<div class="t" style="font-size:13.5px;transform:translate(753.0px,314.3px) scaleX(0.9231)">3 km</div>
<div class="t" style="font-size:13.5px;transform:translate(753.0px,393.3px) scaleX(0.9247)">2 km</div>
<div class="t" style="font-size:13.5px;transform:translate(751.0px,476.3px) scaleX(0.9853)">1 km</div>
<div class="t" style="font-size:13.5px;transform:translate(754.0px,554.3px) scaleX(0.8862)">0 km</div>
<div class="t" style="font-size:13.5px;transform:translate(753.0px,596.3px) scaleX(0.9231)">3 km</div>
<div class="t" style="font-size:13.5px;transform:translate(753.0px,675.3px) scaleX(0.9247)">2 km</div>
<div class="t" style="font-size:13.5px;transform:translate(751.0px,756.3px) scaleX(0.9853)">1 km</div>
<div class="t" style="font-size:13.5px;transform:translate(754.0px,834.3px) scaleX(0.8862)">0 km</div>
<div class="t" style="font-size:26.63px;transform:translate(-2.0px,226.0px) rotate(-90deg) scaleX(0.9519)">Fall Velocity</div>
<div class="t" style="font-size:28.2px;transform:translate(-4.0px,513.0px) rotate(-90deg) scaleX(0.8916)">Rain Intensity</div>
<div class="t" style="font-size:26.23px;transform:translate(-2.0px,780.0px) rotate(-90deg) scaleX(0.9159)">Reflectivity</div>
<div class="t" style="font-size:13.8px;transform:translate(800.0px,65.3px) scaleX(0.9655)">m/s</div>
<div class="t" style="font-size:13.3px;transform:translate(818.0px,82.5px) scaleX(0.9062)">8.0</div>
<div class="t" style="font-size:13.3px;transform:translate(817.0px,95.5px) scaleX(1.0135)">7.0</div>
<div class="t" style="font-size:13.3px;transform:translate(818.0px,109.5px) scaleX(0.9501)">6.0</div>
<div class="t" style="font-size:13.3px;transform:translate(817.0px,123.5px) scaleX(1.0135)">5.0</div>
<div class="t" style="font-size:13.3px;transform:translate(818.0px,137.5px) scaleX(0.9454)">4.0</div>
<div class="t" style="font-size:13.3px;transform:translate(817.0px,151.5px) scaleX(1.0135)">3.0</div>
<div class="t" style="font-size:13.3px;transform:translate(817.0px,166.5px) scaleX(0.9625)">2.0</div>
<div class="t" style="font-size:13.3px;transform:translate(815.0px,180.5px) scaleX(1.148)">1.0</div>
<div class="t" style="font-size:13.3px;transform:translate(818.0px,194.5px) scaleX(0.9417)">0.0</div>
<div class="t" style="font-size:13.8px;transform:translate(817.0px,208.6px) scaleX(0.9804)">miss</div>
<div class="t" style="font-size:13.8px;transform:translate(800.0px,345.3px) scaleX(0.858)">mm/hr</div>
<div class="t" style="font-size:13.3px;transform:translate(818.0px,357.5px) scaleX(0.913)">48.0</div>
<div class="t" style="font-size:13.3px;transform:translate(816.0px,377.5px) scaleX(1.0065)">12.0</div>
<div class="t" style="font-size:13.3px;transform:translate(818.0px,396.5px) scaleX(0.9501)">6.0</div>
<div class="t" style="font-size:13.3px;transform:translate(817.0px,415.5px) scaleX(1.0135)">3.0</div>
<div class="t" style="font-size:13.3px;transform:translate(816.0px,435.5px) scaleX(1.1039)">1.5</div>
<div class="t" style="font-size:13.3px;transform:translate(818.0px,455.5px) scaleX(0.9501)">0.5</div>
<div class="t" style="font-size:13.3px;transform:translate(818.0px,473.5px) scaleX(1.0362)">0.1</div>
<div class="t" style="font-size:13.3px;transform:translate(818.0px,482.5px) scaleX(0.9417)">0.0</div>
<div class="t" style="font-size:13.8px;transform:translate(817.0px,492.6px) scaleX(0.9804)">miss</div>
<div class="t" style="font-size:13.8px;transform:translate(801.0px,626.3px) scaleX(0.8282)">dBZ</div>
<div class="t" style="font-size:13.3px;transform:translate(819.0px,644.5px) scaleX(0.913)">40.0</div>
<div class="t" style="font-size:13.3px;transform:translate(818.0px,658.5px) scaleX(0.9545)">35.0</div>
<div class="t" style="font-size:13.3px;transform:translate(818.0px,669.5px) scaleX(0.9545)">30.0</div>
<div class="t" style="font-size:13.3px;transform:translate(818.0px,683.5px) scaleX(0.9545)">25.0</div>
<div class="t" style="font-size:13.3px;transform:translate(818.0px,695.5px) scaleX(0.9545)">20.0</div>
<div class="t" style="font-size:13.3px;transform:translate(817.0px,708.5px) scaleX(1.0065)">15.0</div>
<div class="t" style="font-size:13.3px;transform:translate(817.0px,721.5px) scaleX(1.0065)">10.0</div>
<div class="t" style="font-size:13.3px;transform:translate(818.0px,733.5px) scaleX(1.0135)">5.0</div>
<div class="t" style="font-size:13.3px;transform:translate(819.0px,746.5px) scaleX(0.9417)">0.0</div>
<div class="t" style="font-size:13.3px;transform:translate(818.0px,758.5px) scaleX(0.88)">−5.0</div>
<div class="t" style="font-size:13.8px;transform:translate(819.0px,768.9px) scaleX(0.9129)">none</div>
</body></html>
